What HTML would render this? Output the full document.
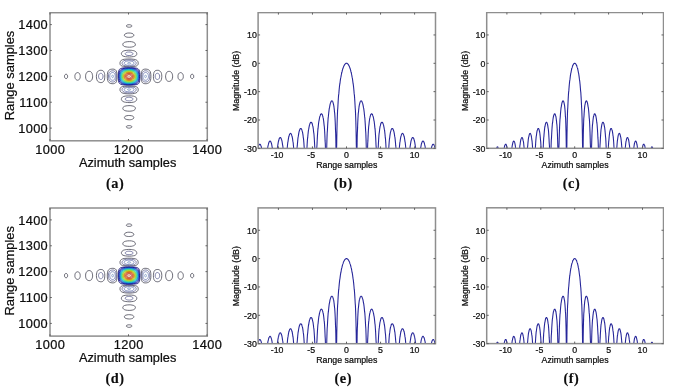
<!DOCTYPE html>
<html><head><meta charset="utf-8"><style>
html,body{margin:0;padding:0;background:#fff;}
body{width:685px;height:387px;overflow:hidden;}
svg{display:block;}
</style></head><body>
<svg width="685" height="387" viewBox="0 0 685 387">
<defs><filter id="bl" x="0" y="0" width="100%" height="100%"><feGaussianBlur stdDeviation="0.45"/></filter></defs>
<rect width="685" height="387" fill="#fff"/>
<g filter="url(#bl)">
<polyline points="130.2,27.1 129.5,27.2 128.8,27.2 128.0,27.1 127.3,26.9 126.8,26.7 126.5,26.4 126.3,26.0 126.4,25.8 126.6,25.4 127.0,25.1 127.5,24.9 128.1,24.8 129.5,24.7 130.2,24.8 130.8,25.0 131.2,25.1 131.6,25.4 131.8,25.8 131.8,26.2 131.6,26.5 131.2,26.8 130.2,27.1" fill="none" stroke="#3c3c4b" stroke-width="0.75"/>
<polyline points="129.8,37.3 128.4,37.3 127.2,37.2 126.3,37.0 125.5,36.6 124.8,36.2 124.4,35.6 124.4,35.0 124.5,34.6 125.1,34.0 126.0,33.5 127.4,33.1 128.9,33.0 130.5,33.1 131.9,33.4 132.9,33.8 133.6,34.5 133.8,34.9 133.8,35.5 133.6,36.0 133.1,36.4 132.6,36.7 131.8,37.0 130.8,37.2 129.8,37.3" fill="none" stroke="#3c3c4b" stroke-width="0.75"/>
<polyline points="131.3,47.1 129.5,47.2 127.7,47.1 126.0,46.9 124.7,46.6 123.6,46.0 123.1,45.4 122.8,44.6 122.9,43.9 123.1,43.5 123.5,43.0 124.4,42.4 125.7,42.0 127.4,41.7 129.5,41.6 131.4,41.7 133.1,42.1 133.8,42.4 134.3,42.7 135.0,43.3 135.3,44.0 135.4,44.8 135.1,45.5 134.6,46.0 133.7,46.5 132.6,46.8 131.3,47.1" fill="none" stroke="#3c3c4b" stroke-width="0.75"/>
<polyline points="129.6,57.0 127.4,56.9 125.5,56.7 124.0,56.4 122.8,55.9 122.0,55.3 121.7,54.8 121.5,54.4 121.4,54.0 121.4,53.3 121.8,52.5 122.1,52.0 122.6,51.5 123.3,51.1 124.1,50.8 125.0,50.6 126.2,50.4 128.8,50.2 131.4,50.3 132.6,50.5 133.7,50.7 134.6,51.0 135.3,51.4 135.9,51.8 136.3,52.3 136.6,52.8 136.7,53.2 136.8,53.8 136.8,54.2 136.6,54.7 136.4,55.1 135.7,55.8 134.8,56.3 133.4,56.6 131.8,56.8 129.6,57.0" fill="none" stroke="#3c3c4b" stroke-width="0.75"/>
<polyline points="133.1,66.6 129.6,66.7 126.0,66.6 123.6,66.4 122.6,66.2 121.8,66.0 121.2,65.7 120.8,65.3 120.4,64.9 120.2,64.5 120.0,63.8 120.0,63.2 120.0,62.5 120.2,61.9 120.5,61.3 120.8,60.8 121.2,60.4 121.7,60.1 122.3,59.8 123.0,59.5 124.8,59.2 127.8,59.0 131.3,59.0 133.8,59.3 134.9,59.5 135.8,59.8 136.5,60.1 137.1,60.5 137.5,61.0 137.9,61.6 138.1,62.3 138.2,63.1 138.2,63.8 138.0,64.5 137.8,64.9 137.4,65.3 137.0,65.6 136.6,65.9 135.2,66.3 133.1,66.6" fill="none" stroke="#3c3c4b" stroke-width="0.75"/>
<polyline points="133.6,85.0 131.0,85.1 128.0,85.1 125.5,85.1 123.3,84.9 122.0,84.7 121.0,84.4 120.1,84.0 119.5,83.4 119.1,82.9 118.8,82.3 118.5,80.8 118.2,78.4 118.2,75.4 118.3,73.0 118.6,71.2 119.1,70.0 119.3,69.5 119.8,69.1 120.3,68.7 121.1,68.4 122.0,68.1 123.0,67.9 126.2,67.7 130.6,67.7 134.0,67.8 136.2,68.1 137.1,68.3 137.8,68.6 138.3,69.0 138.7,69.4 139.2,70.1 139.6,71.2 139.8,72.5 140.0,74.2 140.0,76.6 139.9,79.0 139.7,80.8 139.4,82.2 139.2,82.8 138.8,83.3 138.3,83.8 137.8,84.2 137.0,84.5 136.1,84.7 133.6,85.0" fill="none" stroke="#00006b" stroke-width="0.75"/>
<polyline points="113.4,83.7 112.1,83.7 110.9,83.5 109.8,83.1 109.1,82.7 108.5,82.0 108.0,81.2 107.7,80.2 107.4,78.8 107.3,76.9 107.3,74.8 107.6,73.0 108.0,71.6 108.3,71.0 108.6,70.6 109.4,69.9 110.4,69.4 111.7,69.2 112.8,69.1 113.9,69.2 114.8,69.5 115.4,69.8 115.9,70.3 116.3,71.0 116.6,72.0 116.8,73.1 116.9,75.2 116.9,77.8 116.8,79.9 116.5,81.3 116.0,82.3 115.4,83.0 114.5,83.4 113.4,83.7" fill="none" stroke="#3c3c4b" stroke-width="0.75"/>
<polyline points="146.3,83.7 145.2,83.7 144.2,83.6 143.3,83.3 142.7,82.9 142.2,82.3 141.8,81.5 141.5,80.5 141.4,79.3 141.2,77.0 141.3,74.6 141.5,72.7 141.8,71.3 142.2,70.4 142.8,69.8 143.8,69.3 144.8,69.1 146.1,69.1 147.3,69.3 148.4,69.7 149.1,70.2 149.8,70.9 150.3,71.8 150.6,73.0 150.8,74.3 150.9,76.5 150.8,78.5 150.5,80.2 150.1,81.4 149.5,82.3 148.7,82.9 147.6,83.4 146.3,83.7" fill="none" stroke="#3c3c4b" stroke-width="0.75"/>
<polyline points="101.8,82.5 100.8,82.6 99.8,82.4 98.9,82.1 98.2,81.7 97.5,81.1 97.1,80.2 96.7,79.2 96.5,78.0 96.4,76.3 96.5,74.8 96.8,73.5 97.1,72.4 97.7,71.6 98.4,70.9 99.3,70.5 100.2,70.3 101.2,70.3 102.0,70.4 102.8,70.7 103.4,71.2 103.8,71.7 104.2,72.5 104.5,73.5 104.7,74.5 104.8,76.0 104.7,77.7 104.6,79.0 104.3,80.2 103.8,81.1 103.3,81.7 102.7,82.2 101.8,82.5" fill="none" stroke="#3c3c4b" stroke-width="0.75"/>
<polyline points="158.3,82.5 157.2,82.6 156.3,82.4 155.6,82.2 154.9,81.7 154.4,81.1 154.0,80.3 153.7,79.5 153.5,78.2 153.4,76.6 153.5,75.0 153.7,73.6 154.0,72.4 154.5,71.5 155.1,70.9 155.9,70.5 156.8,70.3 157.8,70.3 158.8,70.4 159.5,70.8 160.2,71.3 160.8,72.0 161.2,72.7 161.5,73.6 161.7,74.8 161.8,76.3 161.7,77.8 161.5,79.2 161.1,80.2 160.7,81.0 160.0,81.7 159.2,82.2 158.3,82.5" fill="none" stroke="#3c3c4b" stroke-width="0.75"/>
<polyline points="89.6,81.4 88.8,81.4 88.1,81.2 87.3,80.9 86.8,80.3 86.3,79.7 85.9,78.8 85.7,78.0 85.6,76.9 85.6,75.8 85.7,74.8 86.0,73.8 86.4,73.0 86.9,72.3 87.5,71.8 88.2,71.5 89.0,71.4 89.8,71.4 90.5,71.6 91.1,72.0 91.5,72.5 92.0,73.1 92.2,73.9 92.4,74.8 92.6,75.7 92.6,76.9 92.5,78.0 92.2,79.0 91.9,79.8 91.5,80.3 90.9,80.9 90.3,81.2 89.6,81.4" fill="none" stroke="#3c3c4b" stroke-width="0.75"/>
<polyline points="169.4,81.4 168.6,81.4 167.9,81.2 167.3,80.9 166.7,80.4 166.3,79.8 166.0,79.0 165.8,78.1 165.6,77.0 165.6,75.8 165.8,74.8 166.0,73.9 166.3,73.0 166.7,72.4 167.3,71.9 168.1,71.5 168.8,71.4 169.6,71.4 170.3,71.6 170.9,72.0 171.5,72.5 171.9,73.1 172.2,73.9 172.5,74.8 172.6,75.8 172.6,76.9 172.5,78.0 172.2,78.9 171.9,79.8 171.4,80.3 170.9,80.8 170.1,81.2 169.4,81.4" fill="none" stroke="#3c3c4b" stroke-width="0.75"/>
<polyline points="78.3,80.1 77.8,80.2 77.2,80.2 76.5,79.9 76.1,79.6 75.7,79.2 75.3,78.6 75.1,78.0 74.9,77.2 74.9,76.3 74.9,75.5 75.1,74.8 75.4,74.0 75.8,73.5 76.2,73.0 76.7,72.8 77.3,72.6 77.9,72.6 78.3,72.7 78.8,72.9 79.2,73.3 79.5,73.7 79.8,74.3 80.2,75.5 80.2,76.3 80.2,77.2 80.1,78.0 79.8,78.5 79.5,79.1 79.2,79.5 78.8,79.9 78.3,80.1" fill="none" stroke="#3c3c4b" stroke-width="0.75"/>
<polyline points="181.2,80.1 180.7,80.2 180.0,80.1 179.5,79.9 179.1,79.6 178.7,79.2 178.4,78.7 178.1,78.0 178.0,77.2 178.0,76.3 178.0,75.5 178.2,74.8 178.4,74.0 178.8,73.5 179.3,73.0 179.8,72.8 180.3,72.6 180.9,72.6 181.4,72.8 181.8,73.0 182.3,73.4 182.6,73.8 182.9,74.3 183.1,75.0 183.3,75.7 183.3,76.5 183.3,77.2 183.1,78.0 182.9,78.5 182.5,79.2 182.2,79.6 181.7,79.9 181.2,80.1" fill="none" stroke="#3c3c4b" stroke-width="0.75"/>
<polyline points="66.3,78.6 65.8,78.6 65.2,78.2 64.7,77.6 64.5,76.8 64.5,75.7 64.8,75.0 65.3,74.5 65.9,74.2 66.5,74.3 67.0,74.6 67.4,75.2 67.6,76.0 67.6,76.9 67.4,77.7 67.0,78.2 66.3,78.6" fill="none" stroke="#3c3c4b" stroke-width="0.75"/>
<polyline points="192.5,78.6 191.9,78.6 191.6,78.5 191.3,78.2 190.8,77.7 190.6,76.8 190.6,75.8 190.9,75.0 191.4,74.4 192.0,74.2 192.7,74.3 193.1,74.6 193.5,75.2 193.7,76.0 193.7,76.9 193.5,77.7 193.0,78.2 192.5,78.6" fill="none" stroke="#3c3c4b" stroke-width="0.75"/>
<polyline points="130.1,93.9 127.2,93.8 124.8,93.6 123.0,93.2 121.7,92.7 121.2,92.3 120.8,91.9 120.4,91.3 120.1,90.7 120.0,90.0 120.0,89.2 120.1,88.6 120.3,88.0 120.7,87.5 121.1,87.2 121.7,86.9 122.5,86.6 124.5,86.3 127.8,86.1 131.9,86.2 134.8,86.4 135.8,86.6 136.6,86.9 137.2,87.2 137.6,87.7 137.9,88.2 138.1,88.8 138.2,89.3 138.2,90.1 138.1,90.7 137.8,91.3 137.4,91.9 137.0,92.3 135.9,93.0 134.4,93.4 132.5,93.7 130.1,93.9" fill="none" stroke="#3c3c4b" stroke-width="0.75"/>
<polyline points="129.9,102.6 127.7,102.5 125.8,102.3 124.2,102.0 123.0,101.5 122.6,101.2 122.1,100.8 121.7,100.3 121.5,99.8 121.4,99.4 121.4,98.8 121.5,98.3 121.7,97.9 122.0,97.5 122.5,97.0 123.1,96.7 123.9,96.4 125.9,96.0 128.4,95.9 131.4,95.9 133.8,96.2 134.6,96.5 135.3,96.8 135.9,97.2 136.3,97.6 136.6,98.0 136.7,98.5 136.8,99.0 136.7,99.5 136.6,100.0 136.4,100.5 135.6,101.2 134.6,101.8 133.4,102.2 131.9,102.4 129.9,102.6" fill="none" stroke="#3c3c4b" stroke-width="0.75"/>
<polyline points="131.0,111.1 129.2,111.2 127.4,111.1 125.9,110.9 124.6,110.5 123.6,109.9 123.1,109.3 122.8,108.5 122.8,108.1 123.0,107.7 123.2,107.2 123.5,106.9 123.9,106.6 124.5,106.3 126.0,105.9 127.8,105.7 130.1,105.6 132.1,105.9 133.7,106.3 134.3,106.6 134.7,106.9 135.2,107.5 135.4,108.2 135.3,109.0 134.9,109.6 134.3,110.1 133.4,110.6 132.3,110.9 131.0,111.1" fill="none" stroke="#3c3c4b" stroke-width="0.75"/>
<polyline points="130.7,119.7 129.3,119.8 128.0,119.7 126.8,119.5 125.8,119.2 125.0,118.8 124.6,118.3 124.4,117.7 124.5,117.1 124.9,116.5 125.8,116.0 127.0,115.7 128.3,115.5 129.8,115.5 131.3,115.7 132.5,116.0 133.3,116.5 133.7,117.0 133.8,117.4 133.8,118.0 133.5,118.5 133.0,118.9 132.4,119.2 131.6,119.5 130.7,119.7" fill="none" stroke="#3c3c4b" stroke-width="0.75"/>
<polyline points="129.8,128.1 128.3,128.1 127.2,127.8 126.7,127.5 126.4,127.2 126.3,126.8 126.4,126.5 126.6,126.2 127.2,125.9 128.0,125.7 128.8,125.6 129.6,125.6 130.4,125.7 131.1,126.0 131.6,126.2 131.8,126.5 131.9,126.8 131.8,127.2 131.6,127.4 131.3,127.6 130.8,127.8 129.8,128.1" fill="none" stroke="#3c3c4b" stroke-width="0.75"/>
<polyline points="130.1,55.5 129.1,55.5 128.0,55.5 127.1,55.3 126.2,55.0 125.7,54.7 125.3,54.2 125.2,53.8 125.3,53.3 125.8,52.8 126.5,52.4 127.5,52.1 128.8,52.0 130.1,52.0 131.1,52.2 132.1,52.6 132.7,53.0 132.9,53.3 133.0,53.8 132.9,54.2 132.7,54.5 132.3,54.8 131.6,55.1 130.1,55.5" fill="none" stroke="#555a8c" stroke-width="0.75"/>
<polyline points="131.8,66.0 129.5,66.1 127.2,66.0 125.3,65.8 124.0,65.5 123.4,65.2 122.9,64.9 122.3,64.3 122.1,63.8 122.0,63.4 122.1,63.0 122.2,62.5 122.4,62.0 122.7,61.6 123.2,61.2 123.6,60.9 125.0,60.3 126.6,60.0 128.9,59.9 131.1,60.0 133.1,60.3 134.5,60.8 135.3,61.5 135.7,61.9 136.0,62.3 136.1,62.8 136.2,63.2 136.1,63.7 136.0,64.1 135.6,64.6 135.3,64.9 134.5,65.3 133.4,65.7 131.8,66.0" fill="none" stroke="#555a8c" stroke-width="0.75"/>
<polyline points="130.1,84.7 127.8,84.7 125.9,84.6 124.2,84.4 122.9,84.1 121.8,83.8 121.0,83.3 120.3,82.8 119.7,82.0 119.2,80.7 118.8,78.7 118.7,76.3 118.8,73.9 119.1,72.2 119.7,70.9 120.3,70.0 121.2,69.3 122.0,68.9 123.0,68.6 125.5,68.2 128.9,68.1 132.5,68.2 134.8,68.5 136.4,69.0 137.0,69.3 137.6,69.7 138.1,70.2 138.5,70.8 138.9,71.8 139.2,73.0 139.4,74.6 139.5,76.6 139.4,78.4 139.2,79.9 138.9,81.1 138.4,82.2 137.9,82.8 137.3,83.3 136.6,83.7 135.6,84.1 134.6,84.3 133.2,84.5 130.1,84.7" fill="none" stroke="#00008d" stroke-width="0.75"/>
<polyline points="113.3,82.0 112.4,82.0 111.4,81.8 110.6,81.5 109.9,81.0 109.4,80.3 108.9,79.5 108.7,78.5 108.5,77.3 108.4,76.0 108.6,74.8 108.8,73.6 109.2,72.7 109.8,72.0 110.4,71.4 111.3,71.0 112.2,70.8 113.0,70.8 113.8,70.9 114.4,71.2 115.0,71.6 115.4,72.2 115.7,73.0 116.0,74.0 116.1,75.1 116.2,76.5 116.1,77.8 116.0,79.0 115.6,80.0 115.2,80.8 114.7,81.4 114.0,81.8 113.3,82.0" fill="none" stroke="#555a8c" stroke-width="0.75"/>
<polyline points="146.1,82.0 145.2,82.0 144.5,81.9 143.8,81.6 143.2,81.1 142.8,80.5 142.4,79.8 142.2,78.8 142.0,77.7 142.0,76.1 142.1,74.6 142.3,73.5 142.6,72.5 143.1,71.8 143.6,71.3 144.3,70.9 145.2,70.8 146.1,70.8 147.1,71.0 147.8,71.4 148.4,71.9 148.9,72.5 149.3,73.5 149.6,74.5 149.7,75.5 149.8,76.9 149.6,78.1 149.4,79.2 149.0,80.0 148.5,80.8 147.8,81.4 147.1,81.8 146.1,82.0" fill="none" stroke="#555a8c" stroke-width="0.75"/>
<polyline points="101.3,79.5 100.8,79.5 100.4,79.5 99.9,79.3 99.5,79.0 99.1,78.5 98.9,78.1 98.7,77.5 98.6,76.9 98.5,76.1 98.6,75.5 98.8,75.0 99.0,74.4 99.4,73.9 99.8,73.6 100.2,73.4 100.7,73.3 101.4,73.4 101.8,73.6 102.2,73.9 102.5,74.3 102.7,74.8 103.0,75.8 103.0,77.0 102.7,78.2 102.4,78.7 102.0,79.0 101.7,79.3 101.3,79.5" fill="none" stroke="#555a8c" stroke-width="0.75"/>
<polyline points="157.8,79.5 157.4,79.5 156.9,79.5 156.5,79.3 156.1,79.0 155.8,78.6 155.5,78.1 155.3,77.5 155.2,76.9 155.3,75.5 155.4,74.9 155.7,74.3 156.0,73.9 156.3,73.6 156.8,73.4 157.2,73.3 157.7,73.3 158.1,73.4 158.6,73.7 158.9,74.0 159.2,74.5 159.4,75.0 159.7,76.0 159.6,77.2 159.3,78.2 159.0,78.7 158.6,79.1 157.8,79.5" fill="none" stroke="#555a8c" stroke-width="0.75"/>
<polyline points="131.3,92.8 129.3,92.9 127.2,92.9 125.5,92.6 124.1,92.1 123.0,91.5 122.7,91.2 122.3,90.7 122.1,90.2 122.0,89.7 122.1,89.2 122.2,88.8 122.5,88.3 122.8,88.0 123.2,87.7 123.8,87.4 125.3,87.0 127.4,86.8 130.1,86.7 132.6,87.0 134.3,87.4 135.0,87.7 135.4,88.0 135.7,88.3 136.0,88.8 136.2,89.5 136.1,90.0 136.0,90.4 135.5,91.2 134.8,91.8 133.9,92.2 132.8,92.6 131.3,92.8" fill="none" stroke="#555a8c" stroke-width="0.75"/>
<polyline points="130.4,100.8 129.3,100.9 128.3,100.8 127.4,100.7 126.5,100.4 125.9,100.1 125.4,99.7 125.2,99.2 125.2,99.0 125.3,98.7 125.6,98.2 126.3,97.8 127.3,97.5 128.4,97.3 129.6,97.3 130.9,97.5 131.9,97.8 132.6,98.2 132.9,98.5 133.0,99.0 132.9,99.4 132.8,99.7 132.4,100.0 131.9,100.3 131.2,100.6 130.4,100.8" fill="none" stroke="#555a8c" stroke-width="0.75"/>
<polyline points="130.8,65.2 129.5,65.3 128.1,65.3 126.8,65.1 125.8,64.8 124.9,64.5 124.5,64.0 124.2,63.4 124.3,62.8 124.7,62.2 125.2,61.8 126.2,61.3 127.2,61.1 128.4,60.9 129.8,60.9 131.1,61.1 132.2,61.4 133.1,61.8 133.7,62.3 134.0,63.0 134.0,63.4 133.9,63.7 133.6,64.2 132.9,64.6 132.1,65.0 130.8,65.2" fill="none" stroke="#6473af" stroke-width="0.75"/>
<polyline points="131.0,84.3 128.9,84.3 127.0,84.2 125.3,84.1 123.8,83.8 122.6,83.4 121.7,82.9 121.0,82.3 120.3,81.6 119.8,80.3 119.4,78.7 119.2,76.6 119.3,74.5 119.6,72.8 120.1,71.6 120.8,70.6 121.7,69.9 122.5,69.5 123.3,69.1 125.5,68.7 128.4,68.5 131.6,68.6 133.8,68.9 134.8,69.1 135.6,69.4 136.2,69.7 136.9,70.1 137.4,70.6 137.8,71.2 138.3,72.1 138.6,73.2 138.9,74.5 139.0,76.0 139.0,77.5 138.8,79.0 138.5,80.2 138.1,81.2 137.7,81.8 137.1,82.5 136.4,83.0 135.6,83.4 134.8,83.7 133.7,83.9 131.0,84.3" fill="none" stroke="#001292" stroke-width="0.75"/>
<polyline points="113.3,80.2 112.7,80.3 112.1,80.3 111.5,80.0 110.9,79.6 110.4,79.1 110.2,78.5 109.9,77.8 109.8,77.0 109.7,76.1 109.8,75.4 110.0,74.6 110.3,73.9 110.8,73.3 111.2,73.0 111.8,72.6 112.4,72.5 113.0,72.5 113.4,72.6 113.9,72.9 114.3,73.3 114.6,73.7 114.9,74.2 115.2,75.5 115.3,76.3 115.2,77.2 115.1,78.0 114.8,78.7 114.5,79.3 114.2,79.7 113.8,80.0 113.3,80.2" fill="none" stroke="#6473af" stroke-width="0.75"/>
<polyline points="146.3,80.2 145.7,80.3 145.1,80.3 144.5,80.1 144.1,79.8 143.7,79.3 143.4,78.7 143.1,78.1 143.0,77.3 142.9,76.5 143.0,75.5 143.2,74.6 143.4,73.9 143.8,73.4 144.2,72.9 144.6,72.7 145.2,72.5 145.8,72.5 146.3,72.6 146.9,72.9 147.3,73.2 147.8,73.8 148.0,74.2 148.2,74.8 148.4,75.5 148.5,76.3 148.4,77.2 148.3,78.0 148.0,78.5 147.7,79.2 147.3,79.6 146.9,79.9 146.3,80.2" fill="none" stroke="#6473af" stroke-width="0.75"/>
<polyline points="129.2,91.9 128.0,91.8 127.0,91.7 126.0,91.4 125.2,91.0 124.6,90.5 124.3,90.0 124.2,89.3 124.4,88.9 124.6,88.6 125.0,88.3 126.1,87.8 127.4,87.6 129.1,87.5 130.7,87.6 132.1,87.8 133.2,88.3 133.6,88.6 133.8,88.9 134.0,89.3 133.9,90.0 133.6,90.5 133.0,91.0 132.3,91.4 131.4,91.6 130.4,91.8 129.2,91.9" fill="none" stroke="#6473af" stroke-width="0.75"/>
<polyline points="129.8,63.9 128.9,63.9 128.1,63.8 127.7,63.5 127.6,63.4 127.5,63.1 127.8,62.8 128.6,62.5 129.3,62.5 130.1,62.6 130.6,63.0 130.7,63.2 130.6,63.4 130.4,63.6 129.8,63.9" fill="none" stroke="#6e8cbe" stroke-width="0.75"/>
<polyline points="131.6,83.8 129.8,83.9 128.0,83.9 126.2,83.8 124.7,83.5 123.5,83.1 122.5,82.7 121.5,82.0 121.0,81.3 120.3,80.2 119.9,78.7 119.7,76.9 119.8,75.1 120.0,73.6 120.5,72.2 121.2,71.2 122.0,70.4 122.7,70.0 123.5,69.7 124.4,69.4 125.5,69.2 128.0,68.9 130.8,68.9 133.1,69.2 134.9,69.7 135.6,70.1 136.2,70.5 136.8,70.9 137.3,71.5 137.8,72.3 138.1,73.3 138.4,74.5 138.5,75.7 138.5,77.0 138.4,78.2 138.1,79.5 137.8,80.5 137.3,81.2 136.8,81.8 136.2,82.3 135.6,82.8 134.8,83.1 133.8,83.4 131.6,83.8" fill="none" stroke="#0045d1" stroke-width="0.75"/>
<polyline points="112.7,77.7 112.4,77.6 112.0,77.3 111.8,76.9 111.7,76.5 111.8,76.0 112.0,75.5 112.3,75.2 112.7,75.1 113.0,75.2 113.3,75.5 113.5,76.0 113.5,76.5 113.5,76.9 113.3,77.3 113.0,77.6 112.7,77.7" fill="none" stroke="#6e8cbe" stroke-width="0.75"/>
<polyline points="145.6,77.7 145.2,77.6 144.9,77.3 144.7,76.9 144.7,76.5 144.7,76.0 144.9,75.5 145.2,75.2 145.6,75.1 145.9,75.2 146.2,75.5 146.4,76.0 146.5,76.5 146.4,76.9 146.2,77.3 145.8,77.6 145.6,77.7" fill="none" stroke="#6e8cbe" stroke-width="0.75"/>
<polyline points="129.6,90.3 128.9,90.3 128.1,90.1 127.6,89.8 127.5,89.5 127.7,89.2 128.0,89.0 128.8,88.9 129.7,88.9 130.2,89.0 130.5,89.2 130.7,89.5 130.6,89.8 130.2,90.1 129.6,90.3" fill="none" stroke="#6e8cbe" stroke-width="0.75"/>
<polyline points="130.6,83.5 128.9,83.6 127.2,83.5 125.8,83.3 124.4,82.9 123.3,82.5 122.5,82.0 121.7,81.3 121.1,80.5 120.6,79.3 120.2,77.8 120.2,76.1 120.3,74.5 120.7,73.1 121.2,72.1 122.0,71.2 122.9,70.5 123.6,70.1 124.5,69.8 126.6,69.4 129.1,69.2 131.6,69.4 133.6,69.8 135.1,70.4 135.7,70.8 136.2,71.2 136.7,71.7 137.1,72.2 137.5,73.1 137.8,74.0 138.0,75.1 138.0,76.3 138.0,77.5 137.8,78.5 137.5,79.6 137.1,80.5 136.7,81.1 136.1,81.7 135.5,82.2 134.8,82.6 133.8,82.9 132.9,83.2 131.8,83.4 130.6,83.5" fill="none" stroke="#0073d1" stroke-width="0.75"/>
<polyline points="131.3,83.1 129.8,83.2 128.1,83.2 126.6,83.0 125.3,82.8 124.1,82.4 123.2,81.9 122.4,81.2 121.7,80.5 121.2,79.5 120.8,78.1 120.6,76.6 120.7,75.1 121.0,73.8 121.5,72.7 122.1,71.8 123.0,71.0 123.6,70.7 124.4,70.3 126.2,69.8 128.4,69.6 130.7,69.7 132.6,70.0 134.3,70.5 135.5,71.3 135.9,71.7 136.4,72.2 136.9,73.0 137.2,73.9 137.5,74.8 137.6,75.8 137.6,76.9 137.5,78.0 137.3,78.8 136.9,79.8 136.6,80.4 136.1,81.0 135.5,81.5 134.9,81.9 134.1,82.3 133.2,82.7 131.3,83.1" fill="none" stroke="#009dd1" stroke-width="0.75"/>
<polyline points="130.7,82.8 129.2,82.8 127.7,82.8 126.3,82.6 125.1,82.3 124.1,81.9 123.2,81.3 122.5,80.7 121.9,79.9 121.4,78.8 121.1,77.5 121.1,76.1 121.2,74.8 121.5,73.7 122.1,72.7 122.8,71.9 123.6,71.2 124.4,70.8 125.1,70.5 127.0,70.1 129.1,70.0 131.1,70.1 132.8,70.5 134.3,71.0 135.4,71.8 135.8,72.3 136.2,72.8 136.6,73.6 136.9,74.5 137.1,75.4 137.1,76.3 137.1,77.2 137.0,78.1 136.7,79.0 136.4,79.8 136.0,80.3 135.5,80.9 134.9,81.4 134.3,81.8 133.6,82.1 132.6,82.4 130.7,82.8" fill="none" stroke="#0ccbbd" stroke-width="0.75"/>
<polyline points="129.9,82.5 128.6,82.5 127.2,82.4 125.9,82.1 124.8,81.7 123.9,81.2 123.2,80.7 122.5,79.9 122.1,79.2 121.7,78.0 121.5,76.8 121.5,75.5 121.8,74.3 122.2,73.5 122.8,72.5 123.6,71.8 124.5,71.2 126.0,70.7 127.8,70.4 129.8,70.3 131.8,70.6 133.2,71.0 134.4,71.7 135.4,72.5 136.1,73.6 136.4,74.3 136.6,75.1 136.7,76.0 136.7,76.9 136.6,77.8 136.4,78.5 136.0,79.3 135.7,79.9 135.2,80.5 134.7,81.0 134.1,81.3 133.4,81.7 131.8,82.2 129.9,82.5" fill="none" stroke="#2ed19b" stroke-width="0.75"/>
<polyline points="130.8,82.0 129.6,82.1 128.3,82.1 127.1,82.0 125.9,81.7 124.8,81.3 124.1,80.8 123.4,80.2 122.8,79.5 122.3,78.5 122.0,77.5 121.9,76.3 122.0,75.2 122.3,74.2 122.8,73.3 123.4,72.5 124.2,71.9 125.6,71.2 127.1,70.8 128.9,70.7 130.7,70.8 132.2,71.1 133.6,71.6 134.6,72.4 135.4,73.3 135.7,73.9 136.0,74.6 136.2,75.4 136.3,76.1 136.1,77.7 135.9,78.4 135.6,79.1 135.3,79.6 134.9,80.1 134.4,80.6 133.8,81.0 132.5,81.6 130.8,82.0" fill="none" stroke="#53d176" stroke-width="0.75"/>
<polyline points="130.2,81.7 129.1,81.8 127.8,81.7 126.8,81.5 125.8,81.2 124.8,80.8 124.1,80.3 123.5,79.6 123.0,78.8 122.6,78.0 122.4,76.9 122.4,75.8 122.6,74.8 123.0,73.9 123.5,73.1 124.1,72.5 125.0,71.9 126.3,71.4 127.8,71.1 129.5,71.0 131.1,71.2 132.5,71.6 133.7,72.2 134.6,73.0 135.2,73.9 135.5,74.5 135.7,75.2 135.8,76.6 135.6,78.0 135.4,78.5 135.1,79.2 134.6,79.8 134.2,80.2 133.1,80.9 131.8,81.4 130.2,81.7" fill="none" stroke="#76d153" stroke-width="0.75"/>
<polyline points="129.5,81.4 128.3,81.4 127.2,81.2 126.2,80.9 125.3,80.5 124.5,80.0 123.9,79.5 123.4,78.7 123.1,78.0 122.9,77.0 122.9,76.0 123.0,75.1 123.4,74.2 123.8,73.5 124.5,72.7 125.3,72.2 126.3,71.8 127.7,71.5 129.2,71.4 130.6,71.5 131.9,71.8 132.9,72.3 133.9,73.0 134.6,73.8 135.1,74.8 135.3,76.0 135.3,77.3 134.9,78.5 134.3,79.5 133.5,80.2 132.3,80.8 131.0,81.2 129.5,81.4" fill="none" stroke="#9bd12e" stroke-width="0.75"/>
<polyline points="130.2,81.0 129.2,81.0 128.1,81.0 127.2,80.8 126.3,80.6 125.6,80.2 124.9,79.8 124.3,79.2 123.9,78.5 123.5,77.8 123.3,76.9 123.3,76.0 123.5,75.1 123.8,74.3 124.3,73.6 125.0,73.0 125.6,72.6 126.7,72.1 128.0,71.8 129.5,71.8 130.8,71.9 132.1,72.3 133.0,72.8 133.8,73.6 134.4,74.3 134.8,75.4 134.9,76.6 134.7,77.7 134.2,78.7 133.6,79.5 132.6,80.2 131.6,80.7 130.2,81.0" fill="none" stroke="#bdd10c" stroke-width="0.75"/>
<polyline points="130.6,80.5 129.6,80.6 128.8,80.6 127.8,80.5 127.0,80.3 126.2,80.0 125.5,79.6 124.9,79.2 124.4,78.5 124.0,77.8 123.8,77.0 123.8,76.3 123.9,75.5 124.1,74.8 124.5,74.2 125.0,73.6 125.5,73.1 126.5,72.6 127.5,72.3 128.8,72.2 130.1,72.2 131.1,72.4 132.2,72.9 133.1,73.5 133.7,74.2 134.2,75.1 134.4,76.1 134.3,77.2 134.0,78.2 133.4,79.0 132.6,79.7 131.6,80.2 130.6,80.5" fill="none" stroke="#d1ad00" stroke-width="0.75"/>
<polyline points="129.8,80.2 128.9,80.2 128.1,80.2 127.4,80.0 126.6,79.8 126.0,79.4 125.5,79.0 124.9,78.4 124.6,77.8 124.4,77.2 124.3,76.5 124.4,75.7 124.5,75.1 124.9,74.5 125.4,73.9 125.9,73.5 126.6,73.0 127.7,72.7 128.8,72.6 129.8,72.6 130.8,72.8 131.8,73.1 132.5,73.6 133.1,74.2 133.6,75.0 133.9,75.8 133.9,76.8 133.7,77.7 133.3,78.4 132.6,79.1 131.9,79.6 130.8,80.0 129.8,80.2" fill="none" stroke="#cd740d" stroke-width="0.75"/>
<polyline points="129.8,79.8 129.1,79.8 128.3,79.7 127.6,79.6 127.0,79.4 126.3,79.0 125.9,78.7 125.5,78.2 125.1,77.7 124.9,77.0 124.8,76.5 124.9,75.8 125.1,75.2 125.4,74.6 125.8,74.2 126.3,73.8 126.9,73.5 127.8,73.1 128.8,73.0 129.6,73.0 130.6,73.2 131.3,73.5 132.1,73.9 132.6,74.5 133.1,75.1 133.3,75.8 133.3,76.6 133.2,77.3 132.8,78.1 132.3,78.7 131.6,79.2 130.7,79.6 129.8,79.8" fill="none" stroke="#cd5c0d" stroke-width="0.75"/>
<polyline points="129.5,79.3 128.8,79.3 128.1,79.2 127.1,78.8 126.5,78.5 126.1,78.1 125.8,77.7 125.6,77.2 125.5,76.8 125.5,76.1 125.6,75.5 125.8,75.1 126.1,74.6 126.5,74.3 127.0,74.0 127.5,73.7 128.3,73.5 129.1,73.5 129.9,73.6 130.7,73.8 131.3,74.0 131.9,74.5 132.3,75.0 132.6,75.5 132.7,76.1 132.7,76.9 132.5,77.5 132.1,78.1 131.6,78.5 131.0,78.9 130.2,79.2 129.5,79.3" fill="none" stroke="#cd470d" stroke-width="0.75"/>
<polyline points="129.8,78.7 128.8,78.7 127.8,78.6 127.0,78.1 126.5,77.5 126.2,76.8 126.1,76.3 126.2,75.8 126.6,75.1 127.3,74.5 127.8,74.2 128.4,74.1 129.2,74.0 129.8,74.1 130.4,74.3 131.0,74.6 131.5,75.0 131.8,75.4 132.0,75.8 132.1,76.5 131.9,77.0 131.8,77.5 131.4,77.9 131.0,78.2 130.4,78.5 129.8,78.7" fill="none" stroke="#c82f0d" stroke-width="0.75"/>
<polyline points="129.8,78.0 129.2,78.1 128.4,78.0 127.8,77.7 127.4,77.3 127.1,76.9 127.0,76.3 127.2,75.7 127.6,75.2 128.0,75.0 128.4,74.8 129.3,74.8 129.8,74.8 130.2,75.0 130.8,75.5 131.2,76.1 131.2,76.6 131.1,76.9 130.7,77.5 130.2,77.8 129.8,78.0" fill="none" stroke="#ae2a0d" stroke-width="0.75"/>
<ellipse cx="129.10" cy="76.40" rx="1.1" ry="0.9" fill="#eab090"/>
<rect x="50.00" y="12.70" width="157.30" height="128.10" fill="none" stroke="#8e8e8e" stroke-width="1.5"/>
<line x1="50.00" y1="140.80" x2="50.00" y2="139.00" stroke="#606060" stroke-width="1"/>
<line x1="50.00" y1="12.70" x2="50.00" y2="14.50" stroke="#606060" stroke-width="1"/>
<text x="50.20" y="153.90" font-family="Liberation Sans" font-size="12.8" text-anchor="middle" font-weight="normal" fill="#0a0a0a" stroke="#0a0a0a" stroke-width="0.2" letter-spacing="0.35">1000</text>
<line x1="128.50" y1="140.80" x2="128.50" y2="139.00" stroke="#606060" stroke-width="1"/>
<line x1="128.50" y1="12.70" x2="128.50" y2="14.50" stroke="#606060" stroke-width="1"/>
<text x="128.70" y="153.90" font-family="Liberation Sans" font-size="12.8" text-anchor="middle" font-weight="normal" fill="#0a0a0a" stroke="#0a0a0a" stroke-width="0.2" letter-spacing="0.35">1200</text>
<line x1="207.00" y1="140.80" x2="207.00" y2="139.00" stroke="#606060" stroke-width="1"/>
<line x1="207.00" y1="12.70" x2="207.00" y2="14.50" stroke="#606060" stroke-width="1"/>
<text x="207.20" y="153.90" font-family="Liberation Sans" font-size="12.8" text-anchor="middle" font-weight="normal" fill="#0a0a0a" stroke="#0a0a0a" stroke-width="0.2" letter-spacing="0.35">1400</text>
<line x1="50.00" y1="128.10" x2="51.80" y2="128.10" stroke="#606060" stroke-width="1"/>
<line x1="207.30" y1="128.10" x2="205.50" y2="128.10" stroke="#606060" stroke-width="1"/>
<text x="48.10" y="132.70" font-family="Liberation Sans" font-size="12.8" text-anchor="end" font-weight="normal" fill="#0a0a0a" stroke="#0a0a0a" stroke-width="0.2" letter-spacing="0.35">1000</text>
<line x1="50.00" y1="102.22" x2="51.80" y2="102.22" stroke="#606060" stroke-width="1"/>
<line x1="207.30" y1="102.22" x2="205.50" y2="102.22" stroke="#606060" stroke-width="1"/>
<text x="48.10" y="106.82" font-family="Liberation Sans" font-size="12.8" text-anchor="end" font-weight="normal" fill="#0a0a0a" stroke="#0a0a0a" stroke-width="0.2" letter-spacing="0.35">1100</text>
<line x1="50.00" y1="76.35" x2="51.80" y2="76.35" stroke="#606060" stroke-width="1"/>
<line x1="207.30" y1="76.35" x2="205.50" y2="76.35" stroke="#606060" stroke-width="1"/>
<text x="48.10" y="80.95" font-family="Liberation Sans" font-size="12.8" text-anchor="end" font-weight="normal" fill="#0a0a0a" stroke="#0a0a0a" stroke-width="0.2" letter-spacing="0.35">1200</text>
<line x1="50.00" y1="50.47" x2="51.80" y2="50.47" stroke="#606060" stroke-width="1"/>
<line x1="207.30" y1="50.47" x2="205.50" y2="50.47" stroke="#606060" stroke-width="1"/>
<text x="48.10" y="55.07" font-family="Liberation Sans" font-size="12.8" text-anchor="end" font-weight="normal" fill="#0a0a0a" stroke="#0a0a0a" stroke-width="0.2" letter-spacing="0.35">1300</text>
<line x1="50.00" y1="24.60" x2="51.80" y2="24.60" stroke="#606060" stroke-width="1"/>
<line x1="207.30" y1="24.60" x2="205.50" y2="24.60" stroke="#606060" stroke-width="1"/>
<text x="48.10" y="29.20" font-family="Liberation Sans" font-size="12.8" text-anchor="end" font-weight="normal" fill="#0a0a0a" stroke="#0a0a0a" stroke-width="0.2" letter-spacing="0.35">1400</text>
<text x="127.60" y="166.60" font-family="Liberation Sans" font-size="12.8" text-anchor="middle" font-weight="normal" fill="#0a0a0a" stroke="#0a0a0a" stroke-width="0.2" >Azimuth samples</text>
<text transform="translate(14.0,75.5) rotate(-90)" font-family="Liberation Sans" font-size="12.9" text-anchor="middle" fill="#0a0a0a" stroke="#0a0a0a" stroke-width="0.2">Range samples</text>
<text x="115.10" y="187.60" font-family="Liberation Serif" font-size="14.3" text-anchor="middle" font-weight="bold" fill="#0a0a0a" stroke="#0a0a0a" stroke-width="0.1" letter-spacing="0.5">(a)</text>
<clipPath id="cp2580"><rect x="258.1" y="12.6" width="177.39999999999998" height="135.8"/></clipPath>
<polyline clip-path="url(#cp2580)" points="258.0,148.2 258.1,147.7 258.2,147.3 258.3,146.8 258.4,146.4 258.5,146.1 258.6,145.8 258.7,145.5 258.9,145.2 259.0,145.0 259.1,144.8 259.2,144.6 259.3,144.5 259.4,144.3 259.5,144.3 259.6,144.2 259.7,144.2 259.9,144.2 260.0,144.2 260.1,144.3 260.2,144.3 260.3,144.5 260.4,144.6 260.5,144.8 260.6,145.0 260.7,145.2 260.8,145.5 261.0,145.8 261.1,146.1 261.2,146.5 261.3,146.9 261.4,147.3 261.5,147.8 261.6,148.3 261.7,148.9 261.8,149.5 262.0,150.2 262.1,150.9 262.2,151.2 262.3,151.2 262.4,151.2 262.5,151.2 262.6,151.2 262.7,151.2 262.8,151.2 262.9,151.2 263.1,151.2 263.2,151.2 263.3,151.2 263.4,151.2 263.5,151.2 263.6,151.2 263.7,151.2 263.8,151.2 263.9,151.2 264.1,151.2 264.2,151.2 264.3,151.2 264.4,151.2 264.5,151.2 264.6,151.2 264.7,151.2 264.8,151.2 264.9,151.2 265.1,151.2 265.2,151.2 265.3,151.2 265.4,151.2 265.5,151.2 265.6,151.2 265.7,151.2 265.8,151.2 265.9,151.2 266.0,151.2 266.2,151.2 266.3,151.2 266.4,151.2 266.5,151.2 266.6,151.2 266.7,151.2 266.8,151.2 266.9,151.2 267.0,151.2 267.2,151.2 267.3,151.0 267.4,150.1 267.5,149.3 267.6,148.5 267.7,147.8 267.8,147.1 267.9,146.5 268.0,145.9 268.2,145.3 268.3,144.8 268.4,144.4 268.5,143.9 268.6,143.5 268.7,143.1 268.8,142.8 268.9,142.5 269.0,142.2 269.1,142.0 269.3,141.8 269.4,141.6 269.5,141.4 269.6,141.3 269.7,141.2 269.8,141.1 269.9,141.1 270.0,141.1 270.1,141.1 270.3,141.1 270.4,141.2 270.5,141.3 270.6,141.5 270.7,141.6 270.8,141.8 270.9,142.0 271.0,142.3 271.1,142.6 271.2,142.9 271.4,143.2 271.5,143.6 271.6,144.1 271.7,144.5 271.8,145.0 271.9,145.6 272.0,146.2 272.1,146.8 272.2,147.5 272.4,148.2 272.5,149.0 272.6,149.8 272.7,150.7 272.8,151.2 272.9,151.2 273.0,151.2 273.1,151.2 273.2,151.2 273.4,151.2 273.5,151.2 273.6,151.2 273.7,151.2 273.8,151.2 273.9,151.2 274.0,151.2 274.1,151.2 274.2,151.2 274.3,151.2 274.5,151.2 274.6,151.2 274.7,151.2 274.8,151.2 274.9,151.2 275.0,151.2 275.1,151.2 275.2,151.2 275.3,151.2 275.5,151.2 275.6,151.2 275.7,151.2 275.8,151.2 275.9,151.2 276.0,151.2 276.1,151.2 276.2,151.2 276.3,151.2 276.5,151.2 276.6,151.2 276.7,151.2 276.8,151.2 276.9,151.2 277.0,151.2 277.1,151.0 277.2,149.9 277.3,148.8 277.4,147.9 277.6,147.0 277.7,146.1 277.8,145.3 277.9,144.6 278.0,143.9 278.1,143.3 278.2,142.6 278.3,142.1 278.4,141.5 278.6,141.1 278.7,140.6 278.8,140.2 278.9,139.8 279.0,139.4 279.1,139.1 279.2,138.8 279.3,138.6 279.4,138.3 279.5,138.1 279.7,138.0 279.8,137.8 279.9,137.7 280.0,137.6 280.1,137.6 280.2,137.6 280.3,137.6 280.4,137.6 280.5,137.6 280.7,137.7 280.8,137.9 280.9,138.0 281.0,138.2 281.1,138.4 281.2,138.6 281.3,138.9 281.4,139.2 281.5,139.5 281.7,139.9 281.8,140.3 281.9,140.8 282.0,141.2 282.1,141.8 282.2,142.3 282.3,143.0 282.4,143.6 282.5,144.3 282.6,145.1 282.8,145.9 282.9,146.8 283.0,147.7 283.1,148.8 283.2,149.8 283.3,151.0 283.4,151.2 283.5,151.2 283.6,151.2 283.8,151.2 283.9,151.2 284.0,151.2 284.1,151.2 284.2,151.2 284.3,151.2 284.4,151.2 284.5,151.2 284.6,151.2 284.8,151.2 284.9,151.2 285.0,151.2 285.1,151.2 285.2,151.2 285.3,151.2 285.4,151.2 285.5,151.2 285.6,151.2 285.7,151.2 285.9,151.2 286.0,151.2 286.1,151.2 286.2,151.2 286.3,151.2 286.4,151.2 286.5,151.2 286.6,151.2 286.7,151.2 286.9,151.2 287.0,151.2 287.1,149.9 287.2,148.6 287.3,147.4 287.4,146.3 287.5,145.2 287.6,144.2 287.7,143.3 287.8,142.4 288.0,141.6 288.1,140.9 288.2,140.1 288.3,139.5 288.4,138.8 288.5,138.3 288.6,137.7 288.7,137.2 288.8,136.7 289.0,136.3 289.1,135.9 289.2,135.5 289.3,135.2 289.4,134.9 289.5,134.6 289.6,134.3 289.7,134.1 289.8,133.9 290.0,133.8 290.1,133.7 290.2,133.6 290.3,133.5 290.4,133.4 290.5,133.4 290.6,133.4 290.7,133.5 290.8,133.6 290.9,133.7 291.1,133.8 291.2,133.9 291.3,134.1 291.4,134.4 291.5,134.6 291.6,134.9 291.7,135.2 291.8,135.6 291.9,136.0 292.1,136.4 292.2,136.9 292.3,137.4 292.4,137.9 292.5,138.5 292.6,139.1 292.7,139.8 292.8,140.6 292.9,141.4 293.1,142.2 293.2,143.1 293.3,144.1 293.4,145.2 293.5,146.3 293.6,147.6 293.7,148.9 293.8,150.3 293.9,151.2 294.0,151.2 294.2,151.2 294.3,151.2 294.4,151.2 294.5,151.2 294.6,151.2 294.7,151.2 294.8,151.2 294.9,151.2 295.0,151.2 295.2,151.2 295.3,151.2 295.4,151.2 295.5,151.2 295.6,151.2 295.7,151.2 295.8,151.2 295.9,151.2 296.0,151.2 296.1,151.2 296.3,151.2 296.4,151.2 296.5,151.2 296.6,151.2 296.7,151.2 296.8,151.2 296.9,150.3 297.0,148.7 297.1,147.1 297.3,145.7 297.4,144.4 297.5,143.1 297.6,141.9 297.7,140.9 297.8,139.8 297.9,138.9 298.0,138.0 298.1,137.1 298.3,136.4 298.4,135.6 298.5,134.9 298.6,134.3 298.7,133.7 298.8,133.1 298.9,132.6 299.0,132.1 299.1,131.6 299.2,131.2 299.4,130.8 299.5,130.4 299.6,130.1 299.7,129.8 299.8,129.5 299.9,129.3 300.0,129.1 300.1,128.9 300.2,128.8 300.4,128.7 300.5,128.6 300.6,128.5 300.7,128.5 300.8,128.5 300.9,128.5 301.0,128.5 301.1,128.6 301.2,128.7 301.3,128.9 301.5,129.0 301.6,129.2 301.7,129.5 301.8,129.7 301.9,130.0 302.0,130.4 302.1,130.7 302.2,131.1 302.3,131.6 302.5,132.1 302.6,132.6 302.7,133.1 302.8,133.8 302.9,134.4 303.0,135.1 303.1,135.9 303.2,136.7 303.3,137.6 303.5,138.6 303.6,139.6 303.7,140.7 303.8,141.9 303.9,143.2 304.0,144.6 304.1,146.1 304.2,147.8 304.3,149.6 304.4,151.2 304.6,151.2 304.7,151.2 304.8,151.2 304.9,151.2 305.0,151.2 305.1,151.2 305.2,151.2 305.3,151.2 305.4,151.2 305.6,151.2 305.7,151.2 305.8,151.2 305.9,151.2 306.0,151.2 306.1,151.2 306.2,151.2 306.3,151.2 306.4,151.2 306.6,151.2 306.7,151.2 306.8,151.2 306.9,149.1 307.0,147.1 307.1,145.2 307.2,143.5 307.3,141.9 307.4,140.4 307.5,139.0 307.7,137.7 307.8,136.5 307.9,135.4 308.0,134.3 308.1,133.4 308.2,132.4 308.3,131.6 308.4,130.7 308.5,130.0 308.7,129.2 308.8,128.6 308.9,127.9 309.0,127.3 309.1,126.8 309.2,126.3 309.3,125.8 309.4,125.3 309.5,124.9 309.6,124.5 309.8,124.2 309.9,123.8 310.0,123.5 310.1,123.3 310.2,123.1 310.3,122.9 310.4,122.7 310.5,122.5 310.6,122.4 310.8,122.3 310.9,122.3 311.0,122.2 311.1,122.2 311.2,122.3 311.3,122.3 311.4,122.4 311.5,122.5 311.6,122.7 311.8,122.8 311.9,123.0 312.0,123.3 312.1,123.5 312.2,123.8 312.3,124.2 312.4,124.6 312.5,125.0 312.6,125.4 312.7,125.9 312.9,126.4 313.0,127.0 313.1,127.6 313.2,128.3 313.3,129.0 313.4,129.8 313.5,130.7 313.6,131.6 313.7,132.6 313.9,133.6 314.0,134.8 314.1,136.0 314.2,137.4 314.3,138.8 314.4,140.4 314.5,142.2 314.6,144.1 314.7,146.3 314.9,148.7 315.0,151.2 315.1,151.2 315.2,151.2 315.3,151.2 315.4,151.2 315.5,151.2 315.6,151.2 315.7,151.2 315.8,151.2 316.0,151.2 316.1,151.2 316.2,151.2 316.3,151.2 316.4,151.2 316.5,151.2 316.6,151.2 316.7,150.4 316.8,147.5 317.0,144.8 317.1,142.5 317.2,140.3 317.3,138.4 317.4,136.6 317.5,134.9 317.6,133.4 317.7,132.0 317.8,130.6 317.9,129.4 318.1,128.2 318.2,127.1 318.3,126.1 318.4,125.1 318.5,124.2 318.6,123.3 318.7,122.5 318.8,121.7 318.9,121.0 319.1,120.3 319.2,119.7 319.3,119.1 319.4,118.5 319.5,118.0 319.6,117.5 319.7,117.1 319.8,116.6 319.9,116.3 320.1,115.9 320.2,115.6 320.3,115.3 320.4,115.0 320.5,114.8 320.6,114.5 320.7,114.4 320.8,114.2 320.9,114.1 321.0,114.0 321.2,113.9 321.3,113.9 321.4,113.8 321.5,113.9 321.6,113.9 321.7,114.0 321.8,114.1 321.9,114.2 322.0,114.4 322.2,114.6 322.3,114.8 322.4,115.1 322.5,115.3 322.6,115.7 322.7,116.0 322.8,116.4 322.9,116.9 323.0,117.4 323.2,117.9 323.3,118.5 323.4,119.1 323.5,119.8 323.6,120.5 323.7,121.3 323.8,122.1 323.9,123.1 324.0,124.1 324.1,125.1 324.3,126.3 324.4,127.6 324.5,129.0 324.6,130.5 324.7,132.2 324.8,134.0 324.9,136.0 325.0,138.3 325.1,140.9 325.3,143.8 325.4,147.2 325.5,151.2 325.6,151.2 325.7,151.2 325.8,151.2 325.9,151.2 326.0,151.2 326.1,151.2 326.2,151.2 326.4,151.2 326.5,151.2 326.6,151.2 326.7,148.7 326.8,144.6 326.9,141.0 327.0,137.9 327.1,135.2 327.2,132.7 327.4,130.5 327.5,128.4 327.6,126.5 327.7,124.7 327.8,123.1 327.9,121.6 328.0,120.2 328.1,118.8 328.2,117.6 328.4,116.4 328.5,115.3 328.6,114.3 328.7,113.3 328.8,112.3 328.9,111.5 329.0,110.6 329.1,109.8 329.2,109.1 329.3,108.4 329.5,107.7 329.6,107.1 329.7,106.5 329.8,105.9 329.9,105.4 330.0,104.9 330.1,104.4 330.2,104.0 330.3,103.6 330.5,103.2 330.6,102.9 330.7,102.6 330.8,102.3 330.9,102.0 331.0,101.8 331.1,101.6 331.2,101.4 331.3,101.2 331.4,101.1 331.6,101.0 331.7,101.0 331.8,100.9 331.9,100.9 332.0,100.9 332.1,101.0 332.2,101.0 332.3,101.1 332.4,101.3 332.6,101.4 332.7,101.6 332.8,101.9 332.9,102.1 333.0,102.4 333.1,102.8 333.2,103.2 333.3,103.6 333.4,104.1 333.6,104.6 333.7,105.1 333.8,105.8 333.9,106.4 334.0,107.2 334.1,108.0 334.2,108.9 334.3,109.8 334.4,110.8 334.5,112.0 334.7,113.2 334.8,114.6 334.9,116.1 335.0,117.8 335.1,119.6 335.2,121.7 335.3,124.1 335.4,126.7 335.5,129.9 335.7,133.5 335.8,138.0 335.9,143.6 336.0,151.1 336.1,151.2 336.2,151.2 336.3,151.2 336.4,151.2 336.5,151.2 336.7,144.4 336.8,137.7 336.9,132.3 337.0,127.8 337.1,124.0 337.2,120.6 337.3,117.6 337.4,114.9 337.5,112.4 337.6,110.1 337.8,108.0 337.9,106.0 338.0,104.2 338.1,102.5 338.2,100.8 338.3,99.3 338.4,97.8 338.5,96.5 338.6,95.1 338.8,93.9 338.9,92.7 339.0,91.5 339.1,90.4 339.2,89.3 339.3,88.3 339.4,87.3 339.5,86.4 339.6,85.5 339.7,84.6 339.9,83.7 340.0,82.9 340.1,82.1 340.2,81.3 340.3,80.6 340.4,79.9 340.5,79.2 340.6,78.5 340.7,77.8 340.9,77.2 341.0,76.6 341.1,76.0 341.2,75.4 341.3,74.9 341.4,74.3 341.5,73.8 341.6,73.3 341.7,72.8 341.9,72.3 342.0,71.9 342.1,71.4 342.2,71.0 342.3,70.6 342.4,70.2 342.5,69.8 342.6,69.4 342.7,69.1 342.8,68.7 343.0,68.4 343.1,68.1 343.2,67.7 343.3,67.4 343.4,67.1 343.5,66.9 343.6,66.6 343.7,66.3 343.8,66.1 344.0,65.9 344.1,65.6 344.2,65.4 344.3,65.2 344.4,65.0 344.5,64.9 344.6,64.7 344.7,64.5 344.8,64.4 345.0,64.2 345.1,64.1 345.2,64.0 345.3,63.9 345.4,63.8 345.5,63.7 345.6,63.6 345.7,63.5 345.8,63.5 345.9,63.4 346.1,63.4 346.2,63.3 346.3,63.3 346.4,63.3 346.5,63.3 346.6,63.3 346.7,63.3 346.8,63.3 346.9,63.4 347.1,63.4 347.2,63.5 347.3,63.5 347.4,63.6 347.5,63.7 347.6,63.8 347.7,63.9 347.8,64.0 347.9,64.1 348.0,64.2 348.2,64.4 348.3,64.5 348.4,64.7 348.5,64.9 348.6,65.0 348.7,65.2 348.8,65.4 348.9,65.6 349.0,65.9 349.2,66.1 349.3,66.3 349.4,66.6 349.5,66.9 349.6,67.1 349.7,67.4 349.8,67.7 349.9,68.1 350.0,68.4 350.2,68.7 350.3,69.1 350.4,69.4 350.5,69.8 350.6,70.2 350.7,70.6 350.8,71.0 350.9,71.4 351.0,71.9 351.1,72.3 351.3,72.8 351.4,73.3 351.5,73.8 351.6,74.3 351.7,74.9 351.8,75.4 351.9,76.0 352.0,76.6 352.1,77.2 352.3,77.8 352.4,78.5 352.5,79.2 352.6,79.9 352.7,80.6 352.8,81.3 352.9,82.1 353.0,82.9 353.1,83.7 353.3,84.6 353.4,85.5 353.5,86.4 353.6,87.3 353.7,88.3 353.8,89.3 353.9,90.4 354.0,91.5 354.1,92.7 354.2,93.9 354.4,95.1 354.5,96.5 354.6,97.8 354.7,99.3 354.8,100.8 354.9,102.5 355.0,104.2 355.1,106.0 355.2,108.0 355.4,110.1 355.5,112.4 355.6,114.9 355.7,117.6 355.8,120.6 355.9,124.0 356.0,127.8 356.1,132.3 356.2,137.7 356.3,144.4 356.5,151.2 356.6,151.2 356.7,151.2 356.8,151.2 356.9,151.2 357.0,151.1 357.1,143.6 357.2,138.0 357.3,133.5 357.5,129.9 357.6,126.7 357.7,124.1 357.8,121.7 357.9,119.6 358.0,117.8 358.1,116.1 358.2,114.6 358.3,113.2 358.5,112.0 358.6,110.8 358.7,109.8 358.8,108.9 358.9,108.0 359.0,107.2 359.1,106.4 359.2,105.8 359.3,105.1 359.4,104.6 359.6,104.1 359.7,103.6 359.8,103.2 359.9,102.8 360.0,102.4 360.1,102.1 360.2,101.9 360.3,101.6 360.4,101.4 360.6,101.3 360.7,101.1 360.8,101.0 360.9,101.0 361.0,100.9 361.1,100.9 361.2,100.9 361.3,101.0 361.4,101.0 361.6,101.1 361.7,101.2 361.8,101.4 361.9,101.6 362.0,101.8 362.1,102.0 362.2,102.3 362.3,102.6 362.4,102.9 362.5,103.2 362.7,103.6 362.8,104.0 362.9,104.4 363.0,104.9 363.1,105.4 363.2,105.9 363.3,106.5 363.4,107.1 363.5,107.7 363.7,108.4 363.8,109.1 363.9,109.8 364.0,110.6 364.1,111.5 364.2,112.3 364.3,113.3 364.4,114.3 364.5,115.3 364.6,116.4 364.8,117.6 364.9,118.8 365.0,120.2 365.1,121.6 365.2,123.1 365.3,124.7 365.4,126.5 365.5,128.4 365.6,130.5 365.8,132.7 365.9,135.2 366.0,137.9 366.1,141.0 366.2,144.6 366.3,148.7 366.4,151.2 366.5,151.2 366.6,151.2 366.8,151.2 366.9,151.2 367.0,151.2 367.1,151.2 367.2,151.2 367.3,151.2 367.4,151.2 367.5,151.2 367.6,147.2 367.7,143.8 367.9,140.9 368.0,138.3 368.1,136.0 368.2,134.0 368.3,132.2 368.4,130.5 368.5,129.0 368.6,127.6 368.7,126.3 368.9,125.1 369.0,124.1 369.1,123.1 369.2,122.1 369.3,121.3 369.4,120.5 369.5,119.8 369.6,119.1 369.7,118.5 369.8,117.9 370.0,117.4 370.1,116.9 370.2,116.4 370.3,116.0 370.4,115.7 370.5,115.3 370.6,115.1 370.7,114.8 370.8,114.6 371.0,114.4 371.1,114.2 371.2,114.1 371.3,114.0 371.4,113.9 371.5,113.9 371.6,113.8 371.7,113.9 371.8,113.9 372.0,114.0 372.1,114.1 372.2,114.2 372.3,114.4 372.4,114.5 372.5,114.8 372.6,115.0 372.7,115.3 372.8,115.6 372.9,115.9 373.1,116.3 373.2,116.6 373.3,117.1 373.4,117.5 373.5,118.0 373.6,118.5 373.7,119.1 373.8,119.7 373.9,120.3 374.1,121.0 374.2,121.7 374.3,122.5 374.4,123.3 374.5,124.2 374.6,125.1 374.7,126.1 374.8,127.1 374.9,128.2 375.1,129.4 375.2,130.6 375.3,132.0 375.4,133.4 375.5,134.9 375.6,136.6 375.7,138.4 375.8,140.3 375.9,142.5 376.0,144.8 376.2,147.5 376.3,150.4 376.4,151.2 376.5,151.2 376.6,151.2 376.7,151.2 376.8,151.2 376.9,151.2 377.0,151.2 377.2,151.2 377.3,151.2 377.4,151.2 377.5,151.2 377.6,151.2 377.7,151.2 377.8,151.2 377.9,151.2 378.0,151.2 378.1,148.7 378.3,146.3 378.4,144.1 378.5,142.2 378.6,140.4 378.7,138.8 378.8,137.4 378.9,136.0 379.0,134.8 379.1,133.6 379.3,132.6 379.4,131.6 379.5,130.7 379.6,129.8 379.7,129.0 379.8,128.3 379.9,127.6 380.0,127.0 380.1,126.4 380.3,125.9 380.4,125.4 380.5,125.0 380.6,124.6 380.7,124.2 380.8,123.8 380.9,123.5 381.0,123.3 381.1,123.0 381.2,122.8 381.4,122.7 381.5,122.5 381.6,122.4 381.7,122.3 381.8,122.3 381.9,122.2 382.0,122.2 382.1,122.3 382.2,122.3 382.4,122.4 382.5,122.5 382.6,122.7 382.7,122.9 382.8,123.1 382.9,123.3 383.0,123.5 383.1,123.8 383.2,124.2 383.4,124.5 383.5,124.9 383.6,125.3 383.7,125.8 383.8,126.3 383.9,126.8 384.0,127.3 384.1,127.9 384.2,128.6 384.3,129.2 384.5,130.0 384.6,130.7 384.7,131.6 384.8,132.4 384.9,133.4 385.0,134.3 385.1,135.4 385.2,136.5 385.3,137.7 385.5,139.0 385.6,140.4 385.7,141.9 385.8,143.5 385.9,145.2 386.0,147.1 386.1,149.1 386.2,151.2 386.3,151.2 386.4,151.2 386.6,151.2 386.7,151.2 386.8,151.2 386.9,151.2 387.0,151.2 387.1,151.2 387.2,151.2 387.3,151.2 387.4,151.2 387.6,151.2 387.7,151.2 387.8,151.2 387.9,151.2 388.0,151.2 388.1,151.2 388.2,151.2 388.3,151.2 388.4,151.2 388.6,151.2 388.7,149.6 388.8,147.8 388.9,146.1 389.0,144.6 389.1,143.2 389.2,141.9 389.3,140.7 389.4,139.6 389.5,138.6 389.7,137.6 389.8,136.7 389.9,135.9 390.0,135.1 390.1,134.4 390.2,133.8 390.3,133.1 390.4,132.6 390.5,132.1 390.7,131.6 390.8,131.1 390.9,130.7 391.0,130.4 391.1,130.0 391.2,129.7 391.3,129.5 391.4,129.2 391.5,129.0 391.7,128.9 391.8,128.7 391.9,128.6 392.0,128.5 392.1,128.5 392.2,128.5 392.3,128.5 392.4,128.5 392.5,128.6 392.6,128.7 392.8,128.8 392.9,128.9 393.0,129.1 393.1,129.3 393.2,129.5 393.3,129.8 393.4,130.1 393.5,130.4 393.6,130.8 393.8,131.2 393.9,131.6 394.0,132.1 394.1,132.6 394.2,133.1 394.3,133.7 394.4,134.3 394.5,134.9 394.6,135.6 394.7,136.4 394.9,137.1 395.0,138.0 395.1,138.9 395.2,139.8 395.3,140.9 395.4,141.9 395.5,143.1 395.6,144.4 395.7,145.7 395.9,147.1 396.0,148.7 396.1,150.3 396.2,151.2 396.3,151.2 396.4,151.2 396.5,151.2 396.6,151.2 396.7,151.2 396.9,151.2 397.0,151.2 397.1,151.2 397.2,151.2 397.3,151.2 397.4,151.2 397.5,151.2 397.6,151.2 397.7,151.2 397.8,151.2 398.0,151.2 398.1,151.2 398.2,151.2 398.3,151.2 398.4,151.2 398.5,151.2 398.6,151.2 398.7,151.2 398.8,151.2 399.0,151.2 399.1,151.2 399.2,150.3 399.3,148.9 399.4,147.6 399.5,146.3 399.6,145.2 399.7,144.1 399.8,143.1 399.9,142.2 400.1,141.4 400.2,140.6 400.3,139.8 400.4,139.1 400.5,138.5 400.6,137.9 400.7,137.4 400.8,136.9 400.9,136.4 401.1,136.0 401.2,135.6 401.3,135.2 401.4,134.9 401.5,134.6 401.6,134.4 401.7,134.1 401.8,133.9 401.9,133.8 402.1,133.7 402.2,133.6 402.3,133.5 402.4,133.4 402.5,133.4 402.6,133.4 402.7,133.5 402.8,133.6 402.9,133.7 403.0,133.8 403.2,133.9 403.3,134.1 403.4,134.3 403.5,134.6 403.6,134.9 403.7,135.2 403.8,135.5 403.9,135.9 404.0,136.3 404.2,136.7 404.3,137.2 404.4,137.7 404.5,138.3 404.6,138.8 404.7,139.5 404.8,140.1 404.9,140.9 405.0,141.6 405.2,142.4 405.3,143.3 405.4,144.2 405.5,145.2 405.6,146.3 405.7,147.4 405.8,148.6 405.9,149.9 406.0,151.2 406.1,151.2 406.3,151.2 406.4,151.2 406.5,151.2 406.6,151.2 406.7,151.2 406.8,151.2 406.9,151.2 407.0,151.2 407.1,151.2 407.3,151.2 407.4,151.2 407.5,151.2 407.6,151.2 407.7,151.2 407.8,151.2 407.9,151.2 408.0,151.2 408.1,151.2 408.2,151.2 408.4,151.2 408.5,151.2 408.6,151.2 408.7,151.2 408.8,151.2 408.9,151.2 409.0,151.2 409.1,151.2 409.2,151.2 409.4,151.2 409.5,151.2 409.6,151.2 409.7,151.0 409.8,149.8 409.9,148.8 410.0,147.7 410.1,146.8 410.2,145.9 410.4,145.1 410.5,144.3 410.6,143.6 410.7,143.0 410.8,142.3 410.9,141.8 411.0,141.2 411.1,140.8 411.2,140.3 411.3,139.9 411.5,139.5 411.6,139.2 411.7,138.9 411.8,138.6 411.9,138.4 412.0,138.2 412.1,138.0 412.2,137.9 412.3,137.7 412.5,137.6 412.6,137.6 412.7,137.6 412.8,137.6 412.9,137.6 413.0,137.6 413.1,137.7 413.2,137.8 413.3,138.0 413.5,138.1 413.6,138.3 413.7,138.6 413.8,138.8 413.9,139.1 414.0,139.4 414.1,139.8 414.2,140.2 414.3,140.6 414.4,141.1 414.6,141.5 414.7,142.1 414.8,142.6 414.9,143.3 415.0,143.9 415.1,144.6 415.2,145.3 415.3,146.1 415.4,147.0 415.6,147.9 415.7,148.8 415.8,149.9 415.9,151.0 416.0,151.2 416.1,151.2 416.2,151.2 416.3,151.2 416.4,151.2 416.5,151.2 416.7,151.2 416.8,151.2 416.9,151.2 417.0,151.2 417.1,151.2 417.2,151.2 417.3,151.2 417.4,151.2 417.5,151.2 417.7,151.2 417.8,151.2 417.9,151.2 418.0,151.2 418.1,151.2 418.2,151.2 418.3,151.2 418.4,151.2 418.5,151.2 418.7,151.2 418.8,151.2 418.9,151.2 419.0,151.2 419.1,151.2 419.2,151.2 419.3,151.2 419.4,151.2 419.5,151.2 419.6,151.2 419.8,151.2 419.9,151.2 420.0,151.2 420.1,151.2 420.2,151.2 420.3,150.7 420.4,149.8 420.5,149.0 420.6,148.2 420.8,147.5 420.9,146.8 421.0,146.2 421.1,145.6 421.2,145.0 421.3,144.5 421.4,144.1 421.5,143.6 421.6,143.2 421.8,142.9 421.9,142.6 422.0,142.3 422.1,142.0 422.2,141.8 422.3,141.6 422.4,141.5 422.5,141.3 422.6,141.2 422.7,141.1 422.9,141.1 423.0,141.1 423.1,141.1 423.2,141.1 423.3,141.2 423.4,141.3 423.5,141.4 423.6,141.6 423.7,141.8 423.9,142.0 424.0,142.2 424.1,142.5 424.2,142.8 424.3,143.1 424.4,143.5 424.5,143.9 424.6,144.4 424.7,144.8 424.8,145.3 425.0,145.9 425.1,146.5 425.2,147.1 425.3,147.8 425.4,148.5 425.5,149.3 425.6,150.1 425.7,151.0 425.8,151.2 426.0,151.2 426.1,151.2 426.2,151.2 426.3,151.2 426.4,151.2 426.5,151.2 426.6,151.2 426.7,151.2 426.8,151.2 427.0,151.2 427.1,151.2 427.2,151.2 427.3,151.2 427.4,151.2 427.5,151.2 427.6,151.2 427.7,151.2 427.8,151.2 427.9,151.2 428.1,151.2 428.2,151.2 428.3,151.2 428.4,151.2 428.5,151.2 428.6,151.2 428.7,151.2 428.8,151.2 428.9,151.2 429.1,151.2 429.2,151.2 429.3,151.2 429.4,151.2 429.5,151.2 429.6,151.2 429.7,151.2 429.8,151.2 429.9,151.2 430.1,151.2 430.2,151.2 430.3,151.2 430.4,151.2 430.5,151.2 430.6,151.2 430.7,151.2 430.8,151.2 430.9,150.9 431.0,150.2 431.2,149.5 431.3,148.9 431.4,148.3 431.5,147.8 431.6,147.3 431.7,146.9 431.8,146.5 431.9,146.1 432.0,145.8 432.2,145.5 432.3,145.2 432.4,145.0 432.5,144.8 432.6,144.6 432.7,144.5 432.8,144.3 432.9,144.3 433.0,144.2 433.1,144.2 433.3,144.2 433.4,144.2 433.5,144.3 433.6,144.3 433.7,144.5 433.8,144.6 433.9,144.8 434.0,145.0 434.1,145.2 434.3,145.5 434.4,145.8 434.5,146.1 434.6,146.4 434.7,146.8 434.8,147.3 434.9,147.7 435.0,148.2" fill="none" stroke="#28289a" stroke-width="1.1" stroke-linejoin="round"/>
<rect x="258.10" y="12.60" width="177.40" height="135.80" fill="none" stroke="#8e8e8e" stroke-width="1.5"/>
<line x1="278.40" y1="148.40" x2="278.40" y2="146.40" stroke="#606060" stroke-width="1"/>
<line x1="278.40" y1="12.60" x2="278.40" y2="14.60" stroke="#606060" stroke-width="1"/>
<text x="277.10" y="157.60" font-family="Liberation Sans" font-size="8.8" text-anchor="middle" font-weight="normal" fill="#0a0a0a" stroke="#0a0a0a" stroke-width="0.2" >-10</text>
<line x1="312.45" y1="148.40" x2="312.45" y2="146.40" stroke="#606060" stroke-width="1"/>
<line x1="312.45" y1="12.60" x2="312.45" y2="14.60" stroke="#606060" stroke-width="1"/>
<text x="311.15" y="157.60" font-family="Liberation Sans" font-size="8.8" text-anchor="middle" font-weight="normal" fill="#0a0a0a" stroke="#0a0a0a" stroke-width="0.2" >-5</text>
<line x1="346.50" y1="148.40" x2="346.50" y2="146.40" stroke="#606060" stroke-width="1"/>
<line x1="346.50" y1="12.60" x2="346.50" y2="14.60" stroke="#606060" stroke-width="1"/>
<text x="346.50" y="157.60" font-family="Liberation Sans" font-size="8.8" text-anchor="middle" font-weight="normal" fill="#0a0a0a" stroke="#0a0a0a" stroke-width="0.2" >0</text>
<line x1="380.55" y1="148.40" x2="380.55" y2="146.40" stroke="#606060" stroke-width="1"/>
<line x1="380.55" y1="12.60" x2="380.55" y2="14.60" stroke="#606060" stroke-width="1"/>
<text x="380.55" y="157.60" font-family="Liberation Sans" font-size="8.8" text-anchor="middle" font-weight="normal" fill="#0a0a0a" stroke="#0a0a0a" stroke-width="0.2" >5</text>
<line x1="414.60" y1="148.40" x2="414.60" y2="146.40" stroke="#606060" stroke-width="1"/>
<line x1="414.60" y1="12.60" x2="414.60" y2="14.60" stroke="#606060" stroke-width="1"/>
<text x="414.60" y="157.60" font-family="Liberation Sans" font-size="8.8" text-anchor="middle" font-weight="normal" fill="#0a0a0a" stroke="#0a0a0a" stroke-width="0.2" >10</text>
<line x1="258.10" y1="34.95" x2="260.10" y2="34.95" stroke="#606060" stroke-width="1"/>
<line x1="435.50" y1="34.95" x2="433.50" y2="34.95" stroke="#606060" stroke-width="1"/>
<text x="256.80" y="38.35" font-family="Liberation Sans" font-size="8.8" text-anchor="end" font-weight="normal" fill="#0a0a0a" stroke="#0a0a0a" stroke-width="0.2" >10</text>
<line x1="258.10" y1="63.30" x2="260.10" y2="63.30" stroke="#606060" stroke-width="1"/>
<line x1="435.50" y1="63.30" x2="433.50" y2="63.30" stroke="#606060" stroke-width="1"/>
<text x="256.80" y="66.70" font-family="Liberation Sans" font-size="8.8" text-anchor="end" font-weight="normal" fill="#0a0a0a" stroke="#0a0a0a" stroke-width="0.2" >0</text>
<line x1="258.10" y1="91.65" x2="260.10" y2="91.65" stroke="#606060" stroke-width="1"/>
<line x1="435.50" y1="91.65" x2="433.50" y2="91.65" stroke="#606060" stroke-width="1"/>
<text x="256.80" y="95.05" font-family="Liberation Sans" font-size="8.8" text-anchor="end" font-weight="normal" fill="#0a0a0a" stroke="#0a0a0a" stroke-width="0.2" >-10</text>
<line x1="258.10" y1="120.00" x2="260.10" y2="120.00" stroke="#606060" stroke-width="1"/>
<line x1="435.50" y1="120.00" x2="433.50" y2="120.00" stroke="#606060" stroke-width="1"/>
<text x="256.80" y="123.40" font-family="Liberation Sans" font-size="8.8" text-anchor="end" font-weight="normal" fill="#0a0a0a" stroke="#0a0a0a" stroke-width="0.2" >-20</text>
<line x1="258.10" y1="148.35" x2="260.10" y2="148.35" stroke="#606060" stroke-width="1"/>
<line x1="435.50" y1="148.35" x2="433.50" y2="148.35" stroke="#606060" stroke-width="1"/>
<text x="256.80" y="151.75" font-family="Liberation Sans" font-size="8.8" text-anchor="end" font-weight="normal" fill="#0a0a0a" stroke="#0a0a0a" stroke-width="0.2" >-30</text>
<text x="346.80" y="167.80" font-family="Liberation Sans" font-size="8.8" text-anchor="middle" font-weight="normal" fill="#0a0a0a" stroke="#0a0a0a" stroke-width="0.2" >Range samples</text>
<text transform="translate(239.10000000000002,80.9) rotate(-90)" font-family="Liberation Sans" font-size="8.8" text-anchor="middle" fill="#0a0a0a" stroke="#0a0a0a" stroke-width="0.2">Magnitude (dB)</text>
<text x="343.30" y="187.60" font-family="Liberation Serif" font-size="14.3" text-anchor="middle" font-weight="bold" fill="#0a0a0a" stroke="#0a0a0a" stroke-width="0.1" letter-spacing="0.5">(b)</text>
<clipPath id="cp4860"><rect x="486.7" y="12.5" width="176.8" height="135.8"/></clipPath>
<polyline clip-path="url(#cp4860)" points="486.6,151.2 486.7,151.2 486.8,151.2 486.9,151.2 487.0,151.2 487.1,151.2 487.2,151.2 487.3,151.2 487.4,151.2 487.6,151.2 487.7,151.2 487.8,151.2 487.9,151.2 488.0,151.2 488.1,151.2 488.2,151.2 488.3,151.2 488.4,150.9 488.5,150.6 488.7,150.3 488.8,150.0 488.9,149.8 489.0,149.6 489.1,149.5 489.2,149.4 489.3,149.4 489.4,149.4 489.5,149.4 489.6,149.5 489.8,149.7 489.9,149.9 490.0,150.1 490.1,150.4 490.2,150.7 490.3,151.1 490.4,151.2 490.5,151.2 490.6,151.2 490.7,151.2 490.9,151.2 491.0,151.2 491.1,151.2 491.2,151.2 491.3,151.2 491.4,151.2 491.5,151.2 491.6,151.2 491.7,151.2 491.8,151.2 492.0,151.2 492.1,151.2 492.2,151.2 492.3,151.2 492.4,151.2 492.5,151.2 492.6,151.2 492.7,151.2 492.8,151.2 493.0,151.2 493.1,151.2 493.2,151.2 493.3,151.2 493.4,151.2 493.5,151.2 493.6,151.2 493.7,151.2 493.8,151.2 493.9,151.2 494.1,151.2 494.2,151.2 494.3,151.2 494.4,151.2 494.5,151.2 494.6,151.2 494.7,151.2 494.8,151.2 494.9,151.2 495.0,151.2 495.2,151.2 495.3,151.2 495.4,151.2 495.5,151.2 495.6,151.2 495.7,151.2 495.8,151.2 495.9,151.2 496.0,151.0 496.1,150.4 496.3,149.8 496.4,149.3 496.5,148.9 496.6,148.4 496.7,148.1 496.8,147.8 496.9,147.5 497.0,147.3 497.1,147.1 497.2,147.0 497.4,146.9 497.5,146.9 497.6,146.9 497.7,147.0 497.8,147.1 497.9,147.2 498.0,147.4 498.1,147.7 498.2,147.9 498.3,148.3 498.5,148.7 498.6,149.1 498.7,149.6 498.8,150.2 498.9,150.8 499.0,151.2 499.1,151.2 499.2,151.2 499.3,151.2 499.5,151.2 499.6,151.2 499.7,151.2 499.8,151.2 499.9,151.2 500.0,151.2 500.1,151.2 500.2,151.2 500.3,151.2 500.4,151.2 500.6,151.2 500.7,151.2 500.8,151.2 500.9,151.2 501.0,151.2 501.1,151.2 501.2,151.2 501.3,151.2 501.4,151.2 501.5,151.2 501.7,151.2 501.8,151.2 501.9,151.2 502.0,151.2 502.1,151.2 502.2,151.2 502.3,151.2 502.4,151.2 502.5,151.2 502.6,151.2 502.8,151.2 502.9,151.2 503.0,151.2 503.1,151.2 503.2,151.2 503.3,151.2 503.4,151.2 503.5,151.2 503.6,151.2 503.7,151.2 503.9,150.4 504.0,149.6 504.1,148.9 504.2,148.2 504.3,147.6 504.4,147.0 504.5,146.5 504.6,146.1 504.7,145.7 504.8,145.3 505.0,145.0 505.1,144.8 505.2,144.6 505.3,144.4 505.4,144.3 505.5,144.2 505.6,144.2 505.7,144.2 505.8,144.2 506.0,144.3 506.1,144.5 506.2,144.7 506.3,144.9 506.4,145.2 506.5,145.6 506.6,146.0 506.7,146.4 506.8,146.9 506.9,147.5 507.1,148.1 507.2,148.8 507.3,149.5 507.4,150.3 507.5,151.2 507.6,151.2 507.7,151.2 507.8,151.2 507.9,151.2 508.0,151.2 508.2,151.2 508.3,151.2 508.4,151.2 508.5,151.2 508.6,151.2 508.7,151.2 508.8,151.2 508.9,151.2 509.0,151.2 509.1,151.2 509.3,151.2 509.4,151.2 509.5,151.2 509.6,151.2 509.7,151.2 509.8,151.2 509.9,151.2 510.0,151.2 510.1,151.2 510.2,151.2 510.4,151.2 510.5,151.2 510.6,151.2 510.7,151.2 510.8,151.2 510.9,151.2 511.0,151.2 511.1,151.2 511.2,151.2 511.3,151.2 511.5,151.2 511.6,151.2 511.7,150.1 511.8,149.1 511.9,148.2 512.0,147.3 512.1,146.5 512.2,145.8 512.3,145.1 512.5,144.5 512.6,143.9 512.7,143.4 512.8,143.0 512.9,142.6 513.0,142.2 513.1,141.9 513.2,141.7 513.3,141.5 513.4,141.3 513.6,141.2 513.7,141.1 513.8,141.1 513.9,141.1 514.0,141.2 514.1,141.3 514.2,141.4 514.3,141.6 514.4,141.9 514.5,142.2 514.7,142.5 514.8,142.9 514.9,143.3 515.0,143.8 515.1,144.4 515.2,145.0 515.3,145.7 515.4,146.5 515.5,147.3 515.6,148.2 515.8,149.2 515.9,150.3 516.0,151.2 516.1,151.2 516.2,151.2 516.3,151.2 516.4,151.2 516.5,151.2 516.6,151.2 516.7,151.2 516.9,151.2 517.0,151.2 517.1,151.2 517.2,151.2 517.3,151.2 517.4,151.2 517.5,151.2 517.6,151.2 517.7,151.2 517.8,151.2 518.0,151.2 518.1,151.2 518.2,151.2 518.3,151.2 518.4,151.2 518.5,151.2 518.6,151.2 518.7,151.2 518.8,151.2 519.0,151.2 519.1,151.2 519.2,151.2 519.3,151.2 519.4,151.2 519.5,150.1 519.6,148.8 519.7,147.6 519.8,146.5 519.9,145.5 520.1,144.6 520.2,143.7 520.3,142.9 520.4,142.2 520.5,141.5 520.6,140.9 520.7,140.4 520.8,139.9 520.9,139.4 521.0,139.0 521.2,138.7 521.3,138.4 521.4,138.1 521.5,137.9 521.6,137.8 521.7,137.7 521.8,137.6 521.9,137.6 522.0,137.6 522.1,137.6 522.3,137.7 522.4,137.9 522.5,138.1 522.6,138.3 522.7,138.6 522.8,139.0 522.9,139.4 523.0,139.8 523.1,140.3 523.2,140.9 523.4,141.5 523.5,142.2 523.6,143.0 523.7,143.8 523.8,144.7 523.9,145.7 524.0,146.8 524.1,148.0 524.2,149.3 524.4,150.7 524.5,151.2 524.6,151.2 524.7,151.2 524.8,151.2 524.9,151.2 525.0,151.2 525.1,151.2 525.2,151.2 525.3,151.2 525.5,151.2 525.6,151.2 525.7,151.2 525.8,151.2 525.9,151.2 526.0,151.2 526.1,151.2 526.2,151.2 526.3,151.2 526.4,151.2 526.6,151.2 526.7,151.2 526.8,151.2 526.9,151.2 527.0,151.2 527.1,151.2 527.2,151.2 527.3,150.6 527.4,148.9 527.5,147.4 527.7,146.0 527.8,144.7 527.9,143.5 528.0,142.4 528.1,141.4 528.2,140.5 528.3,139.6 528.4,138.8 528.5,138.1 528.6,137.4 528.8,136.8 528.9,136.3 529.0,135.8 529.1,135.3 529.2,134.9 529.3,134.6 529.4,134.3 529.5,134.0 529.6,133.8 529.7,133.7 529.9,133.5 530.0,133.5 530.1,133.4 530.2,133.4 530.3,133.5 530.4,133.6 530.5,133.7 530.6,133.9 530.7,134.2 530.9,134.5 531.0,134.8 531.1,135.2 531.2,135.7 531.3,136.2 531.4,136.7 531.5,137.4 531.6,138.0 531.7,138.8 531.8,139.6 532.0,140.6 532.1,141.6 532.2,142.7 532.3,143.9 532.4,145.2 532.5,146.6 532.6,148.2 532.7,150.0 532.8,151.2 532.9,151.2 533.1,151.2 533.2,151.2 533.3,151.2 533.4,151.2 533.5,151.2 533.6,151.2 533.7,151.2 533.8,151.2 533.9,151.2 534.0,151.2 534.2,151.2 534.3,151.2 534.4,151.2 534.5,151.2 534.6,151.2 534.7,151.2 534.8,151.2 534.9,151.2 535.0,151.2 535.1,151.2 535.3,149.5 535.4,147.5 535.5,145.7 535.6,144.0 535.7,142.5 535.8,141.1 535.9,139.8 536.0,138.7 536.1,137.6 536.2,136.5 536.4,135.6 536.5,134.8 536.6,134.0 536.7,133.2 536.8,132.6 536.9,131.9 537.0,131.4 537.1,130.9 537.2,130.4 537.4,130.0 537.5,129.7 537.6,129.4 537.7,129.1 537.8,128.9 537.9,128.7 538.0,128.6 538.1,128.5 538.2,128.5 538.3,128.5 538.5,128.5 538.6,128.6 538.7,128.8 538.8,129.0 538.9,129.2 539.0,129.5 539.1,129.8 539.2,130.2 539.3,130.6 539.4,131.1 539.6,131.7 539.7,132.3 539.8,133.0 539.9,133.8 540.0,134.6 540.1,135.5 540.2,136.5 540.3,137.6 540.4,138.8 540.5,140.1 540.7,141.6 540.8,143.2 540.9,144.9 541.0,146.9 541.1,149.1 541.2,151.2 541.3,151.2 541.4,151.2 541.5,151.2 541.6,151.2 541.8,151.2 541.9,151.2 542.0,151.2 542.1,151.2 542.2,151.2 542.3,151.2 542.4,151.2 542.5,151.2 542.6,151.2 542.7,151.2 542.9,151.2 543.0,151.2 543.1,150.8 543.2,148.1 543.3,145.7 543.4,143.5 543.5,141.5 543.6,139.7 543.7,138.0 543.9,136.5 544.0,135.1 544.1,133.8 544.2,132.7 544.3,131.6 544.4,130.5 544.5,129.6 544.6,128.7 544.7,127.9 544.8,127.2 545.0,126.5 545.1,125.9 545.2,125.3 545.3,124.8 545.4,124.3 545.5,123.9 545.6,123.5 545.7,123.2 545.8,123.0 545.9,122.7 546.1,122.5 546.2,122.4 546.3,122.3 546.4,122.2 546.5,122.2 546.6,122.3 546.7,122.4 546.8,122.5 546.9,122.7 547.0,122.9 547.2,123.1 547.3,123.5 547.4,123.8 547.5,124.3 547.6,124.8 547.7,125.3 547.8,125.9 547.9,126.6 548.0,127.3 548.1,128.1 548.3,129.0 548.4,130.0 548.5,131.1 548.6,132.3 548.7,133.6 548.8,135.1 548.9,136.7 549.0,138.5 549.1,140.4 549.2,142.6 549.4,145.2 549.5,148.0 549.6,151.2 549.7,151.2 549.8,151.2 549.9,151.2 550.0,151.2 550.1,151.2 550.2,151.2 550.4,151.2 550.5,151.2 550.6,151.2 550.7,151.2 550.8,151.2 550.9,151.2 551.0,149.6 551.1,146.1 551.2,143.1 551.3,140.3 551.5,137.9 551.6,135.7 551.7,133.8 551.8,132.0 551.9,130.3 552.0,128.8 552.1,127.4 552.2,126.1 552.3,124.8 552.4,123.7 552.6,122.7 552.7,121.7 552.8,120.8 552.9,120.0 553.0,119.2 553.1,118.5 553.2,117.9 553.3,117.3 553.4,116.7 553.5,116.3 553.7,115.8 553.8,115.4 553.9,115.1 554.0,114.8 554.1,114.5 554.2,114.3 554.3,114.1 554.4,114.0 554.5,113.9 554.6,113.9 554.8,113.9 554.9,113.9 555.0,114.0 555.1,114.1 555.2,114.3 555.3,114.6 555.4,114.9 555.5,115.2 555.6,115.6 555.7,116.0 555.9,116.5 556.0,117.1 556.1,117.8 556.2,118.5 556.3,119.3 556.4,120.1 556.5,121.1 556.6,122.1 556.7,123.3 556.9,124.6 557.0,126.0 557.1,127.6 557.2,129.4 557.3,131.3 557.4,133.5 557.5,136.0 557.6,138.9 557.7,142.3 557.8,146.3 558.0,151.2 558.1,151.2 558.2,151.2 558.3,151.2 558.4,151.2 558.5,151.2 558.6,151.2 558.7,151.2 558.8,151.2 558.9,147.6 559.1,142.8 559.2,138.7 559.3,135.2 559.4,132.1 559.5,129.4 559.6,127.0 559.7,124.7 559.8,122.7 559.9,120.9 560.0,119.2 560.2,117.6 560.3,116.1 560.4,114.8 560.5,113.5 560.6,112.3 560.7,111.2 560.8,110.2 560.9,109.3 561.0,108.4 561.1,107.5 561.3,106.8 561.4,106.1 561.5,105.4 561.6,104.8 561.7,104.2 561.8,103.7 561.9,103.2 562.0,102.8 562.1,102.4 562.3,102.1 562.4,101.8 562.5,101.5 562.6,101.3 562.7,101.1 562.8,101.0 562.9,100.9 563.0,100.9 563.1,100.9 563.2,101.0 563.4,101.1 563.5,101.2 563.6,101.4 563.7,101.6 563.8,101.9 563.9,102.3 564.0,102.7 564.1,103.2 564.2,103.7 564.3,104.3 564.5,105.0 564.6,105.8 564.7,106.6 564.8,107.6 564.9,108.6 565.0,109.8 565.1,111.1 565.2,112.6 565.3,114.2 565.4,116.1 565.6,118.2 565.7,120.6 565.8,123.4 565.9,126.7 566.0,130.7 566.1,135.6 566.2,142.1 566.3,151.1 566.4,151.2 566.5,151.2 566.7,151.2 566.8,151.2 566.9,142.6 567.0,134.9 567.1,128.9 567.2,124.0 567.3,119.8 567.4,116.2 567.5,113.0 567.6,110.1 567.8,107.5 567.9,105.1 568.0,102.9 568.1,100.8 568.2,98.9 568.3,97.1 568.4,95.5 568.5,93.9 568.6,92.4 568.8,90.9 568.9,89.6 569.0,88.3 569.1,87.1 569.2,85.9 569.3,84.8 569.4,83.7 569.5,82.7 569.6,81.7 569.7,80.8 569.9,79.9 570.0,79.0 570.1,78.2 570.2,77.4 570.3,76.6 570.4,75.9 570.5,75.2 570.6,74.5 570.7,73.8 570.8,73.2 571.0,72.6 571.1,72.0 571.2,71.4 571.3,70.9 571.4,70.4 571.5,69.9 571.6,69.4 571.7,69.0 571.8,68.5 571.9,68.1 572.1,67.7 572.2,67.4 572.3,67.0 572.4,66.7 572.5,66.3 572.6,66.0 572.7,65.8 572.8,65.5 572.9,65.2 573.0,65.0 573.2,64.8 573.3,64.6 573.4,64.4 573.5,64.2 573.6,64.0 573.7,63.9 573.8,63.8 573.9,63.7 574.0,63.6 574.1,63.5 574.3,63.4 574.4,63.4 574.5,63.3 574.6,63.3 574.7,63.3 574.8,63.3 574.9,63.3 575.0,63.4 575.1,63.4 575.3,63.5 575.4,63.6 575.5,63.7 575.6,63.8 575.7,63.9 575.8,64.0 575.9,64.2 576.0,64.4 576.1,64.6 576.2,64.8 576.4,65.0 576.5,65.2 576.6,65.5 576.7,65.8 576.8,66.0 576.9,66.3 577.0,66.7 577.1,67.0 577.2,67.4 577.3,67.7 577.5,68.1 577.6,68.5 577.7,69.0 577.8,69.4 577.9,69.9 578.0,70.4 578.1,70.9 578.2,71.4 578.3,72.0 578.4,72.6 578.6,73.2 578.7,73.8 578.8,74.5 578.9,75.2 579.0,75.9 579.1,76.6 579.2,77.4 579.3,78.2 579.4,79.0 579.5,79.9 579.7,80.8 579.8,81.7 579.9,82.7 580.0,83.7 580.1,84.8 580.2,85.9 580.3,87.1 580.4,88.3 580.5,89.6 580.6,90.9 580.8,92.4 580.9,93.9 581.0,95.5 581.1,97.1 581.2,98.9 581.3,100.8 581.4,102.9 581.5,105.1 581.6,107.5 581.8,110.1 581.9,113.0 582.0,116.2 582.1,119.8 582.2,124.0 582.3,128.9 582.4,134.9 582.5,142.6 582.6,151.2 582.7,151.2 582.9,151.2 583.0,151.2 583.1,151.1 583.2,142.1 583.3,135.6 583.4,130.7 583.5,126.7 583.6,123.4 583.7,120.6 583.8,118.2 584.0,116.1 584.1,114.2 584.2,112.6 584.3,111.1 584.4,109.8 584.5,108.6 584.6,107.6 584.7,106.6 584.8,105.8 584.9,105.0 585.1,104.3 585.2,103.7 585.3,103.2 585.4,102.7 585.5,102.3 585.6,101.9 585.7,101.6 585.8,101.4 585.9,101.2 586.0,101.1 586.2,101.0 586.3,100.9 586.4,100.9 586.5,100.9 586.6,101.0 586.7,101.1 586.8,101.3 586.9,101.5 587.0,101.8 587.1,102.1 587.3,102.4 587.4,102.8 587.5,103.2 587.6,103.7 587.7,104.2 587.8,104.8 587.9,105.4 588.0,106.1 588.1,106.8 588.3,107.5 588.4,108.4 588.5,109.3 588.6,110.2 588.7,111.2 588.8,112.3 588.9,113.5 589.0,114.8 589.1,116.1 589.2,117.6 589.4,119.2 589.5,120.9 589.6,122.7 589.7,124.7 589.8,127.0 589.9,129.4 590.0,132.1 590.1,135.2 590.2,138.7 590.3,142.8 590.5,147.6 590.6,151.2 590.7,151.2 590.8,151.2 590.9,151.2 591.0,151.2 591.1,151.2 591.2,151.2 591.3,151.2 591.4,151.2 591.6,146.3 591.7,142.3 591.8,138.9 591.9,136.0 592.0,133.5 592.1,131.3 592.2,129.4 592.3,127.6 592.4,126.0 592.5,124.6 592.7,123.3 592.8,122.1 592.9,121.1 593.0,120.1 593.1,119.3 593.2,118.5 593.3,117.8 593.4,117.1 593.5,116.5 593.7,116.0 593.8,115.6 593.9,115.2 594.0,114.9 594.1,114.6 594.2,114.3 594.3,114.1 594.4,114.0 594.5,113.9 594.6,113.9 594.8,113.9 594.9,113.9 595.0,114.0 595.1,114.1 595.2,114.3 595.3,114.5 595.4,114.8 595.5,115.1 595.6,115.4 595.7,115.8 595.9,116.3 596.0,116.7 596.1,117.3 596.2,117.9 596.3,118.5 596.4,119.2 596.5,120.0 596.6,120.8 596.7,121.7 596.8,122.7 597.0,123.7 597.1,124.8 597.2,126.1 597.3,127.4 597.4,128.8 597.5,130.3 597.6,132.0 597.7,133.8 597.8,135.7 597.9,137.9 598.1,140.3 598.2,143.1 598.3,146.1 598.4,149.6 598.5,151.2 598.6,151.2 598.7,151.2 598.8,151.2 598.9,151.2 599.0,151.2 599.2,151.2 599.3,151.2 599.4,151.2 599.5,151.2 599.6,151.2 599.7,151.2 599.8,151.2 599.9,148.0 600.0,145.2 600.2,142.6 600.3,140.4 600.4,138.5 600.5,136.7 600.6,135.1 600.7,133.6 600.8,132.3 600.9,131.1 601.0,130.0 601.1,129.0 601.3,128.1 601.4,127.3 601.5,126.6 601.6,125.9 601.7,125.3 601.8,124.8 601.9,124.3 602.0,123.8 602.1,123.5 602.2,123.1 602.4,122.9 602.5,122.7 602.6,122.5 602.7,122.4 602.8,122.3 602.9,122.2 603.0,122.2 603.1,122.3 603.2,122.4 603.3,122.5 603.5,122.7 603.6,123.0 603.7,123.2 603.8,123.5 603.9,123.9 604.0,124.3 604.1,124.8 604.2,125.3 604.3,125.9 604.4,126.5 604.6,127.2 604.7,127.9 604.8,128.7 604.9,129.6 605.0,130.5 605.1,131.6 605.2,132.7 605.3,133.8 605.4,135.1 605.5,136.5 605.7,138.0 605.8,139.7 605.9,141.5 606.0,143.5 606.1,145.7 606.2,148.1 606.3,150.8 606.4,151.2 606.5,151.2 606.7,151.2 606.8,151.2 606.9,151.2 607.0,151.2 607.1,151.2 607.2,151.2 607.3,151.2 607.4,151.2 607.5,151.2 607.6,151.2 607.8,151.2 607.9,151.2 608.0,151.2 608.1,151.2 608.2,151.2 608.3,149.1 608.4,146.9 608.5,144.9 608.6,143.2 608.7,141.6 608.9,140.1 609.0,138.8 609.1,137.6 609.2,136.5 609.3,135.5 609.4,134.6 609.5,133.8 609.6,133.0 609.7,132.3 609.8,131.7 610.0,131.1 610.1,130.6 610.2,130.2 610.3,129.8 610.4,129.5 610.5,129.2 610.6,129.0 610.7,128.8 610.8,128.6 610.9,128.5 611.1,128.5 611.2,128.5 611.3,128.5 611.4,128.6 611.5,128.7 611.6,128.9 611.7,129.1 611.8,129.4 611.9,129.7 612.0,130.0 612.2,130.4 612.3,130.9 612.4,131.4 612.5,131.9 612.6,132.6 612.7,133.2 612.8,134.0 612.9,134.8 613.0,135.6 613.2,136.5 613.3,137.6 613.4,138.7 613.5,139.8 613.6,141.1 613.7,142.5 613.8,144.0 613.9,145.7 614.0,147.5 614.1,149.5 614.3,151.2 614.4,151.2 614.5,151.2 614.6,151.2 614.7,151.2 614.8,151.2 614.9,151.2 615.0,151.2 615.1,151.2 615.2,151.2 615.4,151.2 615.5,151.2 615.6,151.2 615.7,151.2 615.8,151.2 615.9,151.2 616.0,151.2 616.1,151.2 616.2,151.2 616.3,151.2 616.5,151.2 616.6,151.2 616.7,150.0 616.8,148.2 616.9,146.6 617.0,145.2 617.1,143.9 617.2,142.7 617.3,141.6 617.4,140.6 617.6,139.6 617.7,138.8 617.8,138.0 617.9,137.4 618.0,136.7 618.1,136.2 618.2,135.7 618.3,135.2 618.4,134.8 618.5,134.5 618.7,134.2 618.8,133.9 618.9,133.7 619.0,133.6 619.1,133.5 619.2,133.4 619.3,133.4 619.4,133.5 619.5,133.5 619.7,133.7 619.8,133.8 619.9,134.0 620.0,134.3 620.1,134.6 620.2,134.9 620.3,135.3 620.4,135.8 620.5,136.3 620.6,136.8 620.8,137.4 620.9,138.1 621.0,138.8 621.1,139.6 621.2,140.5 621.3,141.4 621.4,142.4 621.5,143.5 621.6,144.7 621.7,146.0 621.9,147.4 622.0,148.9 622.1,150.6 622.2,151.2 622.3,151.2 622.4,151.2 622.5,151.2 622.6,151.2 622.7,151.2 622.8,151.2 623.0,151.2 623.1,151.2 623.2,151.2 623.3,151.2 623.4,151.2 623.5,151.2 623.6,151.2 623.7,151.2 623.8,151.2 623.9,151.2 624.1,151.2 624.2,151.2 624.3,151.2 624.4,151.2 624.5,151.2 624.6,151.2 624.7,151.2 624.8,151.2 624.9,151.2 625.0,150.7 625.2,149.3 625.3,148.0 625.4,146.8 625.5,145.7 625.6,144.7 625.7,143.8 625.8,143.0 625.9,142.2 626.0,141.5 626.2,140.9 626.3,140.3 626.4,139.8 626.5,139.4 626.6,139.0 626.7,138.6 626.8,138.3 626.9,138.1 627.0,137.9 627.1,137.7 627.3,137.6 627.4,137.6 627.5,137.6 627.6,137.6 627.7,137.7 627.8,137.8 627.9,137.9 628.0,138.1 628.1,138.4 628.2,138.7 628.4,139.0 628.5,139.4 628.6,139.9 628.7,140.4 628.8,140.9 628.9,141.5 629.0,142.2 629.1,142.9 629.2,143.7 629.3,144.6 629.5,145.5 629.6,146.5 629.7,147.6 629.8,148.8 629.9,150.1 630.0,151.2 630.1,151.2 630.2,151.2 630.3,151.2 630.4,151.2 630.6,151.2 630.7,151.2 630.8,151.2 630.9,151.2 631.0,151.2 631.1,151.2 631.2,151.2 631.3,151.2 631.4,151.2 631.6,151.2 631.7,151.2 631.8,151.2 631.9,151.2 632.0,151.2 632.1,151.2 632.2,151.2 632.3,151.2 632.4,151.2 632.5,151.2 632.7,151.2 632.8,151.2 632.9,151.2 633.0,151.2 633.1,151.2 633.2,151.2 633.3,151.2 633.4,151.2 633.5,150.3 633.6,149.2 633.8,148.2 633.9,147.3 634.0,146.5 634.1,145.7 634.2,145.0 634.3,144.4 634.4,143.8 634.5,143.3 634.6,142.9 634.7,142.5 634.9,142.2 635.0,141.9 635.1,141.6 635.2,141.4 635.3,141.3 635.4,141.2 635.5,141.1 635.6,141.1 635.7,141.1 635.8,141.2 636.0,141.3 636.1,141.5 636.2,141.7 636.3,141.9 636.4,142.2 636.5,142.6 636.6,143.0 636.7,143.4 636.8,143.9 636.9,144.5 637.1,145.1 637.2,145.8 637.3,146.5 637.4,147.3 637.5,148.2 637.6,149.1 637.7,150.1 637.8,151.2 637.9,151.2 638.1,151.2 638.2,151.2 638.3,151.2 638.4,151.2 638.5,151.2 638.6,151.2 638.7,151.2 638.8,151.2 638.9,151.2 639.0,151.2 639.2,151.2 639.3,151.2 639.4,151.2 639.5,151.2 639.6,151.2 639.7,151.2 639.8,151.2 639.9,151.2 640.0,151.2 640.1,151.2 640.3,151.2 640.4,151.2 640.5,151.2 640.6,151.2 640.7,151.2 640.8,151.2 640.9,151.2 641.0,151.2 641.1,151.2 641.2,151.2 641.4,151.2 641.5,151.2 641.6,151.2 641.7,151.2 641.8,151.2 641.9,151.2 642.0,150.3 642.1,149.5 642.2,148.8 642.3,148.1 642.5,147.5 642.6,146.9 642.7,146.4 642.8,146.0 642.9,145.6 643.0,145.2 643.1,144.9 643.2,144.7 643.3,144.5 643.4,144.3 643.6,144.2 643.7,144.2 643.8,144.2 643.9,144.2 644.0,144.3 644.1,144.4 644.2,144.6 644.3,144.8 644.4,145.0 644.6,145.3 644.7,145.7 644.8,146.1 644.9,146.5 645.0,147.0 645.1,147.6 645.2,148.2 645.3,148.9 645.4,149.6 645.5,150.4 645.7,151.2 645.8,151.2 645.9,151.2 646.0,151.2 646.1,151.2 646.2,151.2 646.3,151.2 646.4,151.2 646.5,151.2 646.6,151.2 646.8,151.2 646.9,151.2 647.0,151.2 647.1,151.2 647.2,151.2 647.3,151.2 647.4,151.2 647.5,151.2 647.6,151.2 647.7,151.2 647.9,151.2 648.0,151.2 648.1,151.2 648.2,151.2 648.3,151.2 648.4,151.2 648.5,151.2 648.6,151.2 648.7,151.2 648.8,151.2 649.0,151.2 649.1,151.2 649.2,151.2 649.3,151.2 649.4,151.2 649.5,151.2 649.6,151.2 649.7,151.2 649.8,151.2 649.9,151.2 650.1,151.2 650.2,151.2 650.3,151.2 650.4,151.2 650.5,150.8 650.6,150.2 650.7,149.6 650.8,149.1 650.9,148.7 651.1,148.3 651.2,147.9 651.3,147.7 651.4,147.4 651.5,147.2 651.6,147.1 651.7,147.0 651.8,146.9 651.9,146.9 652.0,146.9 652.2,147.0 652.3,147.1 652.4,147.3 652.5,147.5 652.6,147.8 652.7,148.1 652.8,148.4 652.9,148.9 653.0,149.3 653.1,149.8 653.3,150.4 653.4,151.0 653.5,151.2 653.6,151.2 653.7,151.2 653.8,151.2 653.9,151.2 654.0,151.2 654.1,151.2 654.2,151.2 654.4,151.2 654.5,151.2 654.6,151.2 654.7,151.2 654.8,151.2 654.9,151.2 655.0,151.2 655.1,151.2 655.2,151.2 655.3,151.2 655.5,151.2 655.6,151.2 655.7,151.2 655.8,151.2 655.9,151.2 656.0,151.2 656.1,151.2 656.2,151.2 656.3,151.2 656.4,151.2 656.6,151.2 656.7,151.2 656.8,151.2 656.9,151.2 657.0,151.2 657.1,151.2 657.2,151.2 657.3,151.2 657.4,151.2 657.6,151.2 657.7,151.2 657.8,151.2 657.9,151.2 658.0,151.2 658.1,151.2 658.2,151.2 658.3,151.2 658.4,151.2 658.5,151.2 658.7,151.2 658.8,151.2 658.9,151.2 659.0,151.2 659.1,151.1 659.2,150.7 659.3,150.4 659.4,150.1 659.5,149.9 659.6,149.7 659.8,149.5 659.9,149.4 660.0,149.4 660.1,149.4 660.2,149.4 660.3,149.5 660.4,149.6 660.5,149.8 660.6,150.0 660.7,150.3 660.9,150.6 661.0,150.9 661.1,151.2 661.2,151.2 661.3,151.2 661.4,151.2 661.5,151.2 661.6,151.2 661.7,151.2 661.8,151.2 662.0,151.2 662.1,151.2 662.2,151.2 662.3,151.2 662.4,151.2 662.5,151.2 662.6,151.2 662.7,151.2 662.8,151.2" fill="none" stroke="#28289a" stroke-width="1.1" stroke-linejoin="round"/>
<rect x="486.70" y="12.50" width="176.80" height="135.80" fill="none" stroke="#8e8e8e" stroke-width="1.5"/>
<line x1="506.90" y1="148.30" x2="506.90" y2="146.30" stroke="#606060" stroke-width="1"/>
<line x1="506.90" y1="12.50" x2="506.90" y2="14.50" stroke="#606060" stroke-width="1"/>
<text x="505.60" y="157.60" font-family="Liberation Sans" font-size="8.8" text-anchor="middle" font-weight="normal" fill="#0a0a0a" stroke="#0a0a0a" stroke-width="0.2" >-10</text>
<line x1="540.80" y1="148.30" x2="540.80" y2="146.30" stroke="#606060" stroke-width="1"/>
<line x1="540.80" y1="12.50" x2="540.80" y2="14.50" stroke="#606060" stroke-width="1"/>
<text x="539.50" y="157.60" font-family="Liberation Sans" font-size="8.8" text-anchor="middle" font-weight="normal" fill="#0a0a0a" stroke="#0a0a0a" stroke-width="0.2" >-5</text>
<line x1="574.70" y1="148.30" x2="574.70" y2="146.30" stroke="#606060" stroke-width="1"/>
<line x1="574.70" y1="12.50" x2="574.70" y2="14.50" stroke="#606060" stroke-width="1"/>
<text x="574.70" y="157.60" font-family="Liberation Sans" font-size="8.8" text-anchor="middle" font-weight="normal" fill="#0a0a0a" stroke="#0a0a0a" stroke-width="0.2" >0</text>
<line x1="608.60" y1="148.30" x2="608.60" y2="146.30" stroke="#606060" stroke-width="1"/>
<line x1="608.60" y1="12.50" x2="608.60" y2="14.50" stroke="#606060" stroke-width="1"/>
<text x="608.60" y="157.60" font-family="Liberation Sans" font-size="8.8" text-anchor="middle" font-weight="normal" fill="#0a0a0a" stroke="#0a0a0a" stroke-width="0.2" >5</text>
<line x1="642.50" y1="148.30" x2="642.50" y2="146.30" stroke="#606060" stroke-width="1"/>
<line x1="642.50" y1="12.50" x2="642.50" y2="14.50" stroke="#606060" stroke-width="1"/>
<text x="642.50" y="157.60" font-family="Liberation Sans" font-size="8.8" text-anchor="middle" font-weight="normal" fill="#0a0a0a" stroke="#0a0a0a" stroke-width="0.2" >10</text>
<line x1="486.70" y1="34.95" x2="488.70" y2="34.95" stroke="#606060" stroke-width="1"/>
<line x1="663.50" y1="34.95" x2="661.50" y2="34.95" stroke="#606060" stroke-width="1"/>
<text x="485.40" y="38.35" font-family="Liberation Sans" font-size="8.8" text-anchor="end" font-weight="normal" fill="#0a0a0a" stroke="#0a0a0a" stroke-width="0.2" >10</text>
<line x1="486.70" y1="63.30" x2="488.70" y2="63.30" stroke="#606060" stroke-width="1"/>
<line x1="663.50" y1="63.30" x2="661.50" y2="63.30" stroke="#606060" stroke-width="1"/>
<text x="485.40" y="66.70" font-family="Liberation Sans" font-size="8.8" text-anchor="end" font-weight="normal" fill="#0a0a0a" stroke="#0a0a0a" stroke-width="0.2" >0</text>
<line x1="486.70" y1="91.65" x2="488.70" y2="91.65" stroke="#606060" stroke-width="1"/>
<line x1="663.50" y1="91.65" x2="661.50" y2="91.65" stroke="#606060" stroke-width="1"/>
<text x="485.40" y="95.05" font-family="Liberation Sans" font-size="8.8" text-anchor="end" font-weight="normal" fill="#0a0a0a" stroke="#0a0a0a" stroke-width="0.2" >-10</text>
<line x1="486.70" y1="120.00" x2="488.70" y2="120.00" stroke="#606060" stroke-width="1"/>
<line x1="663.50" y1="120.00" x2="661.50" y2="120.00" stroke="#606060" stroke-width="1"/>
<text x="485.40" y="123.40" font-family="Liberation Sans" font-size="8.8" text-anchor="end" font-weight="normal" fill="#0a0a0a" stroke="#0a0a0a" stroke-width="0.2" >-20</text>
<line x1="486.70" y1="148.35" x2="488.70" y2="148.35" stroke="#606060" stroke-width="1"/>
<line x1="663.50" y1="148.35" x2="661.50" y2="148.35" stroke="#606060" stroke-width="1"/>
<text x="485.40" y="151.75" font-family="Liberation Sans" font-size="8.8" text-anchor="end" font-weight="normal" fill="#0a0a0a" stroke="#0a0a0a" stroke-width="0.2" >-30</text>
<text x="575.10" y="167.80" font-family="Liberation Sans" font-size="8.8" text-anchor="middle" font-weight="normal" fill="#0a0a0a" stroke="#0a0a0a" stroke-width="0.2" >Azimuth samples</text>
<text transform="translate(467.7,80.9) rotate(-90)" font-family="Liberation Sans" font-size="8.8" text-anchor="middle" fill="#0a0a0a" stroke="#0a0a0a" stroke-width="0.2">Magnitude (dB)</text>
<text x="571.50" y="187.60" font-family="Liberation Serif" font-size="14.3" text-anchor="middle" font-weight="bold" fill="#0a0a0a" stroke="#0a0a0a" stroke-width="0.1" letter-spacing="0.5">(c)</text>
<polyline points="130.2,226.3 129.5,226.4 128.8,226.4 128.0,226.3 127.3,226.2 126.8,225.9 126.5,225.6 126.3,225.2 126.4,224.9 126.6,224.7 127.0,224.3 127.5,224.1 128.1,224.0 129.5,223.9 130.2,224.0 130.8,224.2 131.2,224.3 131.6,224.7 131.8,224.9 131.8,225.4 131.6,225.7 131.2,226.0 130.2,226.3" fill="none" stroke="#3c3c4b" stroke-width="0.75"/>
<polyline points="129.8,236.5 128.4,236.5 127.2,236.4 126.3,236.2 125.5,235.8 124.8,235.4 124.4,234.8 124.4,234.2 124.5,233.8 125.1,233.2 126.0,232.7 127.4,232.3 128.9,232.2 130.5,232.3 131.9,232.6 132.9,233.1 133.6,233.7 133.8,234.1 133.8,234.7 133.6,235.2 133.1,235.6 132.6,235.9 131.8,236.2 130.8,236.4 129.8,236.5" fill="none" stroke="#3c3c4b" stroke-width="0.75"/>
<polyline points="131.3,246.3 129.5,246.4 127.7,246.3 126.0,246.1 124.7,245.8 123.6,245.2 123.1,244.6 122.8,243.8 122.9,243.1 123.1,242.7 123.5,242.2 124.4,241.6 125.7,241.2 127.4,240.9 129.5,240.8 131.4,240.9 133.1,241.3 133.8,241.6 134.3,241.9 135.0,242.5 135.3,243.2 135.4,244.0 135.1,244.7 134.6,245.2 133.7,245.7 132.6,246.0 131.3,246.3" fill="none" stroke="#3c3c4b" stroke-width="0.75"/>
<polyline points="129.6,256.2 127.4,256.1 125.5,255.9 124.0,255.6 122.8,255.1 122.0,254.5 121.7,254.1 121.5,253.6 121.4,253.2 121.4,252.6 121.8,251.7 122.1,251.2 122.6,250.8 123.3,250.3 124.1,250.0 125.0,249.8 126.2,249.6 128.8,249.4 131.4,249.5 132.6,249.7 133.7,249.9 134.6,250.2 135.3,250.6 135.9,251.1 136.3,251.5 136.6,251.9 136.7,252.4 136.8,253.0 136.8,253.4 136.6,253.9 136.4,254.3 135.7,254.9 134.8,255.5 133.4,255.8 131.8,256.0 129.6,256.2" fill="none" stroke="#3c3c4b" stroke-width="0.75"/>
<polyline points="133.1,265.8 129.6,265.9 126.0,265.8 123.6,265.6 122.6,265.4 121.8,265.2 121.2,264.9 120.8,264.6 120.4,264.1 120.2,263.6 120.0,263.1 120.0,262.4 120.0,261.7 120.2,261.1 120.5,260.5 120.8,260.1 121.2,259.6 121.7,259.3 122.3,259.0 123.0,258.7 124.8,258.4 127.8,258.2 131.3,258.2 133.8,258.5 134.9,258.7 135.8,259.0 136.5,259.3 137.1,259.8 137.5,260.2 137.9,260.8 138.1,261.6 138.2,262.3 138.2,263.1 138.0,263.6 137.8,264.1 137.4,264.5 137.0,264.9 136.6,265.1 135.2,265.5 133.1,265.8" fill="none" stroke="#3c3c4b" stroke-width="0.75"/>
<polyline points="133.6,284.2 131.0,284.3 128.0,284.3 125.5,284.3 123.3,284.1 122.0,283.9 121.0,283.6 120.1,283.1 119.5,282.6 119.1,282.1 118.8,281.5 118.5,280.0 118.2,277.6 118.2,274.6 118.3,272.2 118.6,270.4 119.1,269.2 119.3,268.8 119.8,268.3 120.3,267.9 121.1,267.6 122.0,267.3 123.0,267.1 126.2,266.9 130.6,266.9 134.0,267.0 136.2,267.3 137.1,267.6 137.8,267.8 138.3,268.1 138.7,268.6 139.2,269.4 139.6,270.4 139.8,271.8 140.0,273.4 140.0,275.8 139.9,278.2 139.7,280.0 139.4,281.4 139.2,281.9 138.8,282.6 138.3,283.0 137.8,283.4 137.0,283.7 136.1,283.9 133.6,284.2" fill="none" stroke="#00006b" stroke-width="0.75"/>
<polyline points="113.4,282.9 112.1,282.9 110.9,282.7 109.8,282.3 109.1,281.9 108.5,281.2 108.0,280.4 107.7,279.4 107.4,278.1 107.3,276.1 107.3,274.0 107.6,272.2 108.0,270.9 108.3,270.2 108.6,269.8 109.4,269.1 110.4,268.6 111.7,268.4 112.8,268.3 113.9,268.4 114.8,268.7 115.4,269.0 115.9,269.5 116.3,270.2 116.6,271.2 116.8,272.4 116.9,274.4 116.9,277.0 116.8,279.1 116.5,280.5 116.0,281.5 115.4,282.2 114.5,282.6 113.4,282.9" fill="none" stroke="#3c3c4b" stroke-width="0.75"/>
<polyline points="146.3,282.9 145.2,282.9 144.2,282.8 143.3,282.5 142.7,282.1 142.2,281.5 141.8,280.8 141.5,279.7 141.4,278.5 141.2,276.2 141.3,273.9 141.5,271.9 141.8,270.6 142.2,269.6 142.8,269.0 143.8,268.5 144.8,268.3 146.1,268.3 147.3,268.5 148.4,268.9 149.1,269.4 149.8,270.1 150.3,271.0 150.6,272.2 150.8,273.6 150.9,275.6 150.8,277.8 150.5,279.4 150.1,280.6 149.5,281.5 148.7,282.1 147.6,282.6 146.3,282.9" fill="none" stroke="#3c3c4b" stroke-width="0.75"/>
<polyline points="101.8,281.7 100.8,281.8 99.8,281.6 98.9,281.3 98.2,280.9 97.5,280.3 97.1,279.4 96.7,278.4 96.5,277.1 96.4,275.5 96.5,274.0 96.8,272.6 97.1,271.6 97.7,270.8 98.4,270.1 99.3,269.7 100.2,269.5 101.2,269.5 102.0,269.6 102.8,269.9 103.4,270.4 103.8,270.9 104.2,271.8 104.5,272.6 104.7,273.7 104.8,275.2 104.7,276.9 104.6,278.2 104.3,279.4 103.8,280.3 103.3,280.9 102.7,281.4 101.8,281.7" fill="none" stroke="#3c3c4b" stroke-width="0.75"/>
<polyline points="158.3,281.7 157.2,281.8 156.3,281.6 155.6,281.4 154.9,280.9 154.4,280.3 154.0,279.6 153.7,278.6 153.5,277.4 153.4,275.8 153.5,274.1 153.7,272.8 154.0,271.6 154.5,270.7 155.1,270.1 155.9,269.7 156.8,269.5 157.8,269.5 158.8,269.6 159.5,270.0 160.2,270.5 160.8,271.1 161.2,271.9 161.5,272.8 161.7,274.0 161.8,275.5 161.7,277.0 161.5,278.4 161.1,279.4 160.7,280.2 160.0,280.9 159.2,281.4 158.3,281.7" fill="none" stroke="#3c3c4b" stroke-width="0.75"/>
<polyline points="89.6,280.6 88.8,280.6 88.1,280.4 87.3,280.1 86.8,279.5 86.3,278.9 85.9,278.1 85.7,277.1 85.6,276.1 85.6,275.1 85.7,274.0 86.0,273.0 86.4,272.2 86.9,271.5 87.5,271.0 88.2,270.7 89.0,270.6 89.8,270.6 90.5,270.9 91.1,271.2 91.5,271.7 92.0,272.4 92.2,273.1 92.4,274.0 92.6,274.9 92.6,276.1 92.5,277.1 92.2,278.2 91.9,278.9 91.5,279.6 90.9,280.1 90.3,280.4 89.6,280.6" fill="none" stroke="#3c3c4b" stroke-width="0.75"/>
<polyline points="169.4,280.6 168.6,280.6 167.9,280.4 167.3,280.1 166.7,279.6 166.3,278.9 166.0,278.2 165.8,277.3 165.6,276.2 165.6,275.1 165.8,274.0 166.0,273.1 166.3,272.2 166.7,271.6 167.3,271.1 168.1,270.7 168.8,270.6 169.6,270.6 170.3,270.8 170.9,271.2 171.5,271.7 171.9,272.4 172.2,273.1 172.5,274.0 172.6,275.1 172.6,276.1 172.5,277.1 172.2,278.1 171.9,278.9 171.4,279.6 170.9,280.0 170.1,280.4 169.4,280.6" fill="none" stroke="#3c3c4b" stroke-width="0.75"/>
<polyline points="78.3,279.3 77.8,279.4 77.2,279.4 76.5,279.1 76.1,278.8 75.7,278.4 75.3,277.8 75.1,277.1 74.9,276.4 74.9,275.5 74.9,274.8 75.1,274.0 75.4,273.2 75.8,272.7 76.2,272.2 76.7,272.0 77.3,271.8 77.9,271.8 78.3,271.9 78.8,272.1 79.2,272.5 79.5,272.9 79.8,273.5 80.2,274.8 80.2,275.5 80.2,276.4 80.1,277.1 79.8,277.7 79.5,278.3 79.2,278.7 78.8,279.1 78.3,279.3" fill="none" stroke="#3c3c4b" stroke-width="0.75"/>
<polyline points="181.2,279.3 180.7,279.4 180.0,279.3 179.5,279.1 179.1,278.8 178.7,278.4 178.4,277.9 178.1,277.1 178.0,276.4 178.0,275.5 178.0,274.8 178.2,274.0 178.4,273.2 178.8,272.6 179.3,272.2 179.8,272.0 180.3,271.8 180.9,271.8 181.4,272.0 181.8,272.2 182.3,272.6 182.6,272.9 182.9,273.6 183.1,274.1 183.3,274.9 183.3,275.6 183.3,276.4 183.1,277.1 182.9,277.8 182.5,278.4 182.2,278.8 181.7,279.1 181.2,279.3" fill="none" stroke="#3c3c4b" stroke-width="0.75"/>
<polyline points="66.3,277.8 65.8,277.8 65.2,277.4 64.7,276.8 64.5,275.9 64.5,274.9 64.8,274.1 65.3,273.7 65.9,273.4 66.5,273.5 67.0,273.9 67.4,274.4 67.6,275.2 67.6,276.1 67.4,276.9 67.0,277.4 66.3,277.8" fill="none" stroke="#3c3c4b" stroke-width="0.75"/>
<polyline points="192.5,277.8 191.9,277.8 191.6,277.7 191.3,277.4 190.8,276.9 190.6,275.9 190.6,275.1 190.9,274.1 191.4,273.6 192.0,273.4 192.7,273.5 193.1,273.9 193.5,274.4 193.7,275.2 193.7,276.1 193.5,276.9 193.0,277.4 192.5,277.8" fill="none" stroke="#3c3c4b" stroke-width="0.75"/>
<polyline points="130.1,293.1 127.2,293.0 124.8,292.8 123.0,292.4 121.7,291.9 121.2,291.6 120.8,291.1 120.4,290.5 120.1,289.9 120.0,289.1 120.0,288.4 120.1,287.8 120.3,287.2 120.7,286.8 121.1,286.4 121.7,286.1 122.5,285.8 124.5,285.5 127.8,285.3 131.9,285.4 134.8,285.6 135.8,285.8 136.6,286.1 137.2,286.4 137.6,286.9 137.9,287.4 138.1,287.9 138.2,288.6 138.2,289.3 138.1,289.9 137.8,290.5 137.4,291.1 137.0,291.6 135.9,292.2 134.4,292.6 132.5,292.9 130.1,293.1" fill="none" stroke="#3c3c4b" stroke-width="0.75"/>
<polyline points="129.9,301.8 127.7,301.7 125.8,301.5 124.2,301.2 123.0,300.7 122.6,300.4 122.1,299.9 121.7,299.5 121.5,299.1 121.4,298.6 121.4,298.0 121.5,297.6 121.7,297.1 122.0,296.6 122.5,296.2 123.1,295.9 123.9,295.6 125.9,295.2 128.4,295.1 131.4,295.1 133.8,295.4 134.6,295.7 135.3,296.0 135.9,296.4 136.3,296.8 136.6,297.2 136.7,297.7 136.8,298.1 136.7,298.8 136.6,299.2 136.4,299.6 135.6,300.4 134.6,301.0 133.4,301.4 131.9,301.6 129.9,301.8" fill="none" stroke="#3c3c4b" stroke-width="0.75"/>
<polyline points="131.0,310.3 129.2,310.4 127.4,310.3 125.9,310.1 124.6,309.7 123.6,309.1 123.1,308.5 122.8,307.8 122.8,307.3 123.0,306.9 123.2,306.4 123.5,306.1 123.9,305.8 124.5,305.5 126.0,305.1 127.8,304.9 130.1,304.8 132.1,305.1 133.7,305.5 134.3,305.8 134.7,306.1 135.2,306.7 135.4,307.4 135.3,308.2 134.9,308.8 134.3,309.3 133.4,309.8 132.3,310.1 131.0,310.3" fill="none" stroke="#3c3c4b" stroke-width="0.75"/>
<polyline points="130.7,318.9 129.3,319.0 128.0,318.9 126.8,318.7 125.8,318.4 125.0,318.0 124.6,317.5 124.4,316.9 124.5,316.3 124.9,315.7 125.8,315.2 127.0,314.9 128.3,314.7 129.8,314.7 131.3,314.9 132.5,315.2 133.3,315.7 133.7,316.1 133.8,316.6 133.8,317.2 133.5,317.6 133.0,318.1 132.4,318.4 131.6,318.7 130.7,318.9" fill="none" stroke="#3c3c4b" stroke-width="0.75"/>
<polyline points="129.8,327.3 128.3,327.3 127.2,326.9 126.7,326.6 126.4,326.4 126.3,326.1 126.4,325.8 126.6,325.4 127.2,325.1 128.0,324.9 128.8,324.8 129.6,324.8 130.4,324.9 131.1,325.1 131.6,325.4 131.8,325.8 131.9,326.1 131.8,326.4 131.6,326.6 131.3,326.8 130.8,327.0 129.8,327.3" fill="none" stroke="#3c3c4b" stroke-width="0.75"/>
<polyline points="130.1,254.7 129.1,254.7 128.0,254.7 127.1,254.5 126.2,254.2 125.7,253.9 125.3,253.4 125.2,253.0 125.3,252.6 125.8,252.0 126.5,251.6 127.5,251.3 128.8,251.2 130.1,251.2 131.1,251.4 132.1,251.8 132.7,252.2 132.9,252.6 133.0,253.0 132.9,253.4 132.7,253.8 132.3,254.1 131.6,254.3 130.1,254.7" fill="none" stroke="#555a8c" stroke-width="0.75"/>
<polyline points="131.8,265.2 129.5,265.3 127.2,265.2 125.3,265.0 124.0,264.7 123.4,264.4 122.9,264.1 122.3,263.5 122.1,263.1 122.0,262.6 122.1,262.1 122.2,261.7 122.4,261.2 122.7,260.8 123.2,260.4 123.6,260.1 125.0,259.5 126.6,259.2 128.9,259.1 131.1,259.2 133.1,259.5 134.5,260.1 135.3,260.7 135.7,261.1 136.0,261.6 136.1,262.0 136.2,262.4 136.1,262.9 136.0,263.4 135.6,263.8 135.3,264.1 134.5,264.6 133.4,264.9 131.8,265.2" fill="none" stroke="#555a8c" stroke-width="0.75"/>
<polyline points="130.1,283.9 127.8,283.9 125.9,283.8 124.2,283.6 122.9,283.3 121.8,283.0 121.0,282.5 120.3,281.9 119.7,281.2 119.2,279.9 118.8,277.9 118.7,275.5 118.8,273.1 119.1,271.4 119.7,270.1 120.3,269.2 121.2,268.5 122.0,268.1 123.0,267.8 125.5,267.4 128.9,267.3 132.5,267.4 134.8,267.7 136.4,268.2 137.0,268.5 137.6,268.9 138.1,269.4 138.5,269.9 138.9,271.0 139.2,272.2 139.4,273.9 139.5,275.8 139.4,277.6 139.2,279.1 138.9,280.3 138.4,281.4 137.9,282.0 137.3,282.5 136.6,282.9 135.6,283.3 134.6,283.5 133.2,283.7 130.1,283.9" fill="none" stroke="#00008d" stroke-width="0.75"/>
<polyline points="113.3,281.2 112.4,281.2 111.4,281.1 110.6,280.7 109.9,280.1 109.4,279.6 108.9,278.6 108.7,277.7 108.5,276.6 108.4,275.2 108.6,274.0 108.8,272.8 109.2,271.9 109.8,271.1 110.4,270.6 111.3,270.2 112.2,270.0 113.0,270.0 113.8,270.1 114.4,270.4 115.0,270.9 115.4,271.4 115.7,272.2 116.0,273.2 116.1,274.3 116.2,275.6 116.1,277.0 116.0,278.2 115.6,279.2 115.2,280.0 114.7,280.6 114.0,281.0 113.3,281.2" fill="none" stroke="#555a8c" stroke-width="0.75"/>
<polyline points="146.1,281.2 145.2,281.2 144.5,281.1 143.8,280.8 143.2,280.3 142.8,279.7 142.4,278.9 142.2,278.1 142.0,276.9 142.0,275.4 142.1,273.9 142.3,272.6 142.6,271.8 143.1,271.0 143.6,270.5 144.3,270.1 145.2,270.0 146.1,270.0 147.1,270.2 147.8,270.6 148.4,271.1 148.9,271.8 149.3,272.6 149.6,273.7 149.7,274.8 149.8,276.1 149.6,277.3 149.4,278.4 149.0,279.2 148.5,280.0 147.8,280.6 147.1,281.0 146.1,281.2" fill="none" stroke="#555a8c" stroke-width="0.75"/>
<polyline points="101.3,278.7 100.8,278.7 100.4,278.7 99.9,278.5 99.5,278.2 99.1,277.8 98.9,277.3 98.7,276.7 98.6,276.1 98.5,275.4 98.6,274.8 98.8,274.1 99.0,273.6 99.4,273.1 99.8,272.8 100.2,272.6 100.7,272.5 101.4,272.6 101.8,272.8 102.2,273.1 102.5,273.5 102.7,274.0 103.0,275.1 103.0,276.2 102.7,277.4 102.4,277.9 102.0,278.2 101.7,278.5 101.3,278.7" fill="none" stroke="#555a8c" stroke-width="0.75"/>
<polyline points="157.8,278.7 157.4,278.7 156.9,278.7 156.5,278.5 156.1,278.2 155.8,277.8 155.5,277.3 155.3,276.7 155.2,276.1 155.3,274.8 155.4,274.1 155.7,273.6 156.0,273.1 156.3,272.8 156.8,272.6 157.2,272.5 157.7,272.5 158.1,272.6 158.6,272.9 158.9,273.2 159.2,273.7 159.4,274.1 159.7,275.2 159.6,276.4 159.3,277.4 159.0,277.9 158.6,278.3 157.8,278.7" fill="none" stroke="#555a8c" stroke-width="0.75"/>
<polyline points="131.3,292.0 129.3,292.1 127.2,292.1 125.5,291.8 124.1,291.3 123.0,290.7 122.7,290.4 122.3,289.9 122.1,289.4 122.0,288.9 122.1,288.4 122.2,287.9 122.5,287.5 122.8,287.2 123.2,286.9 123.8,286.6 125.3,286.2 127.4,286.0 130.1,285.9 132.6,286.1 134.3,286.6 135.0,286.9 135.4,287.2 135.7,287.5 136.0,287.9 136.2,288.7 136.1,289.1 136.0,289.6 135.5,290.4 134.8,290.9 133.9,291.4 132.8,291.8 131.3,292.0" fill="none" stroke="#555a8c" stroke-width="0.75"/>
<polyline points="130.4,300.0 129.3,300.1 128.3,300.0 127.4,299.9 126.5,299.6 125.9,299.3 125.4,298.9 125.2,298.4 125.2,298.1 125.3,297.9 125.6,297.4 126.3,296.9 127.3,296.6 128.4,296.5 129.6,296.5 130.9,296.6 131.9,296.9 132.6,297.4 132.9,297.7 133.0,298.1 132.9,298.6 132.8,298.9 132.4,299.2 131.9,299.5 131.2,299.8 130.4,300.0" fill="none" stroke="#555a8c" stroke-width="0.75"/>
<polyline points="130.8,264.4 129.5,264.5 128.1,264.5 126.8,264.3 125.8,264.0 124.9,263.6 124.5,263.2 124.2,262.6 124.3,262.0 124.7,261.4 125.2,260.9 126.2,260.5 127.2,260.3 128.4,260.1 129.8,260.1 131.1,260.3 132.2,260.6 133.1,261.0 133.7,261.6 134.0,262.1 134.0,262.6 133.9,262.9 133.6,263.4 132.9,263.8 132.1,264.2 130.8,264.4" fill="none" stroke="#6473af" stroke-width="0.75"/>
<polyline points="131.0,283.5 128.9,283.5 127.0,283.4 125.3,283.3 123.8,283.0 122.6,282.6 121.7,282.1 121.0,281.5 120.3,280.8 119.8,279.6 119.4,277.9 119.2,275.8 119.3,273.7 119.6,272.1 120.1,270.9 120.8,269.8 121.7,269.1 122.5,268.7 123.3,268.3 125.5,267.9 128.4,267.7 131.6,267.8 133.8,268.1 134.8,268.3 135.6,268.6 136.2,268.9 136.9,269.4 137.4,269.8 137.8,270.4 138.3,271.3 138.6,272.4 138.9,273.7 139.0,275.2 139.0,276.7 138.8,278.2 138.5,279.4 138.1,280.4 137.7,281.1 137.1,281.6 136.4,282.2 135.6,282.6 134.8,282.9 133.7,283.1 131.0,283.5" fill="none" stroke="#001292" stroke-width="0.75"/>
<polyline points="113.3,279.4 112.7,279.5 112.1,279.5 111.5,279.2 110.9,278.8 110.4,278.3 110.2,277.7 109.9,277.0 109.8,276.2 109.7,275.4 109.8,274.6 110.0,273.9 110.3,273.1 110.8,272.5 111.2,272.2 111.8,271.8 112.4,271.7 113.0,271.7 113.4,271.8 113.9,272.1 114.3,272.5 114.6,272.9 114.9,273.4 115.2,274.8 115.3,275.5 115.2,276.4 115.1,277.1 114.8,277.9 114.5,278.5 114.2,278.9 113.8,279.2 113.3,279.4" fill="none" stroke="#6473af" stroke-width="0.75"/>
<polyline points="146.3,279.4 145.7,279.5 145.1,279.5 144.5,279.3 144.1,278.9 143.7,278.5 143.4,277.9 143.1,277.3 143.0,276.6 142.9,275.6 143.0,274.7 143.2,273.9 143.4,273.1 143.8,272.6 144.2,272.1 144.6,271.9 145.2,271.7 145.8,271.7 146.3,271.8 146.9,272.1 147.3,272.4 147.8,272.9 148.0,273.4 148.2,274.0 148.4,274.8 148.5,275.5 148.4,276.4 148.3,277.1 148.0,277.8 147.7,278.4 147.3,278.8 146.9,279.1 146.3,279.4" fill="none" stroke="#6473af" stroke-width="0.75"/>
<polyline points="129.2,291.1 128.0,291.0 127.0,290.9 126.0,290.6 125.2,290.2 124.6,289.8 124.3,289.1 124.2,288.6 124.4,288.1 124.6,287.8 125.0,287.5 126.1,287.1 127.4,286.8 129.1,286.7 130.7,286.8 132.1,287.1 133.2,287.5 133.6,287.8 133.8,288.1 134.0,288.6 133.9,289.1 133.6,289.8 133.0,290.2 132.3,290.6 131.4,290.8 130.4,291.0 129.2,291.1" fill="none" stroke="#6473af" stroke-width="0.75"/>
<polyline points="129.8,263.1 128.9,263.1 128.1,263.0 127.7,262.8 127.6,262.6 127.5,262.3 127.8,262.0 128.6,261.7 129.3,261.7 130.1,261.9 130.6,262.1 130.7,262.4 130.6,262.6 130.4,262.8 129.8,263.1" fill="none" stroke="#6e8cbe" stroke-width="0.75"/>
<polyline points="131.6,283.0 129.8,283.1 128.0,283.1 126.2,283.0 124.7,282.7 123.5,282.3 122.5,281.9 121.5,281.2 121.0,280.5 120.3,279.4 119.9,277.9 119.7,276.1 119.8,274.3 120.0,272.8 120.5,271.4 121.2,270.4 122.0,269.6 122.7,269.2 123.5,268.9 124.4,268.6 125.5,268.4 128.0,268.1 130.8,268.1 133.1,268.4 134.9,268.9 135.6,269.3 136.2,269.7 136.8,270.1 137.3,270.7 137.8,271.5 138.1,272.5 138.4,273.7 138.5,274.9 138.5,276.2 138.4,277.4 138.1,278.6 137.8,279.7 137.3,280.4 136.8,281.0 136.2,281.5 135.6,281.9 134.8,282.3 133.8,282.6 131.6,283.0" fill="none" stroke="#0045d1" stroke-width="0.75"/>
<polyline points="112.7,276.9 112.4,276.8 112.0,276.6 111.8,276.1 111.7,275.6 111.8,275.2 112.0,274.8 112.3,274.4 112.7,274.3 113.0,274.4 113.3,274.7 113.5,275.2 113.5,275.6 113.5,276.1 113.3,276.5 113.0,276.8 112.7,276.9" fill="none" stroke="#6e8cbe" stroke-width="0.75"/>
<polyline points="145.6,276.9 145.2,276.8 144.9,276.5 144.7,276.1 144.7,275.6 144.7,275.2 144.9,274.8 145.2,274.4 145.6,274.3 145.9,274.4 146.2,274.8 146.4,275.2 146.5,275.6 146.4,276.1 146.2,276.6 145.8,276.8 145.6,276.9" fill="none" stroke="#6e8cbe" stroke-width="0.75"/>
<polyline points="129.6,289.5 128.9,289.5 128.1,289.3 127.6,289.0 127.5,288.7 127.7,288.4 128.0,288.2 128.8,288.1 129.7,288.1 130.2,288.2 130.5,288.4 130.7,288.7 130.6,289.0 130.2,289.3 129.6,289.5" fill="none" stroke="#6e8cbe" stroke-width="0.75"/>
<polyline points="130.6,282.7 128.9,282.8 127.2,282.7 125.8,282.5 124.4,282.1 123.3,281.7 122.5,281.2 121.7,280.5 121.1,279.7 120.6,278.5 120.2,277.0 120.2,275.4 120.3,273.7 120.7,272.4 121.2,271.3 122.0,270.4 122.9,269.7 123.6,269.3 124.5,269.0 126.6,268.6 129.1,268.4 131.6,268.6 133.6,269.0 135.1,269.6 135.7,269.9 136.2,270.4 136.7,270.9 137.1,271.4 137.5,272.4 137.8,273.2 138.0,274.3 138.0,275.5 138.0,276.7 137.8,277.8 137.5,278.8 137.1,279.7 136.7,280.3 136.1,280.9 135.5,281.4 134.8,281.8 133.8,282.1 132.9,282.4 131.8,282.6 130.6,282.7" fill="none" stroke="#0073d1" stroke-width="0.75"/>
<polyline points="131.3,282.3 129.8,282.4 128.1,282.4 126.6,282.2 125.3,281.9 124.1,281.6 123.2,281.1 122.4,280.4 121.7,279.7 121.2,278.6 120.8,277.3 120.6,275.8 120.7,274.3 121.0,272.9 121.5,271.9 122.1,271.0 123.0,270.2 123.6,269.9 124.4,269.5 126.2,269.0 128.4,268.8 130.7,268.9 132.6,269.2 134.3,269.7 135.5,270.5 135.9,270.9 136.4,271.4 136.9,272.2 137.2,273.1 137.5,274.0 137.6,275.1 137.6,276.1 137.5,277.1 137.3,278.1 136.9,278.9 136.6,279.6 136.1,280.2 135.5,280.7 134.9,281.1 134.1,281.5 133.2,281.9 131.3,282.3" fill="none" stroke="#009dd1" stroke-width="0.75"/>
<polyline points="130.7,282.0 129.2,282.0 127.7,282.0 126.3,281.8 125.1,281.5 124.1,281.1 123.2,280.5 122.5,279.9 121.9,279.1 121.4,278.1 121.1,276.7 121.1,275.4 121.2,274.0 121.5,272.9 122.1,271.9 122.8,271.1 123.6,270.4 124.4,270.0 125.1,269.7 127.0,269.3 129.1,269.2 131.1,269.3 132.8,269.6 134.3,270.2 135.4,271.0 135.8,271.5 136.2,272.1 136.6,272.8 136.9,273.7 137.1,274.6 137.1,275.5 137.1,276.4 137.0,277.3 136.7,278.2 136.4,278.9 136.0,279.6 135.5,280.1 134.9,280.6 134.3,281.0 133.6,281.3 132.6,281.6 130.7,282.0" fill="none" stroke="#0ccbbd" stroke-width="0.75"/>
<polyline points="129.9,281.7 128.6,281.7 127.2,281.6 125.9,281.3 124.8,280.9 123.9,280.4 123.2,279.9 122.5,279.1 122.1,278.4 121.7,277.1 121.5,275.9 121.5,274.8 121.8,273.6 122.2,272.6 122.8,271.8 123.6,271.0 124.5,270.4 126.0,269.9 127.8,269.6 129.8,269.5 131.8,269.8 133.2,270.2 134.4,270.9 135.4,271.8 136.1,272.8 136.4,273.6 136.6,274.3 136.7,275.2 136.7,276.1 136.6,277.0 136.4,277.8 136.0,278.5 135.7,279.1 135.2,279.7 134.7,280.1 134.1,280.5 133.4,280.9 131.8,281.4 129.9,281.7" fill="none" stroke="#2ed19b" stroke-width="0.75"/>
<polyline points="130.8,281.2 129.6,281.3 128.3,281.3 127.1,281.2 125.9,280.9 124.8,280.5 124.1,280.0 123.4,279.4 122.8,278.6 122.3,277.8 122.0,276.7 121.9,275.5 122.0,274.4 122.3,273.4 122.8,272.5 123.4,271.8 124.2,271.1 125.6,270.4 127.1,270.0 128.9,269.9 130.7,270.0 132.2,270.3 133.6,270.8 134.6,271.6 135.4,272.5 135.7,273.1 136.0,273.9 136.2,274.6 136.3,275.4 136.1,276.9 135.9,277.6 135.6,278.3 135.3,278.8 134.9,279.3 134.4,279.8 133.8,280.2 132.5,280.8 130.8,281.2" fill="none" stroke="#53d176" stroke-width="0.75"/>
<polyline points="130.2,280.9 129.1,281.0 127.8,280.9 126.8,280.7 125.8,280.4 124.8,280.0 124.1,279.5 123.5,278.8 123.0,278.1 122.6,277.1 122.4,276.1 122.4,275.1 122.6,274.0 123.0,273.1 123.5,272.4 124.1,271.7 125.0,271.1 126.3,270.6 127.8,270.3 129.5,270.2 131.1,270.4 132.5,270.8 133.7,271.4 134.6,272.2 135.2,273.1 135.5,273.7 135.7,274.4 135.8,275.8 135.6,277.1 135.4,277.8 135.1,278.4 134.6,278.9 134.2,279.4 133.1,280.1 131.8,280.6 130.2,280.9" fill="none" stroke="#76d153" stroke-width="0.75"/>
<polyline points="129.5,280.6 128.3,280.6 127.2,280.4 126.2,280.1 125.3,279.7 124.5,279.2 123.9,278.6 123.4,277.9 123.1,277.1 122.9,276.2 122.9,275.2 123.0,274.3 123.4,273.4 123.8,272.6 124.5,271.9 125.3,271.4 126.3,271.0 127.7,270.7 129.2,270.6 130.6,270.7 131.9,271.0 132.9,271.5 133.9,272.2 134.6,273.0 135.1,274.0 135.3,275.2 135.3,276.6 134.9,277.7 134.3,278.6 133.5,279.4 132.3,280.0 131.0,280.4 129.5,280.6" fill="none" stroke="#9bd12e" stroke-width="0.75"/>
<polyline points="130.2,280.2 129.2,280.2 128.1,280.2 127.2,280.0 126.3,279.8 125.6,279.4 124.9,278.9 124.3,278.4 123.9,277.8 123.5,277.0 123.3,276.1 123.3,275.2 123.5,274.3 123.8,273.6 124.3,272.8 125.0,272.2 125.6,271.8 126.7,271.3 128.0,271.0 129.5,271.0 130.8,271.1 132.1,271.5 133.0,272.1 133.8,272.8 134.4,273.6 134.8,274.6 134.9,275.8 134.7,276.9 134.2,277.9 133.6,278.7 132.6,279.4 131.6,279.9 130.2,280.2" fill="none" stroke="#bdd10c" stroke-width="0.75"/>
<polyline points="130.6,279.7 129.6,279.8 128.8,279.8 127.8,279.7 127.0,279.5 126.2,279.2 125.5,278.8 124.9,278.4 124.4,277.8 124.0,277.0 123.8,276.2 123.8,275.5 123.9,274.8 124.1,274.0 124.5,273.4 125.0,272.8 125.5,272.4 126.5,271.8 127.5,271.5 128.8,271.4 130.1,271.4 131.1,271.6 132.2,272.1 133.1,272.6 133.7,273.4 134.2,274.3 134.4,275.4 134.3,276.4 134.0,277.4 133.4,278.2 132.6,278.9 131.6,279.4 130.6,279.7" fill="none" stroke="#d1ad00" stroke-width="0.75"/>
<polyline points="129.8,279.4 128.9,279.4 128.1,279.4 127.4,279.2 126.6,278.9 126.0,278.6 125.5,278.2 124.9,277.6 124.6,277.0 124.4,276.4 124.3,275.6 124.4,274.9 124.5,274.3 124.9,273.7 125.4,273.1 125.9,272.6 126.6,272.2 127.7,271.9 128.8,271.8 129.8,271.8 130.8,272.0 131.8,272.3 132.5,272.8 133.1,273.4 133.6,274.1 133.9,275.1 133.9,275.9 133.7,276.9 133.3,277.6 132.6,278.3 131.9,278.8 130.8,279.2 129.8,279.4" fill="none" stroke="#cd740d" stroke-width="0.75"/>
<polyline points="129.8,279.0 129.1,279.0 128.3,278.9 127.6,278.8 127.0,278.6 126.3,278.2 125.9,277.9 125.5,277.4 125.1,276.9 124.9,276.2 124.8,275.6 124.9,275.1 125.1,274.4 125.4,273.9 125.8,273.4 126.3,272.9 126.9,272.6 127.8,272.4 128.8,272.2 129.6,272.2 130.6,272.4 131.3,272.6 132.1,273.1 132.6,273.7 133.1,274.3 133.3,275.1 133.3,275.8 133.2,276.6 132.8,277.3 132.3,277.9 131.6,278.4 130.7,278.8 129.8,279.0" fill="none" stroke="#cd5c0d" stroke-width="0.75"/>
<polyline points="129.5,278.5 128.8,278.5 128.1,278.4 127.1,278.1 126.5,277.7 126.1,277.3 125.8,276.9 125.6,276.4 125.5,275.9 125.5,275.4 125.6,274.8 125.8,274.3 126.1,273.9 126.5,273.5 127.0,273.2 127.5,272.9 128.3,272.7 129.1,272.7 129.9,272.8 130.7,272.9 131.3,273.2 131.9,273.7 132.3,274.1 132.6,274.8 132.7,275.4 132.7,276.1 132.5,276.7 132.1,277.3 131.6,277.8 131.0,278.1 130.2,278.4 129.5,278.5" fill="none" stroke="#cd470d" stroke-width="0.75"/>
<polyline points="129.8,277.9 128.8,277.9 127.8,277.8 127.0,277.3 126.5,276.7 126.2,275.9 126.1,275.5 126.2,275.1 126.6,274.3 127.3,273.7 127.8,273.4 128.4,273.3 129.2,273.2 129.8,273.3 130.4,273.5 131.0,273.8 131.5,274.1 131.8,274.6 132.0,275.1 132.1,275.6 131.9,276.2 131.8,276.7 131.4,277.1 131.0,277.4 130.4,277.7 129.8,277.9" fill="none" stroke="#c82f0d" stroke-width="0.75"/>
<polyline points="129.8,277.2 129.2,277.3 128.4,277.2 127.8,276.9 127.4,276.6 127.1,276.1 127.0,275.5 127.2,274.9 127.6,274.4 128.0,274.2 128.4,274.0 129.3,274.0 129.8,274.0 130.2,274.2 130.8,274.7 131.2,275.4 131.2,275.8 131.1,276.1 130.7,276.7 130.2,277.0 129.8,277.2" fill="none" stroke="#ae2a0d" stroke-width="0.75"/>
<ellipse cx="129.10" cy="275.60" rx="1.1" ry="0.9" fill="#eab090"/>
<rect x="50.00" y="208.00" width="157.30" height="128.10" fill="none" stroke="#8e8e8e" stroke-width="1.5"/>
<line x1="50.00" y1="336.10" x2="50.00" y2="334.30" stroke="#606060" stroke-width="1"/>
<line x1="50.00" y1="208.00" x2="50.00" y2="209.80" stroke="#606060" stroke-width="1"/>
<text x="50.20" y="349.20" font-family="Liberation Sans" font-size="12.8" text-anchor="middle" font-weight="normal" fill="#0a0a0a" stroke="#0a0a0a" stroke-width="0.2" letter-spacing="0.35">1000</text>
<line x1="128.50" y1="336.10" x2="128.50" y2="334.30" stroke="#606060" stroke-width="1"/>
<line x1="128.50" y1="208.00" x2="128.50" y2="209.80" stroke="#606060" stroke-width="1"/>
<text x="128.70" y="349.20" font-family="Liberation Sans" font-size="12.8" text-anchor="middle" font-weight="normal" fill="#0a0a0a" stroke="#0a0a0a" stroke-width="0.2" letter-spacing="0.35">1200</text>
<line x1="207.00" y1="336.10" x2="207.00" y2="334.30" stroke="#606060" stroke-width="1"/>
<line x1="207.00" y1="208.00" x2="207.00" y2="209.80" stroke="#606060" stroke-width="1"/>
<text x="207.20" y="349.20" font-family="Liberation Sans" font-size="12.8" text-anchor="middle" font-weight="normal" fill="#0a0a0a" stroke="#0a0a0a" stroke-width="0.2" letter-spacing="0.35">1400</text>
<line x1="50.00" y1="323.40" x2="51.80" y2="323.40" stroke="#606060" stroke-width="1"/>
<line x1="207.30" y1="323.40" x2="205.50" y2="323.40" stroke="#606060" stroke-width="1"/>
<text x="48.10" y="328.00" font-family="Liberation Sans" font-size="12.8" text-anchor="end" font-weight="normal" fill="#0a0a0a" stroke="#0a0a0a" stroke-width="0.2" letter-spacing="0.35">1000</text>
<line x1="50.00" y1="297.52" x2="51.80" y2="297.52" stroke="#606060" stroke-width="1"/>
<line x1="207.30" y1="297.52" x2="205.50" y2="297.52" stroke="#606060" stroke-width="1"/>
<text x="48.10" y="302.12" font-family="Liberation Sans" font-size="12.8" text-anchor="end" font-weight="normal" fill="#0a0a0a" stroke="#0a0a0a" stroke-width="0.2" letter-spacing="0.35">1100</text>
<line x1="50.00" y1="271.65" x2="51.80" y2="271.65" stroke="#606060" stroke-width="1"/>
<line x1="207.30" y1="271.65" x2="205.50" y2="271.65" stroke="#606060" stroke-width="1"/>
<text x="48.10" y="276.25" font-family="Liberation Sans" font-size="12.8" text-anchor="end" font-weight="normal" fill="#0a0a0a" stroke="#0a0a0a" stroke-width="0.2" letter-spacing="0.35">1200</text>
<line x1="50.00" y1="245.77" x2="51.80" y2="245.77" stroke="#606060" stroke-width="1"/>
<line x1="207.30" y1="245.77" x2="205.50" y2="245.77" stroke="#606060" stroke-width="1"/>
<text x="48.10" y="250.37" font-family="Liberation Sans" font-size="12.8" text-anchor="end" font-weight="normal" fill="#0a0a0a" stroke="#0a0a0a" stroke-width="0.2" letter-spacing="0.35">1300</text>
<line x1="50.00" y1="219.90" x2="51.80" y2="219.90" stroke="#606060" stroke-width="1"/>
<line x1="207.30" y1="219.90" x2="205.50" y2="219.90" stroke="#606060" stroke-width="1"/>
<text x="48.10" y="224.50" font-family="Liberation Sans" font-size="12.8" text-anchor="end" font-weight="normal" fill="#0a0a0a" stroke="#0a0a0a" stroke-width="0.2" letter-spacing="0.35">1400</text>
<text x="127.60" y="361.90" font-family="Liberation Sans" font-size="12.8" text-anchor="middle" font-weight="normal" fill="#0a0a0a" stroke="#0a0a0a" stroke-width="0.2" >Azimuth samples</text>
<text transform="translate(14.0,270.8) rotate(-90)" font-family="Liberation Sans" font-size="12.9" text-anchor="middle" fill="#0a0a0a" stroke="#0a0a0a" stroke-width="0.2">Range samples</text>
<text x="115.10" y="382.90" font-family="Liberation Serif" font-size="14.3" text-anchor="middle" font-weight="bold" fill="#0a0a0a" stroke="#0a0a0a" stroke-width="0.1" letter-spacing="0.5">(d)</text>
<clipPath id="cp258195"><rect x="258.1" y="207.9" width="177.39999999999998" height="135.80000000000004"/></clipPath>
<polyline clip-path="url(#cp258195)" points="258.0,343.5 258.1,343.0 258.2,342.6 258.3,342.1 258.4,341.7 258.5,341.4 258.6,341.1 258.7,340.8 258.9,340.5 259.0,340.3 259.1,340.1 259.2,339.9 259.3,339.8 259.4,339.6 259.5,339.6 259.6,339.5 259.7,339.5 259.9,339.5 260.0,339.5 260.1,339.6 260.2,339.6 260.3,339.8 260.4,339.9 260.5,340.1 260.6,340.3 260.7,340.5 260.8,340.8 261.0,341.1 261.1,341.4 261.2,341.8 261.3,342.2 261.4,342.6 261.5,343.1 261.6,343.6 261.7,344.2 261.8,344.8 262.0,345.5 262.1,346.2 262.2,346.5 262.3,346.5 262.4,346.5 262.5,346.5 262.6,346.5 262.7,346.5 262.8,346.5 262.9,346.5 263.1,346.5 263.2,346.5 263.3,346.5 263.4,346.5 263.5,346.5 263.6,346.5 263.7,346.5 263.8,346.5 263.9,346.5 264.1,346.5 264.2,346.5 264.3,346.5 264.4,346.5 264.5,346.5 264.6,346.5 264.7,346.5 264.8,346.5 264.9,346.5 265.1,346.5 265.2,346.5 265.3,346.5 265.4,346.5 265.5,346.5 265.6,346.5 265.7,346.5 265.8,346.5 265.9,346.5 266.0,346.5 266.2,346.5 266.3,346.5 266.4,346.5 266.5,346.5 266.6,346.5 266.7,346.5 266.8,346.5 266.9,346.5 267.0,346.5 267.2,346.5 267.3,346.3 267.4,345.4 267.5,344.6 267.6,343.8 267.7,343.1 267.8,342.4 267.9,341.8 268.0,341.2 268.2,340.6 268.3,340.1 268.4,339.7 268.5,339.2 268.6,338.8 268.7,338.4 268.8,338.1 268.9,337.8 269.0,337.5 269.1,337.3 269.3,337.1 269.4,336.9 269.5,336.7 269.6,336.6 269.7,336.5 269.8,336.4 269.9,336.4 270.0,336.4 270.1,336.4 270.3,336.4 270.4,336.5 270.5,336.6 270.6,336.8 270.7,336.9 270.8,337.1 270.9,337.3 271.0,337.6 271.1,337.9 271.2,338.2 271.4,338.5 271.5,338.9 271.6,339.4 271.7,339.8 271.8,340.3 271.9,340.9 272.0,341.5 272.1,342.1 272.2,342.8 272.4,343.5 272.5,344.3 272.6,345.1 272.7,346.0 272.8,346.5 272.9,346.5 273.0,346.5 273.1,346.5 273.2,346.5 273.4,346.5 273.5,346.5 273.6,346.5 273.7,346.5 273.8,346.5 273.9,346.5 274.0,346.5 274.1,346.5 274.2,346.5 274.3,346.5 274.5,346.5 274.6,346.5 274.7,346.5 274.8,346.5 274.9,346.5 275.0,346.5 275.1,346.5 275.2,346.5 275.3,346.5 275.5,346.5 275.6,346.5 275.7,346.5 275.8,346.5 275.9,346.5 276.0,346.5 276.1,346.5 276.2,346.5 276.3,346.5 276.5,346.5 276.6,346.5 276.7,346.5 276.8,346.5 276.9,346.5 277.0,346.5 277.1,346.3 277.2,345.2 277.3,344.1 277.4,343.2 277.6,342.3 277.7,341.4 277.8,340.6 277.9,339.9 278.0,339.2 278.1,338.6 278.2,337.9 278.3,337.4 278.4,336.8 278.6,336.4 278.7,335.9 278.8,335.5 278.9,335.1 279.0,334.7 279.1,334.4 279.2,334.1 279.3,333.9 279.4,333.6 279.5,333.4 279.7,333.3 279.8,333.1 279.9,333.0 280.0,332.9 280.1,332.9 280.2,332.9 280.3,332.9 280.4,332.9 280.5,332.9 280.7,333.0 280.8,333.2 280.9,333.3 281.0,333.5 281.1,333.7 281.2,333.9 281.3,334.2 281.4,334.5 281.5,334.8 281.7,335.2 281.8,335.6 281.9,336.1 282.0,336.5 282.1,337.1 282.2,337.6 282.3,338.3 282.4,338.9 282.5,339.6 282.6,340.4 282.8,341.2 282.9,342.1 283.0,343.0 283.1,344.1 283.2,345.1 283.3,346.3 283.4,346.5 283.5,346.5 283.6,346.5 283.8,346.5 283.9,346.5 284.0,346.5 284.1,346.5 284.2,346.5 284.3,346.5 284.4,346.5 284.5,346.5 284.6,346.5 284.8,346.5 284.9,346.5 285.0,346.5 285.1,346.5 285.2,346.5 285.3,346.5 285.4,346.5 285.5,346.5 285.6,346.5 285.7,346.5 285.9,346.5 286.0,346.5 286.1,346.5 286.2,346.5 286.3,346.5 286.4,346.5 286.5,346.5 286.6,346.5 286.7,346.5 286.9,346.5 287.0,346.5 287.1,345.2 287.2,343.9 287.3,342.7 287.4,341.6 287.5,340.5 287.6,339.5 287.7,338.6 287.8,337.7 288.0,336.9 288.1,336.2 288.2,335.4 288.3,334.8 288.4,334.1 288.5,333.6 288.6,333.0 288.7,332.5 288.8,332.0 289.0,331.6 289.1,331.2 289.2,330.8 289.3,330.5 289.4,330.2 289.5,329.9 289.6,329.6 289.7,329.4 289.8,329.2 290.0,329.1 290.1,329.0 290.2,328.9 290.3,328.8 290.4,328.7 290.5,328.7 290.6,328.7 290.7,328.8 290.8,328.9 290.9,329.0 291.1,329.1 291.2,329.2 291.3,329.4 291.4,329.7 291.5,329.9 291.6,330.2 291.7,330.5 291.8,330.9 291.9,331.3 292.1,331.7 292.2,332.2 292.3,332.7 292.4,333.2 292.5,333.8 292.6,334.4 292.7,335.1 292.8,335.9 292.9,336.7 293.1,337.5 293.2,338.4 293.3,339.4 293.4,340.5 293.5,341.6 293.6,342.9 293.7,344.2 293.8,345.6 293.9,346.5 294.0,346.5 294.2,346.5 294.3,346.5 294.4,346.5 294.5,346.5 294.6,346.5 294.7,346.5 294.8,346.5 294.9,346.5 295.0,346.5 295.2,346.5 295.3,346.5 295.4,346.5 295.5,346.5 295.6,346.5 295.7,346.5 295.8,346.5 295.9,346.5 296.0,346.5 296.1,346.5 296.3,346.5 296.4,346.5 296.5,346.5 296.6,346.5 296.7,346.5 296.8,346.5 296.9,345.6 297.0,344.0 297.1,342.4 297.3,341.0 297.4,339.7 297.5,338.4 297.6,337.2 297.7,336.2 297.8,335.1 297.9,334.2 298.0,333.3 298.1,332.4 298.3,331.7 298.4,330.9 298.5,330.2 298.6,329.6 298.7,329.0 298.8,328.4 298.9,327.9 299.0,327.4 299.1,326.9 299.2,326.5 299.4,326.1 299.5,325.7 299.6,325.4 299.7,325.1 299.8,324.8 299.9,324.6 300.0,324.4 300.1,324.2 300.2,324.1 300.4,324.0 300.5,323.9 300.6,323.8 300.7,323.8 300.8,323.8 300.9,323.8 301.0,323.8 301.1,323.9 301.2,324.0 301.3,324.2 301.5,324.3 301.6,324.5 301.7,324.8 301.8,325.0 301.9,325.3 302.0,325.7 302.1,326.0 302.2,326.4 302.3,326.9 302.5,327.4 302.6,327.9 302.7,328.4 302.8,329.1 302.9,329.7 303.0,330.4 303.1,331.2 303.2,332.0 303.3,332.9 303.5,333.9 303.6,334.9 303.7,336.0 303.8,337.2 303.9,338.5 304.0,339.9 304.1,341.4 304.2,343.1 304.3,344.9 304.4,346.5 304.6,346.5 304.7,346.5 304.8,346.5 304.9,346.5 305.0,346.5 305.1,346.5 305.2,346.5 305.3,346.5 305.4,346.5 305.6,346.5 305.7,346.5 305.8,346.5 305.9,346.5 306.0,346.5 306.1,346.5 306.2,346.5 306.3,346.5 306.4,346.5 306.6,346.5 306.7,346.5 306.8,346.5 306.9,344.4 307.0,342.4 307.1,340.5 307.2,338.8 307.3,337.2 307.4,335.7 307.5,334.3 307.7,333.0 307.8,331.8 307.9,330.7 308.0,329.6 308.1,328.7 308.2,327.7 308.3,326.9 308.4,326.0 308.5,325.3 308.7,324.5 308.8,323.9 308.9,323.2 309.0,322.6 309.1,322.1 309.2,321.6 309.3,321.1 309.4,320.6 309.5,320.2 309.6,319.8 309.8,319.5 309.9,319.1 310.0,318.8 310.1,318.6 310.2,318.4 310.3,318.2 310.4,318.0 310.5,317.8 310.6,317.7 310.8,317.6 310.9,317.6 311.0,317.5 311.1,317.5 311.2,317.6 311.3,317.6 311.4,317.7 311.5,317.8 311.6,318.0 311.8,318.1 311.9,318.3 312.0,318.6 312.1,318.8 312.2,319.1 312.3,319.5 312.4,319.9 312.5,320.3 312.6,320.7 312.7,321.2 312.9,321.7 313.0,322.3 313.1,322.9 313.2,323.6 313.3,324.3 313.4,325.1 313.5,326.0 313.6,326.9 313.7,327.9 313.9,328.9 314.0,330.1 314.1,331.3 314.2,332.7 314.3,334.1 314.4,335.7 314.5,337.5 314.6,339.4 314.7,341.6 314.9,344.0 315.0,346.5 315.1,346.5 315.2,346.5 315.3,346.5 315.4,346.5 315.5,346.5 315.6,346.5 315.7,346.5 315.8,346.5 316.0,346.5 316.1,346.5 316.2,346.5 316.3,346.5 316.4,346.5 316.5,346.5 316.6,346.5 316.7,345.7 316.8,342.8 317.0,340.1 317.1,337.8 317.2,335.6 317.3,333.7 317.4,331.9 317.5,330.2 317.6,328.7 317.7,327.3 317.8,325.9 317.9,324.7 318.1,323.5 318.2,322.4 318.3,321.4 318.4,320.4 318.5,319.5 318.6,318.6 318.7,317.8 318.8,317.0 318.9,316.3 319.1,315.6 319.2,315.0 319.3,314.4 319.4,313.8 319.5,313.3 319.6,312.8 319.7,312.4 319.8,311.9 319.9,311.6 320.1,311.2 320.2,310.9 320.3,310.6 320.4,310.3 320.5,310.1 320.6,309.8 320.7,309.7 320.8,309.5 320.9,309.4 321.0,309.3 321.2,309.2 321.3,309.2 321.4,309.1 321.5,309.2 321.6,309.2 321.7,309.3 321.8,309.4 321.9,309.5 322.0,309.7 322.2,309.9 322.3,310.1 322.4,310.4 322.5,310.6 322.6,311.0 322.7,311.3 322.8,311.7 322.9,312.2 323.0,312.7 323.2,313.2 323.3,313.8 323.4,314.4 323.5,315.1 323.6,315.8 323.7,316.6 323.8,317.4 323.9,318.4 324.0,319.4 324.1,320.4 324.3,321.6 324.4,322.9 324.5,324.3 324.6,325.8 324.7,327.5 324.8,329.3 324.9,331.3 325.0,333.6 325.1,336.2 325.3,339.1 325.4,342.5 325.5,346.5 325.6,346.5 325.7,346.5 325.8,346.5 325.9,346.5 326.0,346.5 326.1,346.5 326.2,346.5 326.4,346.5 326.5,346.5 326.6,346.5 326.7,344.0 326.8,339.9 326.9,336.3 327.0,333.2 327.1,330.5 327.2,328.0 327.4,325.8 327.5,323.7 327.6,321.8 327.7,320.0 327.8,318.4 327.9,316.9 328.0,315.5 328.1,314.1 328.2,312.9 328.4,311.7 328.5,310.6 328.6,309.6 328.7,308.6 328.8,307.6 328.9,306.8 329.0,305.9 329.1,305.1 329.2,304.4 329.3,303.7 329.5,303.0 329.6,302.4 329.7,301.8 329.8,301.2 329.9,300.7 330.0,300.2 330.1,299.7 330.2,299.3 330.3,298.9 330.5,298.5 330.6,298.2 330.7,297.9 330.8,297.6 330.9,297.3 331.0,297.1 331.1,296.9 331.2,296.7 331.3,296.5 331.4,296.4 331.6,296.3 331.7,296.3 331.8,296.2 331.9,296.2 332.0,296.2 332.1,296.3 332.2,296.3 332.3,296.4 332.4,296.6 332.6,296.7 332.7,296.9 332.8,297.2 332.9,297.4 333.0,297.7 333.1,298.1 333.2,298.5 333.3,298.9 333.4,299.4 333.6,299.9 333.7,300.4 333.8,301.1 333.9,301.7 334.0,302.5 334.1,303.3 334.2,304.2 334.3,305.1 334.4,306.1 334.5,307.3 334.7,308.5 334.8,309.9 334.9,311.4 335.0,313.1 335.1,314.9 335.2,317.0 335.3,319.4 335.4,322.0 335.5,325.2 335.7,328.8 335.8,333.3 335.9,338.9 336.0,346.4 336.1,346.5 336.2,346.5 336.3,346.5 336.4,346.5 336.5,346.5 336.7,339.7 336.8,333.0 336.9,327.6 337.0,323.1 337.1,319.3 337.2,315.9 337.3,312.9 337.4,310.2 337.5,307.7 337.6,305.4 337.8,303.3 337.9,301.3 338.0,299.5 338.1,297.8 338.2,296.1 338.3,294.6 338.4,293.1 338.5,291.8 338.6,290.4 338.8,289.2 338.9,288.0 339.0,286.8 339.1,285.7 339.2,284.6 339.3,283.6 339.4,282.6 339.5,281.7 339.6,280.8 339.7,279.9 339.9,279.0 340.0,278.2 340.1,277.4 340.2,276.6 340.3,275.9 340.4,275.2 340.5,274.5 340.6,273.8 340.7,273.1 340.9,272.5 341.0,271.9 341.1,271.3 341.2,270.7 341.3,270.2 341.4,269.6 341.5,269.1 341.6,268.6 341.7,268.1 341.9,267.6 342.0,267.2 342.1,266.7 342.2,266.3 342.3,265.9 342.4,265.5 342.5,265.1 342.6,264.7 342.7,264.4 342.8,264.0 343.0,263.7 343.1,263.4 343.2,263.0 343.3,262.7 343.4,262.4 343.5,262.2 343.6,261.9 343.7,261.6 343.8,261.4 344.0,261.2 344.1,260.9 344.2,260.7 344.3,260.5 344.4,260.3 344.5,260.2 344.6,260.0 344.7,259.8 344.8,259.7 345.0,259.5 345.1,259.4 345.2,259.3 345.3,259.2 345.4,259.1 345.5,259.0 345.6,258.9 345.7,258.8 345.8,258.8 345.9,258.7 346.1,258.7 346.2,258.6 346.3,258.6 346.4,258.6 346.5,258.6 346.6,258.6 346.7,258.6 346.8,258.6 346.9,258.7 347.1,258.7 347.2,258.8 347.3,258.8 347.4,258.9 347.5,259.0 347.6,259.1 347.7,259.2 347.8,259.3 347.9,259.4 348.0,259.5 348.2,259.7 348.3,259.8 348.4,260.0 348.5,260.2 348.6,260.3 348.7,260.5 348.8,260.7 348.9,260.9 349.0,261.2 349.2,261.4 349.3,261.6 349.4,261.9 349.5,262.2 349.6,262.4 349.7,262.7 349.8,263.0 349.9,263.4 350.0,263.7 350.2,264.0 350.3,264.4 350.4,264.7 350.5,265.1 350.6,265.5 350.7,265.9 350.8,266.3 350.9,266.7 351.0,267.2 351.1,267.6 351.3,268.1 351.4,268.6 351.5,269.1 351.6,269.6 351.7,270.2 351.8,270.7 351.9,271.3 352.0,271.9 352.1,272.5 352.3,273.1 352.4,273.8 352.5,274.5 352.6,275.2 352.7,275.9 352.8,276.6 352.9,277.4 353.0,278.2 353.1,279.0 353.3,279.9 353.4,280.8 353.5,281.7 353.6,282.6 353.7,283.6 353.8,284.6 353.9,285.7 354.0,286.8 354.1,288.0 354.2,289.2 354.4,290.4 354.5,291.8 354.6,293.1 354.7,294.6 354.8,296.1 354.9,297.8 355.0,299.5 355.1,301.3 355.2,303.3 355.4,305.4 355.5,307.7 355.6,310.2 355.7,312.9 355.8,315.9 355.9,319.3 356.0,323.1 356.1,327.6 356.2,333.0 356.3,339.7 356.5,346.5 356.6,346.5 356.7,346.5 356.8,346.5 356.9,346.5 357.0,346.4 357.1,338.9 357.2,333.3 357.3,328.8 357.5,325.2 357.6,322.0 357.7,319.4 357.8,317.0 357.9,314.9 358.0,313.1 358.1,311.4 358.2,309.9 358.3,308.5 358.5,307.3 358.6,306.1 358.7,305.1 358.8,304.2 358.9,303.3 359.0,302.5 359.1,301.7 359.2,301.1 359.3,300.4 359.4,299.9 359.6,299.4 359.7,298.9 359.8,298.5 359.9,298.1 360.0,297.7 360.1,297.4 360.2,297.2 360.3,296.9 360.4,296.7 360.6,296.6 360.7,296.4 360.8,296.3 360.9,296.3 361.0,296.2 361.1,296.2 361.2,296.2 361.3,296.3 361.4,296.3 361.6,296.4 361.7,296.5 361.8,296.7 361.9,296.9 362.0,297.1 362.1,297.3 362.2,297.6 362.3,297.9 362.4,298.2 362.5,298.5 362.7,298.9 362.8,299.3 362.9,299.7 363.0,300.2 363.1,300.7 363.2,301.2 363.3,301.8 363.4,302.4 363.5,303.0 363.7,303.7 363.8,304.4 363.9,305.1 364.0,305.9 364.1,306.8 364.2,307.6 364.3,308.6 364.4,309.6 364.5,310.6 364.6,311.7 364.8,312.9 364.9,314.1 365.0,315.5 365.1,316.9 365.2,318.4 365.3,320.0 365.4,321.8 365.5,323.7 365.6,325.8 365.8,328.0 365.9,330.5 366.0,333.2 366.1,336.3 366.2,339.9 366.3,344.0 366.4,346.5 366.5,346.5 366.6,346.5 366.8,346.5 366.9,346.5 367.0,346.5 367.1,346.5 367.2,346.5 367.3,346.5 367.4,346.5 367.5,346.5 367.6,342.5 367.7,339.1 367.9,336.2 368.0,333.6 368.1,331.3 368.2,329.3 368.3,327.5 368.4,325.8 368.5,324.3 368.6,322.9 368.7,321.6 368.9,320.4 369.0,319.4 369.1,318.4 369.2,317.4 369.3,316.6 369.4,315.8 369.5,315.1 369.6,314.4 369.7,313.8 369.8,313.2 370.0,312.7 370.1,312.2 370.2,311.7 370.3,311.3 370.4,311.0 370.5,310.6 370.6,310.4 370.7,310.1 370.8,309.9 371.0,309.7 371.1,309.5 371.2,309.4 371.3,309.3 371.4,309.2 371.5,309.2 371.6,309.1 371.7,309.2 371.8,309.2 372.0,309.3 372.1,309.4 372.2,309.5 372.3,309.7 372.4,309.8 372.5,310.1 372.6,310.3 372.7,310.6 372.8,310.9 372.9,311.2 373.1,311.6 373.2,311.9 373.3,312.4 373.4,312.8 373.5,313.3 373.6,313.8 373.7,314.4 373.8,315.0 373.9,315.6 374.1,316.3 374.2,317.0 374.3,317.8 374.4,318.6 374.5,319.5 374.6,320.4 374.7,321.4 374.8,322.4 374.9,323.5 375.1,324.7 375.2,325.9 375.3,327.3 375.4,328.7 375.5,330.2 375.6,331.9 375.7,333.7 375.8,335.6 375.9,337.8 376.0,340.1 376.2,342.8 376.3,345.7 376.4,346.5 376.5,346.5 376.6,346.5 376.7,346.5 376.8,346.5 376.9,346.5 377.0,346.5 377.2,346.5 377.3,346.5 377.4,346.5 377.5,346.5 377.6,346.5 377.7,346.5 377.8,346.5 377.9,346.5 378.0,346.5 378.1,344.0 378.3,341.6 378.4,339.4 378.5,337.5 378.6,335.7 378.7,334.1 378.8,332.7 378.9,331.3 379.0,330.1 379.1,328.9 379.3,327.9 379.4,326.9 379.5,326.0 379.6,325.1 379.7,324.3 379.8,323.6 379.9,322.9 380.0,322.3 380.1,321.7 380.3,321.2 380.4,320.7 380.5,320.3 380.6,319.9 380.7,319.5 380.8,319.1 380.9,318.8 381.0,318.6 381.1,318.3 381.2,318.1 381.4,318.0 381.5,317.8 381.6,317.7 381.7,317.6 381.8,317.6 381.9,317.5 382.0,317.5 382.1,317.6 382.2,317.6 382.4,317.7 382.5,317.8 382.6,318.0 382.7,318.2 382.8,318.4 382.9,318.6 383.0,318.8 383.1,319.1 383.2,319.5 383.4,319.8 383.5,320.2 383.6,320.6 383.7,321.1 383.8,321.6 383.9,322.1 384.0,322.6 384.1,323.2 384.2,323.9 384.3,324.5 384.5,325.3 384.6,326.0 384.7,326.9 384.8,327.7 384.9,328.7 385.0,329.6 385.1,330.7 385.2,331.8 385.3,333.0 385.5,334.3 385.6,335.7 385.7,337.2 385.8,338.8 385.9,340.5 386.0,342.4 386.1,344.4 386.2,346.5 386.3,346.5 386.4,346.5 386.6,346.5 386.7,346.5 386.8,346.5 386.9,346.5 387.0,346.5 387.1,346.5 387.2,346.5 387.3,346.5 387.4,346.5 387.6,346.5 387.7,346.5 387.8,346.5 387.9,346.5 388.0,346.5 388.1,346.5 388.2,346.5 388.3,346.5 388.4,346.5 388.6,346.5 388.7,344.9 388.8,343.1 388.9,341.4 389.0,339.9 389.1,338.5 389.2,337.2 389.3,336.0 389.4,334.9 389.5,333.9 389.7,332.9 389.8,332.0 389.9,331.2 390.0,330.4 390.1,329.7 390.2,329.1 390.3,328.4 390.4,327.9 390.5,327.4 390.7,326.9 390.8,326.4 390.9,326.0 391.0,325.7 391.1,325.3 391.2,325.0 391.3,324.8 391.4,324.5 391.5,324.3 391.7,324.2 391.8,324.0 391.9,323.9 392.0,323.8 392.1,323.8 392.2,323.8 392.3,323.8 392.4,323.8 392.5,323.9 392.6,324.0 392.8,324.1 392.9,324.2 393.0,324.4 393.1,324.6 393.2,324.8 393.3,325.1 393.4,325.4 393.5,325.7 393.6,326.1 393.8,326.5 393.9,326.9 394.0,327.4 394.1,327.9 394.2,328.4 394.3,329.0 394.4,329.6 394.5,330.2 394.6,330.9 394.7,331.7 394.9,332.4 395.0,333.3 395.1,334.2 395.2,335.1 395.3,336.2 395.4,337.2 395.5,338.4 395.6,339.7 395.7,341.0 395.9,342.4 396.0,344.0 396.1,345.6 396.2,346.5 396.3,346.5 396.4,346.5 396.5,346.5 396.6,346.5 396.7,346.5 396.9,346.5 397.0,346.5 397.1,346.5 397.2,346.5 397.3,346.5 397.4,346.5 397.5,346.5 397.6,346.5 397.7,346.5 397.8,346.5 398.0,346.5 398.1,346.5 398.2,346.5 398.3,346.5 398.4,346.5 398.5,346.5 398.6,346.5 398.7,346.5 398.8,346.5 399.0,346.5 399.1,346.5 399.2,345.6 399.3,344.2 399.4,342.9 399.5,341.6 399.6,340.5 399.7,339.4 399.8,338.4 399.9,337.5 400.1,336.7 400.2,335.9 400.3,335.1 400.4,334.4 400.5,333.8 400.6,333.2 400.7,332.7 400.8,332.2 400.9,331.7 401.1,331.3 401.2,330.9 401.3,330.5 401.4,330.2 401.5,329.9 401.6,329.7 401.7,329.4 401.8,329.2 401.9,329.1 402.1,329.0 402.2,328.9 402.3,328.8 402.4,328.7 402.5,328.7 402.6,328.7 402.7,328.8 402.8,328.9 402.9,329.0 403.0,329.1 403.2,329.2 403.3,329.4 403.4,329.6 403.5,329.9 403.6,330.2 403.7,330.5 403.8,330.8 403.9,331.2 404.0,331.6 404.2,332.0 404.3,332.5 404.4,333.0 404.5,333.6 404.6,334.1 404.7,334.8 404.8,335.4 404.9,336.2 405.0,336.9 405.2,337.7 405.3,338.6 405.4,339.5 405.5,340.5 405.6,341.6 405.7,342.7 405.8,343.9 405.9,345.2 406.0,346.5 406.1,346.5 406.3,346.5 406.4,346.5 406.5,346.5 406.6,346.5 406.7,346.5 406.8,346.5 406.9,346.5 407.0,346.5 407.1,346.5 407.3,346.5 407.4,346.5 407.5,346.5 407.6,346.5 407.7,346.5 407.8,346.5 407.9,346.5 408.0,346.5 408.1,346.5 408.2,346.5 408.4,346.5 408.5,346.5 408.6,346.5 408.7,346.5 408.8,346.5 408.9,346.5 409.0,346.5 409.1,346.5 409.2,346.5 409.4,346.5 409.5,346.5 409.6,346.5 409.7,346.3 409.8,345.1 409.9,344.1 410.0,343.0 410.1,342.1 410.2,341.2 410.4,340.4 410.5,339.6 410.6,338.9 410.7,338.3 410.8,337.6 410.9,337.1 411.0,336.5 411.1,336.1 411.2,335.6 411.3,335.2 411.5,334.8 411.6,334.5 411.7,334.2 411.8,333.9 411.9,333.7 412.0,333.5 412.1,333.3 412.2,333.2 412.3,333.0 412.5,332.9 412.6,332.9 412.7,332.9 412.8,332.9 412.9,332.9 413.0,332.9 413.1,333.0 413.2,333.1 413.3,333.3 413.5,333.4 413.6,333.6 413.7,333.9 413.8,334.1 413.9,334.4 414.0,334.7 414.1,335.1 414.2,335.5 414.3,335.9 414.4,336.4 414.6,336.8 414.7,337.4 414.8,337.9 414.9,338.6 415.0,339.2 415.1,339.9 415.2,340.6 415.3,341.4 415.4,342.3 415.6,343.2 415.7,344.1 415.8,345.2 415.9,346.3 416.0,346.5 416.1,346.5 416.2,346.5 416.3,346.5 416.4,346.5 416.5,346.5 416.7,346.5 416.8,346.5 416.9,346.5 417.0,346.5 417.1,346.5 417.2,346.5 417.3,346.5 417.4,346.5 417.5,346.5 417.7,346.5 417.8,346.5 417.9,346.5 418.0,346.5 418.1,346.5 418.2,346.5 418.3,346.5 418.4,346.5 418.5,346.5 418.7,346.5 418.8,346.5 418.9,346.5 419.0,346.5 419.1,346.5 419.2,346.5 419.3,346.5 419.4,346.5 419.5,346.5 419.6,346.5 419.8,346.5 419.9,346.5 420.0,346.5 420.1,346.5 420.2,346.5 420.3,346.0 420.4,345.1 420.5,344.3 420.6,343.5 420.8,342.8 420.9,342.1 421.0,341.5 421.1,340.9 421.2,340.3 421.3,339.8 421.4,339.4 421.5,338.9 421.6,338.5 421.8,338.2 421.9,337.9 422.0,337.6 422.1,337.3 422.2,337.1 422.3,336.9 422.4,336.8 422.5,336.6 422.6,336.5 422.7,336.4 422.9,336.4 423.0,336.4 423.1,336.4 423.2,336.4 423.3,336.5 423.4,336.6 423.5,336.7 423.6,336.9 423.7,337.1 423.9,337.3 424.0,337.5 424.1,337.8 424.2,338.1 424.3,338.4 424.4,338.8 424.5,339.2 424.6,339.7 424.7,340.1 424.8,340.6 425.0,341.2 425.1,341.8 425.2,342.4 425.3,343.1 425.4,343.8 425.5,344.6 425.6,345.4 425.7,346.3 425.8,346.5 426.0,346.5 426.1,346.5 426.2,346.5 426.3,346.5 426.4,346.5 426.5,346.5 426.6,346.5 426.7,346.5 426.8,346.5 427.0,346.5 427.1,346.5 427.2,346.5 427.3,346.5 427.4,346.5 427.5,346.5 427.6,346.5 427.7,346.5 427.8,346.5 427.9,346.5 428.1,346.5 428.2,346.5 428.3,346.5 428.4,346.5 428.5,346.5 428.6,346.5 428.7,346.5 428.8,346.5 428.9,346.5 429.1,346.5 429.2,346.5 429.3,346.5 429.4,346.5 429.5,346.5 429.6,346.5 429.7,346.5 429.8,346.5 429.9,346.5 430.1,346.5 430.2,346.5 430.3,346.5 430.4,346.5 430.5,346.5 430.6,346.5 430.7,346.5 430.8,346.5 430.9,346.2 431.0,345.5 431.2,344.8 431.3,344.2 431.4,343.6 431.5,343.1 431.6,342.6 431.7,342.2 431.8,341.8 431.9,341.4 432.0,341.1 432.2,340.8 432.3,340.5 432.4,340.3 432.5,340.1 432.6,339.9 432.7,339.8 432.8,339.6 432.9,339.6 433.0,339.5 433.1,339.5 433.3,339.5 433.4,339.5 433.5,339.6 433.6,339.6 433.7,339.8 433.8,339.9 433.9,340.1 434.0,340.3 434.1,340.5 434.3,340.8 434.4,341.1 434.5,341.4 434.6,341.7 434.7,342.1 434.8,342.6 434.9,343.0 435.0,343.5" fill="none" stroke="#28289a" stroke-width="1.1" stroke-linejoin="round"/>
<rect x="258.10" y="207.90" width="177.40" height="135.80" fill="none" stroke="#8e8e8e" stroke-width="1.5"/>
<line x1="278.40" y1="343.70" x2="278.40" y2="341.70" stroke="#606060" stroke-width="1"/>
<line x1="278.40" y1="207.90" x2="278.40" y2="209.90" stroke="#606060" stroke-width="1"/>
<text x="277.10" y="352.90" font-family="Liberation Sans" font-size="8.8" text-anchor="middle" font-weight="normal" fill="#0a0a0a" stroke="#0a0a0a" stroke-width="0.2" >-10</text>
<line x1="312.45" y1="343.70" x2="312.45" y2="341.70" stroke="#606060" stroke-width="1"/>
<line x1="312.45" y1="207.90" x2="312.45" y2="209.90" stroke="#606060" stroke-width="1"/>
<text x="311.15" y="352.90" font-family="Liberation Sans" font-size="8.8" text-anchor="middle" font-weight="normal" fill="#0a0a0a" stroke="#0a0a0a" stroke-width="0.2" >-5</text>
<line x1="346.50" y1="343.70" x2="346.50" y2="341.70" stroke="#606060" stroke-width="1"/>
<line x1="346.50" y1="207.90" x2="346.50" y2="209.90" stroke="#606060" stroke-width="1"/>
<text x="346.50" y="352.90" font-family="Liberation Sans" font-size="8.8" text-anchor="middle" font-weight="normal" fill="#0a0a0a" stroke="#0a0a0a" stroke-width="0.2" >0</text>
<line x1="380.55" y1="343.70" x2="380.55" y2="341.70" stroke="#606060" stroke-width="1"/>
<line x1="380.55" y1="207.90" x2="380.55" y2="209.90" stroke="#606060" stroke-width="1"/>
<text x="380.55" y="352.90" font-family="Liberation Sans" font-size="8.8" text-anchor="middle" font-weight="normal" fill="#0a0a0a" stroke="#0a0a0a" stroke-width="0.2" >5</text>
<line x1="414.60" y1="343.70" x2="414.60" y2="341.70" stroke="#606060" stroke-width="1"/>
<line x1="414.60" y1="207.90" x2="414.60" y2="209.90" stroke="#606060" stroke-width="1"/>
<text x="414.60" y="352.90" font-family="Liberation Sans" font-size="8.8" text-anchor="middle" font-weight="normal" fill="#0a0a0a" stroke="#0a0a0a" stroke-width="0.2" >10</text>
<line x1="258.10" y1="230.25" x2="260.10" y2="230.25" stroke="#606060" stroke-width="1"/>
<line x1="435.50" y1="230.25" x2="433.50" y2="230.25" stroke="#606060" stroke-width="1"/>
<text x="256.80" y="233.65" font-family="Liberation Sans" font-size="8.8" text-anchor="end" font-weight="normal" fill="#0a0a0a" stroke="#0a0a0a" stroke-width="0.2" >10</text>
<line x1="258.10" y1="258.60" x2="260.10" y2="258.60" stroke="#606060" stroke-width="1"/>
<line x1="435.50" y1="258.60" x2="433.50" y2="258.60" stroke="#606060" stroke-width="1"/>
<text x="256.80" y="262.00" font-family="Liberation Sans" font-size="8.8" text-anchor="end" font-weight="normal" fill="#0a0a0a" stroke="#0a0a0a" stroke-width="0.2" >0</text>
<line x1="258.10" y1="286.95" x2="260.10" y2="286.95" stroke="#606060" stroke-width="1"/>
<line x1="435.50" y1="286.95" x2="433.50" y2="286.95" stroke="#606060" stroke-width="1"/>
<text x="256.80" y="290.35" font-family="Liberation Sans" font-size="8.8" text-anchor="end" font-weight="normal" fill="#0a0a0a" stroke="#0a0a0a" stroke-width="0.2" >-10</text>
<line x1="258.10" y1="315.30" x2="260.10" y2="315.30" stroke="#606060" stroke-width="1"/>
<line x1="435.50" y1="315.30" x2="433.50" y2="315.30" stroke="#606060" stroke-width="1"/>
<text x="256.80" y="318.70" font-family="Liberation Sans" font-size="8.8" text-anchor="end" font-weight="normal" fill="#0a0a0a" stroke="#0a0a0a" stroke-width="0.2" >-20</text>
<line x1="258.10" y1="343.65" x2="260.10" y2="343.65" stroke="#606060" stroke-width="1"/>
<line x1="435.50" y1="343.65" x2="433.50" y2="343.65" stroke="#606060" stroke-width="1"/>
<text x="256.80" y="347.05" font-family="Liberation Sans" font-size="8.8" text-anchor="end" font-weight="normal" fill="#0a0a0a" stroke="#0a0a0a" stroke-width="0.2" >-30</text>
<text x="346.80" y="363.10" font-family="Liberation Sans" font-size="8.8" text-anchor="middle" font-weight="normal" fill="#0a0a0a" stroke="#0a0a0a" stroke-width="0.2" >Range samples</text>
<text transform="translate(239.10000000000002,276.20000000000005) rotate(-90)" font-family="Liberation Sans" font-size="8.8" text-anchor="middle" fill="#0a0a0a" stroke="#0a0a0a" stroke-width="0.2">Magnitude (dB)</text>
<text x="343.30" y="382.90" font-family="Liberation Serif" font-size="14.3" text-anchor="middle" font-weight="bold" fill="#0a0a0a" stroke="#0a0a0a" stroke-width="0.1" letter-spacing="0.5">(e)</text>
<clipPath id="cp486195"><rect x="486.7" y="207.8" width="176.8" height="135.8"/></clipPath>
<polyline clip-path="url(#cp486195)" points="486.6,346.5 486.7,346.5 486.8,346.5 486.9,346.5 487.0,346.5 487.1,346.5 487.2,346.5 487.3,346.5 487.4,346.5 487.6,346.5 487.7,346.5 487.8,346.5 487.9,346.5 488.0,346.5 488.1,346.5 488.2,346.5 488.3,346.5 488.4,346.2 488.5,345.9 488.7,345.6 488.8,345.3 488.9,345.1 489.0,344.9 489.1,344.8 489.2,344.7 489.3,344.7 489.4,344.7 489.5,344.7 489.6,344.8 489.8,345.0 489.9,345.2 490.0,345.4 490.1,345.7 490.2,346.0 490.3,346.4 490.4,346.5 490.5,346.5 490.6,346.5 490.7,346.5 490.9,346.5 491.0,346.5 491.1,346.5 491.2,346.5 491.3,346.5 491.4,346.5 491.5,346.5 491.6,346.5 491.7,346.5 491.8,346.5 492.0,346.5 492.1,346.5 492.2,346.5 492.3,346.5 492.4,346.5 492.5,346.5 492.6,346.5 492.7,346.5 492.8,346.5 493.0,346.5 493.1,346.5 493.2,346.5 493.3,346.5 493.4,346.5 493.5,346.5 493.6,346.5 493.7,346.5 493.8,346.5 493.9,346.5 494.1,346.5 494.2,346.5 494.3,346.5 494.4,346.5 494.5,346.5 494.6,346.5 494.7,346.5 494.8,346.5 494.9,346.5 495.0,346.5 495.2,346.5 495.3,346.5 495.4,346.5 495.5,346.5 495.6,346.5 495.7,346.5 495.8,346.5 495.9,346.5 496.0,346.3 496.1,345.7 496.3,345.1 496.4,344.6 496.5,344.2 496.6,343.7 496.7,343.4 496.8,343.1 496.9,342.8 497.0,342.6 497.1,342.4 497.2,342.3 497.4,342.2 497.5,342.2 497.6,342.2 497.7,342.3 497.8,342.4 497.9,342.5 498.0,342.7 498.1,343.0 498.2,343.2 498.3,343.6 498.5,344.0 498.6,344.4 498.7,344.9 498.8,345.5 498.9,346.1 499.0,346.5 499.1,346.5 499.2,346.5 499.3,346.5 499.5,346.5 499.6,346.5 499.7,346.5 499.8,346.5 499.9,346.5 500.0,346.5 500.1,346.5 500.2,346.5 500.3,346.5 500.4,346.5 500.6,346.5 500.7,346.5 500.8,346.5 500.9,346.5 501.0,346.5 501.1,346.5 501.2,346.5 501.3,346.5 501.4,346.5 501.5,346.5 501.7,346.5 501.8,346.5 501.9,346.5 502.0,346.5 502.1,346.5 502.2,346.5 502.3,346.5 502.4,346.5 502.5,346.5 502.6,346.5 502.8,346.5 502.9,346.5 503.0,346.5 503.1,346.5 503.2,346.5 503.3,346.5 503.4,346.5 503.5,346.5 503.6,346.5 503.7,346.5 503.9,345.7 504.0,344.9 504.1,344.2 504.2,343.5 504.3,342.9 504.4,342.3 504.5,341.8 504.6,341.4 504.7,341.0 504.8,340.6 505.0,340.3 505.1,340.1 505.2,339.9 505.3,339.7 505.4,339.6 505.5,339.5 505.6,339.5 505.7,339.5 505.8,339.5 506.0,339.6 506.1,339.8 506.2,340.0 506.3,340.2 506.4,340.5 506.5,340.9 506.6,341.3 506.7,341.7 506.8,342.2 506.9,342.8 507.1,343.4 507.2,344.1 507.3,344.8 507.4,345.6 507.5,346.5 507.6,346.5 507.7,346.5 507.8,346.5 507.9,346.5 508.0,346.5 508.2,346.5 508.3,346.5 508.4,346.5 508.5,346.5 508.6,346.5 508.7,346.5 508.8,346.5 508.9,346.5 509.0,346.5 509.1,346.5 509.3,346.5 509.4,346.5 509.5,346.5 509.6,346.5 509.7,346.5 509.8,346.5 509.9,346.5 510.0,346.5 510.1,346.5 510.2,346.5 510.4,346.5 510.5,346.5 510.6,346.5 510.7,346.5 510.8,346.5 510.9,346.5 511.0,346.5 511.1,346.5 511.2,346.5 511.3,346.5 511.5,346.5 511.6,346.5 511.7,345.4 511.8,344.4 511.9,343.5 512.0,342.6 512.1,341.8 512.2,341.1 512.3,340.4 512.5,339.8 512.6,339.2 512.7,338.7 512.8,338.3 512.9,337.9 513.0,337.5 513.1,337.2 513.2,337.0 513.3,336.8 513.4,336.6 513.6,336.5 513.7,336.4 513.8,336.4 513.9,336.4 514.0,336.5 514.1,336.6 514.2,336.7 514.3,336.9 514.4,337.2 514.5,337.5 514.7,337.8 514.8,338.2 514.9,338.6 515.0,339.1 515.1,339.7 515.2,340.3 515.3,341.0 515.4,341.8 515.5,342.6 515.6,343.5 515.8,344.5 515.9,345.6 516.0,346.5 516.1,346.5 516.2,346.5 516.3,346.5 516.4,346.5 516.5,346.5 516.6,346.5 516.7,346.5 516.9,346.5 517.0,346.5 517.1,346.5 517.2,346.5 517.3,346.5 517.4,346.5 517.5,346.5 517.6,346.5 517.7,346.5 517.8,346.5 518.0,346.5 518.1,346.5 518.2,346.5 518.3,346.5 518.4,346.5 518.5,346.5 518.6,346.5 518.7,346.5 518.8,346.5 519.0,346.5 519.1,346.5 519.2,346.5 519.3,346.5 519.4,346.5 519.5,345.4 519.6,344.1 519.7,342.9 519.8,341.8 519.9,340.8 520.1,339.9 520.2,339.0 520.3,338.2 520.4,337.5 520.5,336.8 520.6,336.2 520.7,335.7 520.8,335.2 520.9,334.7 521.0,334.3 521.2,334.0 521.3,333.7 521.4,333.4 521.5,333.2 521.6,333.1 521.7,333.0 521.8,332.9 521.9,332.9 522.0,332.9 522.1,332.9 522.3,333.0 522.4,333.2 522.5,333.4 522.6,333.6 522.7,333.9 522.8,334.3 522.9,334.7 523.0,335.1 523.1,335.6 523.2,336.2 523.4,336.8 523.5,337.5 523.6,338.3 523.7,339.1 523.8,340.0 523.9,341.0 524.0,342.1 524.1,343.3 524.2,344.6 524.4,346.0 524.5,346.5 524.6,346.5 524.7,346.5 524.8,346.5 524.9,346.5 525.0,346.5 525.1,346.5 525.2,346.5 525.3,346.5 525.5,346.5 525.6,346.5 525.7,346.5 525.8,346.5 525.9,346.5 526.0,346.5 526.1,346.5 526.2,346.5 526.3,346.5 526.4,346.5 526.6,346.5 526.7,346.5 526.8,346.5 526.9,346.5 527.0,346.5 527.1,346.5 527.2,346.5 527.3,345.9 527.4,344.2 527.5,342.7 527.7,341.3 527.8,340.0 527.9,338.8 528.0,337.7 528.1,336.7 528.2,335.8 528.3,334.9 528.4,334.1 528.5,333.4 528.6,332.7 528.8,332.1 528.9,331.6 529.0,331.1 529.1,330.6 529.2,330.2 529.3,329.9 529.4,329.6 529.5,329.3 529.6,329.1 529.7,329.0 529.9,328.8 530.0,328.8 530.1,328.7 530.2,328.7 530.3,328.8 530.4,328.9 530.5,329.0 530.6,329.2 530.7,329.5 530.9,329.8 531.0,330.1 531.1,330.5 531.2,331.0 531.3,331.5 531.4,332.0 531.5,332.7 531.6,333.3 531.7,334.1 531.8,334.9 532.0,335.9 532.1,336.9 532.2,338.0 532.3,339.2 532.4,340.5 532.5,341.9 532.6,343.5 532.7,345.3 532.8,346.5 532.9,346.5 533.1,346.5 533.2,346.5 533.3,346.5 533.4,346.5 533.5,346.5 533.6,346.5 533.7,346.5 533.8,346.5 533.9,346.5 534.0,346.5 534.2,346.5 534.3,346.5 534.4,346.5 534.5,346.5 534.6,346.5 534.7,346.5 534.8,346.5 534.9,346.5 535.0,346.5 535.1,346.5 535.3,344.8 535.4,342.8 535.5,341.0 535.6,339.3 535.7,337.8 535.8,336.4 535.9,335.1 536.0,334.0 536.1,332.9 536.2,331.8 536.4,330.9 536.5,330.1 536.6,329.3 536.7,328.5 536.8,327.9 536.9,327.2 537.0,326.7 537.1,326.2 537.2,325.7 537.4,325.3 537.5,325.0 537.6,324.7 537.7,324.4 537.8,324.2 537.9,324.0 538.0,323.9 538.1,323.8 538.2,323.8 538.3,323.8 538.5,323.8 538.6,323.9 538.7,324.1 538.8,324.3 538.9,324.5 539.0,324.8 539.1,325.1 539.2,325.5 539.3,325.9 539.4,326.4 539.6,327.0 539.7,327.6 539.8,328.3 539.9,329.1 540.0,329.9 540.1,330.8 540.2,331.8 540.3,332.9 540.4,334.1 540.5,335.4 540.7,336.9 540.8,338.5 540.9,340.2 541.0,342.2 541.1,344.4 541.2,346.5 541.3,346.5 541.4,346.5 541.5,346.5 541.6,346.5 541.8,346.5 541.9,346.5 542.0,346.5 542.1,346.5 542.2,346.5 542.3,346.5 542.4,346.5 542.5,346.5 542.6,346.5 542.7,346.5 542.9,346.5 543.0,346.5 543.1,346.1 543.2,343.4 543.3,341.0 543.4,338.8 543.5,336.8 543.6,335.0 543.7,333.3 543.9,331.8 544.0,330.4 544.1,329.1 544.2,328.0 544.3,326.9 544.4,325.8 544.5,324.9 544.6,324.0 544.7,323.2 544.8,322.5 545.0,321.8 545.1,321.2 545.2,320.6 545.3,320.1 545.4,319.6 545.5,319.2 545.6,318.8 545.7,318.5 545.8,318.3 545.9,318.0 546.1,317.8 546.2,317.7 546.3,317.6 546.4,317.5 546.5,317.5 546.6,317.6 546.7,317.7 546.8,317.8 546.9,318.0 547.0,318.2 547.2,318.4 547.3,318.8 547.4,319.1 547.5,319.6 547.6,320.1 547.7,320.6 547.8,321.2 547.9,321.9 548.0,322.6 548.1,323.4 548.3,324.3 548.4,325.3 548.5,326.4 548.6,327.6 548.7,328.9 548.8,330.4 548.9,332.0 549.0,333.8 549.1,335.7 549.2,337.9 549.4,340.5 549.5,343.3 549.6,346.5 549.7,346.5 549.8,346.5 549.9,346.5 550.0,346.5 550.1,346.5 550.2,346.5 550.4,346.5 550.5,346.5 550.6,346.5 550.7,346.5 550.8,346.5 550.9,346.5 551.0,344.9 551.1,341.4 551.2,338.4 551.3,335.6 551.5,333.2 551.6,331.0 551.7,329.1 551.8,327.3 551.9,325.6 552.0,324.1 552.1,322.7 552.2,321.4 552.3,320.1 552.4,319.0 552.6,318.0 552.7,317.0 552.8,316.1 552.9,315.3 553.0,314.5 553.1,313.8 553.2,313.2 553.3,312.6 553.4,312.0 553.5,311.6 553.7,311.1 553.8,310.7 553.9,310.4 554.0,310.1 554.1,309.8 554.2,309.6 554.3,309.4 554.4,309.3 554.5,309.2 554.6,309.2 554.8,309.2 554.9,309.2 555.0,309.3 555.1,309.4 555.2,309.6 555.3,309.9 555.4,310.2 555.5,310.5 555.6,310.9 555.7,311.3 555.9,311.8 556.0,312.4 556.1,313.1 556.2,313.8 556.3,314.6 556.4,315.4 556.5,316.4 556.6,317.4 556.7,318.6 556.9,319.9 557.0,321.3 557.1,322.9 557.2,324.7 557.3,326.6 557.4,328.8 557.5,331.3 557.6,334.2 557.7,337.6 557.8,341.6 558.0,346.5 558.1,346.5 558.2,346.5 558.3,346.5 558.4,346.5 558.5,346.5 558.6,346.5 558.7,346.5 558.8,346.5 558.9,342.9 559.1,338.1 559.2,334.0 559.3,330.5 559.4,327.4 559.5,324.7 559.6,322.3 559.7,320.0 559.8,318.0 559.9,316.2 560.0,314.5 560.2,312.9 560.3,311.4 560.4,310.1 560.5,308.8 560.6,307.6 560.7,306.5 560.8,305.5 560.9,304.6 561.0,303.7 561.1,302.8 561.3,302.1 561.4,301.4 561.5,300.7 561.6,300.1 561.7,299.5 561.8,299.0 561.9,298.5 562.0,298.1 562.1,297.7 562.3,297.4 562.4,297.1 562.5,296.8 562.6,296.6 562.7,296.4 562.8,296.3 562.9,296.2 563.0,296.2 563.1,296.2 563.2,296.3 563.4,296.4 563.5,296.5 563.6,296.7 563.7,296.9 563.8,297.2 563.9,297.6 564.0,298.0 564.1,298.5 564.2,299.0 564.3,299.6 564.5,300.3 564.6,301.1 564.7,301.9 564.8,302.9 564.9,303.9 565.0,305.1 565.1,306.4 565.2,307.9 565.3,309.5 565.4,311.4 565.6,313.5 565.7,315.9 565.8,318.7 565.9,322.0 566.0,326.0 566.1,330.9 566.2,337.4 566.3,346.4 566.4,346.5 566.5,346.5 566.7,346.5 566.8,346.5 566.9,337.9 567.0,330.2 567.1,324.2 567.2,319.3 567.3,315.1 567.4,311.5 567.5,308.3 567.6,305.4 567.8,302.8 567.9,300.4 568.0,298.2 568.1,296.1 568.2,294.2 568.3,292.4 568.4,290.8 568.5,289.2 568.6,287.7 568.8,286.2 568.9,284.9 569.0,283.6 569.1,282.4 569.2,281.2 569.3,280.1 569.4,279.0 569.5,278.0 569.6,277.0 569.7,276.1 569.9,275.2 570.0,274.3 570.1,273.5 570.2,272.7 570.3,271.9 570.4,271.2 570.5,270.5 570.6,269.8 570.7,269.1 570.8,268.5 571.0,267.9 571.1,267.3 571.2,266.7 571.3,266.2 571.4,265.7 571.5,265.2 571.6,264.7 571.7,264.3 571.8,263.8 571.9,263.4 572.1,263.0 572.2,262.7 572.3,262.3 572.4,262.0 572.5,261.6 572.6,261.3 572.7,261.1 572.8,260.8 572.9,260.5 573.0,260.3 573.2,260.1 573.3,259.9 573.4,259.7 573.5,259.5 573.6,259.3 573.7,259.2 573.8,259.1 573.9,259.0 574.0,258.9 574.1,258.8 574.3,258.7 574.4,258.7 574.5,258.6 574.6,258.6 574.7,258.6 574.8,258.6 574.9,258.6 575.0,258.7 575.1,258.7 575.3,258.8 575.4,258.9 575.5,259.0 575.6,259.1 575.7,259.2 575.8,259.3 575.9,259.5 576.0,259.7 576.1,259.9 576.2,260.1 576.4,260.3 576.5,260.5 576.6,260.8 576.7,261.1 576.8,261.3 576.9,261.6 577.0,262.0 577.1,262.3 577.2,262.7 577.3,263.0 577.5,263.4 577.6,263.8 577.7,264.3 577.8,264.7 577.9,265.2 578.0,265.7 578.1,266.2 578.2,266.7 578.3,267.3 578.4,267.9 578.6,268.5 578.7,269.1 578.8,269.8 578.9,270.5 579.0,271.2 579.1,271.9 579.2,272.7 579.3,273.5 579.4,274.3 579.5,275.2 579.7,276.1 579.8,277.0 579.9,278.0 580.0,279.0 580.1,280.1 580.2,281.2 580.3,282.4 580.4,283.6 580.5,284.9 580.6,286.2 580.8,287.7 580.9,289.2 581.0,290.8 581.1,292.4 581.2,294.2 581.3,296.1 581.4,298.2 581.5,300.4 581.6,302.8 581.8,305.4 581.9,308.3 582.0,311.5 582.1,315.1 582.2,319.3 582.3,324.2 582.4,330.2 582.5,337.9 582.6,346.5 582.7,346.5 582.9,346.5 583.0,346.5 583.1,346.4 583.2,337.4 583.3,330.9 583.4,326.0 583.5,322.0 583.6,318.7 583.7,315.9 583.8,313.5 584.0,311.4 584.1,309.5 584.2,307.9 584.3,306.4 584.4,305.1 584.5,303.9 584.6,302.9 584.7,301.9 584.8,301.1 584.9,300.3 585.1,299.6 585.2,299.0 585.3,298.5 585.4,298.0 585.5,297.6 585.6,297.2 585.7,296.9 585.8,296.7 585.9,296.5 586.0,296.4 586.2,296.3 586.3,296.2 586.4,296.2 586.5,296.2 586.6,296.3 586.7,296.4 586.8,296.6 586.9,296.8 587.0,297.1 587.1,297.4 587.3,297.7 587.4,298.1 587.5,298.5 587.6,299.0 587.7,299.5 587.8,300.1 587.9,300.7 588.0,301.4 588.1,302.1 588.3,302.8 588.4,303.7 588.5,304.6 588.6,305.5 588.7,306.5 588.8,307.6 588.9,308.8 589.0,310.1 589.1,311.4 589.2,312.9 589.4,314.5 589.5,316.2 589.6,318.0 589.7,320.0 589.8,322.3 589.9,324.7 590.0,327.4 590.1,330.5 590.2,334.0 590.3,338.1 590.5,342.9 590.6,346.5 590.7,346.5 590.8,346.5 590.9,346.5 591.0,346.5 591.1,346.5 591.2,346.5 591.3,346.5 591.4,346.5 591.6,341.6 591.7,337.6 591.8,334.2 591.9,331.3 592.0,328.8 592.1,326.6 592.2,324.7 592.3,322.9 592.4,321.3 592.5,319.9 592.7,318.6 592.8,317.4 592.9,316.4 593.0,315.4 593.1,314.6 593.2,313.8 593.3,313.1 593.4,312.4 593.5,311.8 593.7,311.3 593.8,310.9 593.9,310.5 594.0,310.2 594.1,309.9 594.2,309.6 594.3,309.4 594.4,309.3 594.5,309.2 594.6,309.2 594.8,309.2 594.9,309.2 595.0,309.3 595.1,309.4 595.2,309.6 595.3,309.8 595.4,310.1 595.5,310.4 595.6,310.7 595.7,311.1 595.9,311.6 596.0,312.0 596.1,312.6 596.2,313.2 596.3,313.8 596.4,314.5 596.5,315.3 596.6,316.1 596.7,317.0 596.8,318.0 597.0,319.0 597.1,320.1 597.2,321.4 597.3,322.7 597.4,324.1 597.5,325.6 597.6,327.3 597.7,329.1 597.8,331.0 597.9,333.2 598.1,335.6 598.2,338.4 598.3,341.4 598.4,344.9 598.5,346.5 598.6,346.5 598.7,346.5 598.8,346.5 598.9,346.5 599.0,346.5 599.2,346.5 599.3,346.5 599.4,346.5 599.5,346.5 599.6,346.5 599.7,346.5 599.8,346.5 599.9,343.3 600.0,340.5 600.2,337.9 600.3,335.7 600.4,333.8 600.5,332.0 600.6,330.4 600.7,328.9 600.8,327.6 600.9,326.4 601.0,325.3 601.1,324.3 601.3,323.4 601.4,322.6 601.5,321.9 601.6,321.2 601.7,320.6 601.8,320.1 601.9,319.6 602.0,319.1 602.1,318.8 602.2,318.4 602.4,318.2 602.5,318.0 602.6,317.8 602.7,317.7 602.8,317.6 602.9,317.5 603.0,317.5 603.1,317.6 603.2,317.7 603.3,317.8 603.5,318.0 603.6,318.3 603.7,318.5 603.8,318.8 603.9,319.2 604.0,319.6 604.1,320.1 604.2,320.6 604.3,321.2 604.4,321.8 604.6,322.5 604.7,323.2 604.8,324.0 604.9,324.9 605.0,325.8 605.1,326.9 605.2,328.0 605.3,329.1 605.4,330.4 605.5,331.8 605.7,333.3 605.8,335.0 605.9,336.8 606.0,338.8 606.1,341.0 606.2,343.4 606.3,346.1 606.4,346.5 606.5,346.5 606.7,346.5 606.8,346.5 606.9,346.5 607.0,346.5 607.1,346.5 607.2,346.5 607.3,346.5 607.4,346.5 607.5,346.5 607.6,346.5 607.8,346.5 607.9,346.5 608.0,346.5 608.1,346.5 608.2,346.5 608.3,344.4 608.4,342.2 608.5,340.2 608.6,338.5 608.7,336.9 608.9,335.4 609.0,334.1 609.1,332.9 609.2,331.8 609.3,330.8 609.4,329.9 609.5,329.1 609.6,328.3 609.7,327.6 609.8,327.0 610.0,326.4 610.1,325.9 610.2,325.5 610.3,325.1 610.4,324.8 610.5,324.5 610.6,324.3 610.7,324.1 610.8,323.9 610.9,323.8 611.1,323.8 611.2,323.8 611.3,323.8 611.4,323.9 611.5,324.0 611.6,324.2 611.7,324.4 611.8,324.7 611.9,325.0 612.0,325.3 612.2,325.7 612.3,326.2 612.4,326.7 612.5,327.2 612.6,327.9 612.7,328.5 612.8,329.3 612.9,330.1 613.0,330.9 613.2,331.8 613.3,332.9 613.4,334.0 613.5,335.1 613.6,336.4 613.7,337.8 613.8,339.3 613.9,341.0 614.0,342.8 614.1,344.8 614.3,346.5 614.4,346.5 614.5,346.5 614.6,346.5 614.7,346.5 614.8,346.5 614.9,346.5 615.0,346.5 615.1,346.5 615.2,346.5 615.4,346.5 615.5,346.5 615.6,346.5 615.7,346.5 615.8,346.5 615.9,346.5 616.0,346.5 616.1,346.5 616.2,346.5 616.3,346.5 616.5,346.5 616.6,346.5 616.7,345.3 616.8,343.5 616.9,341.9 617.0,340.5 617.1,339.2 617.2,338.0 617.3,336.9 617.4,335.9 617.6,334.9 617.7,334.1 617.8,333.3 617.9,332.7 618.0,332.0 618.1,331.5 618.2,331.0 618.3,330.5 618.4,330.1 618.5,329.8 618.7,329.5 618.8,329.2 618.9,329.0 619.0,328.9 619.1,328.8 619.2,328.7 619.3,328.7 619.4,328.8 619.5,328.8 619.7,329.0 619.8,329.1 619.9,329.3 620.0,329.6 620.1,329.9 620.2,330.2 620.3,330.6 620.4,331.1 620.5,331.6 620.6,332.1 620.8,332.7 620.9,333.4 621.0,334.1 621.1,334.9 621.2,335.8 621.3,336.7 621.4,337.7 621.5,338.8 621.6,340.0 621.7,341.3 621.9,342.7 622.0,344.2 622.1,345.9 622.2,346.5 622.3,346.5 622.4,346.5 622.5,346.5 622.6,346.5 622.7,346.5 622.8,346.5 623.0,346.5 623.1,346.5 623.2,346.5 623.3,346.5 623.4,346.5 623.5,346.5 623.6,346.5 623.7,346.5 623.8,346.5 623.9,346.5 624.1,346.5 624.2,346.5 624.3,346.5 624.4,346.5 624.5,346.5 624.6,346.5 624.7,346.5 624.8,346.5 624.9,346.5 625.0,346.0 625.2,344.6 625.3,343.3 625.4,342.1 625.5,341.0 625.6,340.0 625.7,339.1 625.8,338.3 625.9,337.5 626.0,336.8 626.2,336.2 626.3,335.6 626.4,335.1 626.5,334.7 626.6,334.3 626.7,333.9 626.8,333.6 626.9,333.4 627.0,333.2 627.1,333.0 627.3,332.9 627.4,332.9 627.5,332.9 627.6,332.9 627.7,333.0 627.8,333.1 627.9,333.2 628.0,333.4 628.1,333.7 628.2,334.0 628.4,334.3 628.5,334.7 628.6,335.2 628.7,335.7 628.8,336.2 628.9,336.8 629.0,337.5 629.1,338.2 629.2,339.0 629.3,339.9 629.5,340.8 629.6,341.8 629.7,342.9 629.8,344.1 629.9,345.4 630.0,346.5 630.1,346.5 630.2,346.5 630.3,346.5 630.4,346.5 630.6,346.5 630.7,346.5 630.8,346.5 630.9,346.5 631.0,346.5 631.1,346.5 631.2,346.5 631.3,346.5 631.4,346.5 631.6,346.5 631.7,346.5 631.8,346.5 631.9,346.5 632.0,346.5 632.1,346.5 632.2,346.5 632.3,346.5 632.4,346.5 632.5,346.5 632.7,346.5 632.8,346.5 632.9,346.5 633.0,346.5 633.1,346.5 633.2,346.5 633.3,346.5 633.4,346.5 633.5,345.6 633.6,344.5 633.8,343.5 633.9,342.6 634.0,341.8 634.1,341.0 634.2,340.3 634.3,339.7 634.4,339.1 634.5,338.6 634.6,338.2 634.7,337.8 634.9,337.5 635.0,337.2 635.1,336.9 635.2,336.7 635.3,336.6 635.4,336.5 635.5,336.4 635.6,336.4 635.7,336.4 635.8,336.5 636.0,336.6 636.1,336.8 636.2,337.0 636.3,337.2 636.4,337.5 636.5,337.9 636.6,338.3 636.7,338.7 636.8,339.2 636.9,339.8 637.1,340.4 637.2,341.1 637.3,341.8 637.4,342.6 637.5,343.5 637.6,344.4 637.7,345.4 637.8,346.5 637.9,346.5 638.1,346.5 638.2,346.5 638.3,346.5 638.4,346.5 638.5,346.5 638.6,346.5 638.7,346.5 638.8,346.5 638.9,346.5 639.0,346.5 639.2,346.5 639.3,346.5 639.4,346.5 639.5,346.5 639.6,346.5 639.7,346.5 639.8,346.5 639.9,346.5 640.0,346.5 640.1,346.5 640.3,346.5 640.4,346.5 640.5,346.5 640.6,346.5 640.7,346.5 640.8,346.5 640.9,346.5 641.0,346.5 641.1,346.5 641.2,346.5 641.4,346.5 641.5,346.5 641.6,346.5 641.7,346.5 641.8,346.5 641.9,346.5 642.0,345.6 642.1,344.8 642.2,344.1 642.3,343.4 642.5,342.8 642.6,342.2 642.7,341.7 642.8,341.3 642.9,340.9 643.0,340.5 643.1,340.2 643.2,340.0 643.3,339.8 643.4,339.6 643.6,339.5 643.7,339.5 643.8,339.5 643.9,339.5 644.0,339.6 644.1,339.7 644.2,339.9 644.3,340.1 644.4,340.3 644.6,340.6 644.7,341.0 644.8,341.4 644.9,341.8 645.0,342.3 645.1,342.9 645.2,343.5 645.3,344.2 645.4,344.9 645.5,345.7 645.7,346.5 645.8,346.5 645.9,346.5 646.0,346.5 646.1,346.5 646.2,346.5 646.3,346.5 646.4,346.5 646.5,346.5 646.6,346.5 646.8,346.5 646.9,346.5 647.0,346.5 647.1,346.5 647.2,346.5 647.3,346.5 647.4,346.5 647.5,346.5 647.6,346.5 647.7,346.5 647.9,346.5 648.0,346.5 648.1,346.5 648.2,346.5 648.3,346.5 648.4,346.5 648.5,346.5 648.6,346.5 648.7,346.5 648.8,346.5 649.0,346.5 649.1,346.5 649.2,346.5 649.3,346.5 649.4,346.5 649.5,346.5 649.6,346.5 649.7,346.5 649.8,346.5 649.9,346.5 650.1,346.5 650.2,346.5 650.3,346.5 650.4,346.5 650.5,346.1 650.6,345.5 650.7,344.9 650.8,344.4 650.9,344.0 651.1,343.6 651.2,343.2 651.3,343.0 651.4,342.7 651.5,342.5 651.6,342.4 651.7,342.3 651.8,342.2 651.9,342.2 652.0,342.2 652.2,342.3 652.3,342.4 652.4,342.6 652.5,342.8 652.6,343.1 652.7,343.4 652.8,343.7 652.9,344.2 653.0,344.6 653.1,345.1 653.3,345.7 653.4,346.3 653.5,346.5 653.6,346.5 653.7,346.5 653.8,346.5 653.9,346.5 654.0,346.5 654.1,346.5 654.2,346.5 654.4,346.5 654.5,346.5 654.6,346.5 654.7,346.5 654.8,346.5 654.9,346.5 655.0,346.5 655.1,346.5 655.2,346.5 655.3,346.5 655.5,346.5 655.6,346.5 655.7,346.5 655.8,346.5 655.9,346.5 656.0,346.5 656.1,346.5 656.2,346.5 656.3,346.5 656.4,346.5 656.6,346.5 656.7,346.5 656.8,346.5 656.9,346.5 657.0,346.5 657.1,346.5 657.2,346.5 657.3,346.5 657.4,346.5 657.6,346.5 657.7,346.5 657.8,346.5 657.9,346.5 658.0,346.5 658.1,346.5 658.2,346.5 658.3,346.5 658.4,346.5 658.5,346.5 658.7,346.5 658.8,346.5 658.9,346.5 659.0,346.5 659.1,346.4 659.2,346.0 659.3,345.7 659.4,345.4 659.5,345.2 659.6,345.0 659.8,344.8 659.9,344.7 660.0,344.7 660.1,344.7 660.2,344.7 660.3,344.8 660.4,344.9 660.5,345.1 660.6,345.3 660.7,345.6 660.9,345.9 661.0,346.2 661.1,346.5 661.2,346.5 661.3,346.5 661.4,346.5 661.5,346.5 661.6,346.5 661.7,346.5 661.8,346.5 662.0,346.5 662.1,346.5 662.2,346.5 662.3,346.5 662.4,346.5 662.5,346.5 662.6,346.5 662.7,346.5 662.8,346.5" fill="none" stroke="#28289a" stroke-width="1.1" stroke-linejoin="round"/>
<rect x="486.70" y="207.80" width="176.80" height="135.80" fill="none" stroke="#8e8e8e" stroke-width="1.5"/>
<line x1="506.90" y1="343.60" x2="506.90" y2="341.60" stroke="#606060" stroke-width="1"/>
<line x1="506.90" y1="207.80" x2="506.90" y2="209.80" stroke="#606060" stroke-width="1"/>
<text x="505.60" y="352.90" font-family="Liberation Sans" font-size="8.8" text-anchor="middle" font-weight="normal" fill="#0a0a0a" stroke="#0a0a0a" stroke-width="0.2" >-10</text>
<line x1="540.80" y1="343.60" x2="540.80" y2="341.60" stroke="#606060" stroke-width="1"/>
<line x1="540.80" y1="207.80" x2="540.80" y2="209.80" stroke="#606060" stroke-width="1"/>
<text x="539.50" y="352.90" font-family="Liberation Sans" font-size="8.8" text-anchor="middle" font-weight="normal" fill="#0a0a0a" stroke="#0a0a0a" stroke-width="0.2" >-5</text>
<line x1="574.70" y1="343.60" x2="574.70" y2="341.60" stroke="#606060" stroke-width="1"/>
<line x1="574.70" y1="207.80" x2="574.70" y2="209.80" stroke="#606060" stroke-width="1"/>
<text x="574.70" y="352.90" font-family="Liberation Sans" font-size="8.8" text-anchor="middle" font-weight="normal" fill="#0a0a0a" stroke="#0a0a0a" stroke-width="0.2" >0</text>
<line x1="608.60" y1="343.60" x2="608.60" y2="341.60" stroke="#606060" stroke-width="1"/>
<line x1="608.60" y1="207.80" x2="608.60" y2="209.80" stroke="#606060" stroke-width="1"/>
<text x="608.60" y="352.90" font-family="Liberation Sans" font-size="8.8" text-anchor="middle" font-weight="normal" fill="#0a0a0a" stroke="#0a0a0a" stroke-width="0.2" >5</text>
<line x1="642.50" y1="343.60" x2="642.50" y2="341.60" stroke="#606060" stroke-width="1"/>
<line x1="642.50" y1="207.80" x2="642.50" y2="209.80" stroke="#606060" stroke-width="1"/>
<text x="642.50" y="352.90" font-family="Liberation Sans" font-size="8.8" text-anchor="middle" font-weight="normal" fill="#0a0a0a" stroke="#0a0a0a" stroke-width="0.2" >10</text>
<line x1="486.70" y1="230.25" x2="488.70" y2="230.25" stroke="#606060" stroke-width="1"/>
<line x1="663.50" y1="230.25" x2="661.50" y2="230.25" stroke="#606060" stroke-width="1"/>
<text x="485.40" y="233.65" font-family="Liberation Sans" font-size="8.8" text-anchor="end" font-weight="normal" fill="#0a0a0a" stroke="#0a0a0a" stroke-width="0.2" >10</text>
<line x1="486.70" y1="258.60" x2="488.70" y2="258.60" stroke="#606060" stroke-width="1"/>
<line x1="663.50" y1="258.60" x2="661.50" y2="258.60" stroke="#606060" stroke-width="1"/>
<text x="485.40" y="262.00" font-family="Liberation Sans" font-size="8.8" text-anchor="end" font-weight="normal" fill="#0a0a0a" stroke="#0a0a0a" stroke-width="0.2" >0</text>
<line x1="486.70" y1="286.95" x2="488.70" y2="286.95" stroke="#606060" stroke-width="1"/>
<line x1="663.50" y1="286.95" x2="661.50" y2="286.95" stroke="#606060" stroke-width="1"/>
<text x="485.40" y="290.35" font-family="Liberation Sans" font-size="8.8" text-anchor="end" font-weight="normal" fill="#0a0a0a" stroke="#0a0a0a" stroke-width="0.2" >-10</text>
<line x1="486.70" y1="315.30" x2="488.70" y2="315.30" stroke="#606060" stroke-width="1"/>
<line x1="663.50" y1="315.30" x2="661.50" y2="315.30" stroke="#606060" stroke-width="1"/>
<text x="485.40" y="318.70" font-family="Liberation Sans" font-size="8.8" text-anchor="end" font-weight="normal" fill="#0a0a0a" stroke="#0a0a0a" stroke-width="0.2" >-20</text>
<line x1="486.70" y1="343.65" x2="488.70" y2="343.65" stroke="#606060" stroke-width="1"/>
<line x1="663.50" y1="343.65" x2="661.50" y2="343.65" stroke="#606060" stroke-width="1"/>
<text x="485.40" y="347.05" font-family="Liberation Sans" font-size="8.8" text-anchor="end" font-weight="normal" fill="#0a0a0a" stroke="#0a0a0a" stroke-width="0.2" >-30</text>
<text x="575.10" y="363.10" font-family="Liberation Sans" font-size="8.8" text-anchor="middle" font-weight="normal" fill="#0a0a0a" stroke="#0a0a0a" stroke-width="0.2" >Azimuth samples</text>
<text transform="translate(467.7,276.20000000000005) rotate(-90)" font-family="Liberation Sans" font-size="8.8" text-anchor="middle" fill="#0a0a0a" stroke="#0a0a0a" stroke-width="0.2">Magnitude (dB)</text>
<text x="571.50" y="382.90" font-family="Liberation Serif" font-size="14.3" text-anchor="middle" font-weight="bold" fill="#0a0a0a" stroke="#0a0a0a" stroke-width="0.1" letter-spacing="0.5">(f)</text>
</g>
</svg>
</body></html>
